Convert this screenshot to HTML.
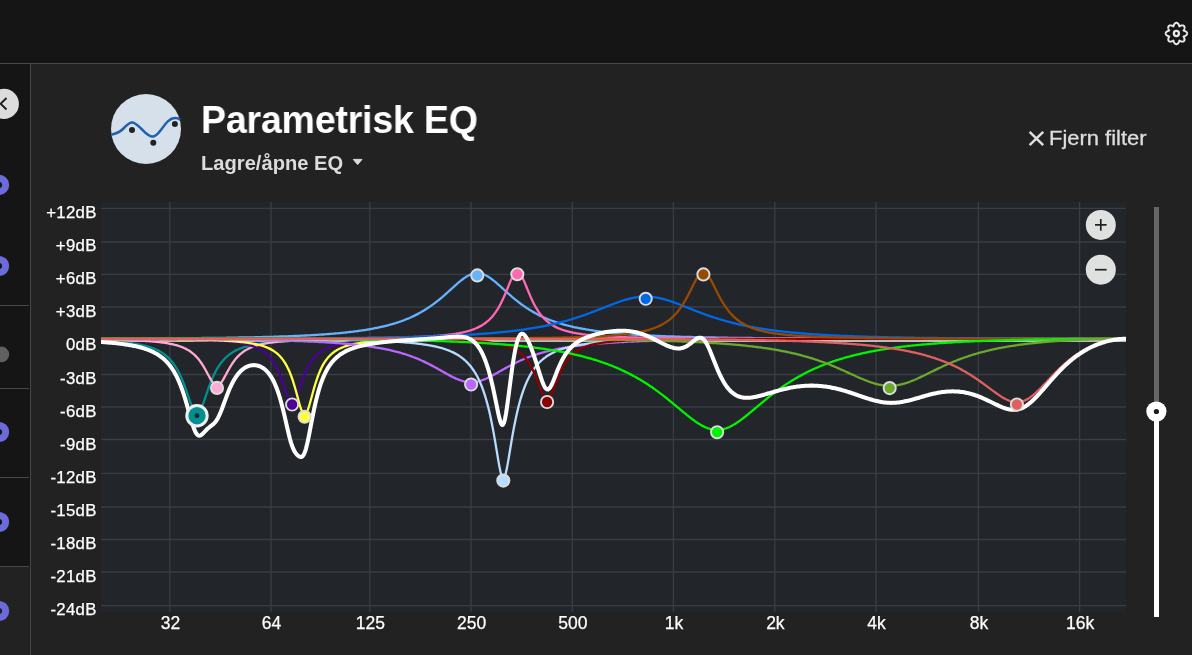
<!DOCTYPE html>
<html><head><meta charset="utf-8"><title>Parametrisk EQ</title>
<style>
html,body{margin:0;padding:0}
body{width:1192px;height:655px;overflow:hidden;background:#222222;position:relative;font-family:"Liberation Sans",sans-serif;color:#fff}
#top{position:absolute;left:0;top:0;width:1192px;height:63px;background:#151515;border-bottom:1px solid #48484c}
#side{position:absolute;left:0;top:64px;width:30px;height:591px;background:#151515;border-right:1px solid #45454a;overflow:hidden}
#side .sel{position:absolute;left:0;top:503px;width:30px;height:100px;background:#222}
#side .dv{position:absolute;left:0;width:29px;height:1px;background:#47474b}
h1{position:absolute;left:201px;top:96.5px;margin:0;font-size:38.8px;font-weight:bold;letter-spacing:-0.2px;white-space:nowrap;line-height:46px;transform-origin:0 50%;transform:scaleX(0.967);will-change:transform}
#sub{position:absolute;left:201px;top:150.6px;transform:scaleX(1.007);will-change:transform;font-size:20px;font-weight:bold;color:#dcdcdc;white-space:nowrap;line-height:24px;transform-origin:0 50%}
#rm{-webkit-text-stroke:0.3px #dedede;position:absolute;left:1049px;top:126px;font-size:20.5px;transform:scaleX(1.07);will-change:transform;color:#dedede;white-space:nowrap;line-height:24px;transform-origin:0 50%}
.hl,.vl{-webkit-text-stroke:0.25px #fff}
.hl{position:absolute;left:30.5px;width:66.2px;text-align:right;font-size:16.8px;letter-spacing:0.3px;line-height:20px;color:#fff;white-space:nowrap}
.vl{position:absolute;top:613px;width:60px;text-align:center;font-size:17.5px;line-height:20px;color:#fff;white-space:nowrap}
</style></head><body>
<div id="top"></div>
<div id="side"><div class="sel"></div>
<div class="dv" style="top:241px"></div><div class="dv" style="top:324px"></div><div class="dv" style="top:413px"></div><div class="dv" style="top:502px"></div>
</div>
<svg width="1192" height="655" viewBox="0 0 1192 655" style="position:absolute;left:0;top:0">
<path d="M1176.40,22.80L1176.57,22.81L1176.74,22.83L1176.90,22.87L1177.07,22.92L1177.23,22.99L1177.39,23.08L1177.54,23.18L1177.69,23.29L1177.84,23.41L1177.98,23.55L1178.11,23.70L1178.24,23.86L1178.36,24.02L1178.48,24.20L1178.59,24.39L1178.69,24.58L1178.79,24.78L1178.88,24.98L1178.96,25.19L1179.03,25.39L1179.10,25.60L1179.17,25.81L1179.23,26.01L1179.29,26.21L1179.35,26.39L1179.51,26.30L1179.69,26.20L1179.88,26.10L1180.07,26.00L1180.27,25.90L1180.47,25.81L1180.67,25.72L1180.88,25.64L1181.09,25.57L1181.30,25.51L1181.51,25.46L1181.71,25.41L1181.92,25.38L1182.12,25.36L1182.32,25.35L1182.52,25.35L1182.71,25.37L1182.89,25.39L1183.07,25.43L1183.24,25.49L1183.41,25.55L1183.56,25.63L1183.71,25.72L1183.84,25.82L1183.97,25.93L1184.08,26.06L1184.18,26.19L1184.27,26.34L1184.35,26.49L1184.41,26.66L1184.47,26.83L1184.51,27.01L1184.53,27.19L1184.55,27.38L1184.55,27.58L1184.54,27.78L1184.52,27.98L1184.49,28.19L1184.44,28.39L1184.39,28.60L1184.33,28.81L1184.26,29.02L1184.18,29.23L1184.09,29.43L1184.00,29.63L1183.90,29.83L1183.80,30.02L1183.70,30.21L1183.60,30.39L1183.51,30.55L1183.69,30.61L1183.89,30.67L1184.09,30.73L1184.30,30.80L1184.51,30.87L1184.71,30.94L1184.92,31.02L1185.12,31.11L1185.32,31.21L1185.51,31.31L1185.70,31.42L1185.88,31.54L1186.04,31.66L1186.20,31.79L1186.35,31.92L1186.49,32.06L1186.61,32.21L1186.72,32.36L1186.82,32.51L1186.91,32.67L1186.98,32.83L1187.03,33.00L1187.07,33.16L1187.09,33.33L1187.10,33.50L1187.09,33.67L1187.07,33.84L1187.03,34.00L1186.98,34.17L1186.91,34.33L1186.82,34.49L1186.72,34.64L1186.61,34.79L1186.49,34.94L1186.35,35.08L1186.20,35.21L1186.04,35.34L1185.88,35.46L1185.70,35.58L1185.51,35.69L1185.32,35.79L1185.12,35.89L1184.92,35.98L1184.71,36.06L1184.51,36.13L1184.30,36.20L1184.09,36.27L1183.89,36.33L1183.69,36.39L1183.51,36.45L1183.60,36.61L1183.70,36.79L1183.80,36.98L1183.90,37.17L1184.00,37.37L1184.09,37.57L1184.18,37.77L1184.26,37.98L1184.33,38.19L1184.39,38.40L1184.44,38.61L1184.49,38.81L1184.52,39.02L1184.54,39.22L1184.55,39.42L1184.55,39.62L1184.53,39.81L1184.51,39.99L1184.47,40.17L1184.41,40.34L1184.35,40.51L1184.27,40.66L1184.18,40.81L1184.08,40.94L1183.97,41.07L1183.84,41.18L1183.71,41.28L1183.56,41.37L1183.41,41.45L1183.24,41.51L1183.07,41.57L1182.89,41.61L1182.71,41.63L1182.52,41.65L1182.32,41.65L1182.12,41.64L1181.92,41.62L1181.71,41.59L1181.51,41.54L1181.30,41.49L1181.09,41.43L1180.88,41.36L1180.67,41.28L1180.47,41.19L1180.27,41.10L1180.07,41.00L1179.88,40.90L1179.69,40.80L1179.51,40.70L1179.35,40.61L1179.29,40.79L1179.23,40.99L1179.17,41.19L1179.10,41.40L1179.03,41.61L1178.96,41.81L1178.88,42.02L1178.79,42.22L1178.69,42.42L1178.59,42.61L1178.48,42.80L1178.36,42.98L1178.24,43.14L1178.11,43.30L1177.98,43.45L1177.84,43.59L1177.69,43.71L1177.54,43.82L1177.39,43.92L1177.23,44.01L1177.07,44.08L1176.90,44.13L1176.74,44.17L1176.57,44.19L1176.40,44.20L1176.23,44.19L1176.06,44.17L1175.90,44.13L1175.73,44.08L1175.57,44.01L1175.41,43.92L1175.26,43.82L1175.11,43.71L1174.96,43.59L1174.82,43.45L1174.69,43.30L1174.56,43.14L1174.44,42.98L1174.32,42.80L1174.21,42.61L1174.11,42.42L1174.01,42.22L1173.92,42.02L1173.84,41.81L1173.77,41.61L1173.70,41.40L1173.63,41.19L1173.57,40.99L1173.51,40.79L1173.45,40.61L1173.29,40.70L1173.11,40.80L1172.92,40.90L1172.73,41.00L1172.53,41.10L1172.33,41.19L1172.13,41.28L1171.92,41.36L1171.71,41.43L1171.50,41.49L1171.29,41.54L1171.09,41.59L1170.88,41.62L1170.68,41.64L1170.48,41.65L1170.28,41.65L1170.09,41.63L1169.91,41.61L1169.73,41.57L1169.56,41.51L1169.39,41.45L1169.24,41.37L1169.09,41.28L1168.96,41.18L1168.83,41.07L1168.72,40.94L1168.62,40.81L1168.53,40.66L1168.45,40.51L1168.39,40.34L1168.33,40.17L1168.29,39.99L1168.27,39.81L1168.25,39.62L1168.25,39.42L1168.26,39.22L1168.28,39.02L1168.31,38.81L1168.36,38.61L1168.41,38.40L1168.47,38.19L1168.54,37.98L1168.62,37.77L1168.71,37.57L1168.80,37.37L1168.90,37.17L1169.00,36.98L1169.10,36.79L1169.20,36.61L1169.29,36.45L1169.11,36.39L1168.91,36.33L1168.71,36.27L1168.50,36.20L1168.29,36.13L1168.09,36.06L1167.88,35.98L1167.68,35.89L1167.48,35.79L1167.29,35.69L1167.10,35.58L1166.92,35.46L1166.76,35.34L1166.60,35.21L1166.45,35.08L1166.31,34.94L1166.19,34.79L1166.08,34.64L1165.98,34.49L1165.89,34.33L1165.82,34.17L1165.77,34.00L1165.73,33.84L1165.71,33.67L1165.70,33.50L1165.71,33.33L1165.73,33.16L1165.77,33.00L1165.82,32.83L1165.89,32.67L1165.98,32.51L1166.08,32.36L1166.19,32.21L1166.31,32.06L1166.45,31.92L1166.60,31.79L1166.76,31.66L1166.92,31.54L1167.10,31.42L1167.29,31.31L1167.48,31.21L1167.68,31.11L1167.88,31.02L1168.09,30.94L1168.29,30.87L1168.50,30.80L1168.71,30.73L1168.91,30.67L1169.11,30.61L1169.29,30.55L1169.20,30.39L1169.10,30.21L1169.00,30.02L1168.90,29.83L1168.80,29.63L1168.71,29.43L1168.62,29.23L1168.54,29.02L1168.47,28.81L1168.41,28.60L1168.36,28.39L1168.31,28.19L1168.28,27.98L1168.26,27.78L1168.25,27.58L1168.25,27.38L1168.27,27.19L1168.29,27.01L1168.33,26.83L1168.39,26.66L1168.45,26.49L1168.53,26.34L1168.62,26.19L1168.72,26.06L1168.83,25.93L1168.96,25.82L1169.09,25.72L1169.24,25.63L1169.39,25.55L1169.56,25.49L1169.73,25.43L1169.91,25.39L1170.09,25.37L1170.28,25.35L1170.48,25.35L1170.68,25.36L1170.88,25.38L1171.09,25.41L1171.29,25.46L1171.50,25.51L1171.71,25.57L1171.92,25.64L1172.13,25.72L1172.33,25.81L1172.53,25.90L1172.73,26.00L1172.92,26.10L1173.11,26.20L1173.29,26.30L1173.45,26.39L1173.51,26.21L1173.57,26.01L1173.63,25.81L1173.70,25.60L1173.77,25.39L1173.84,25.19L1173.92,24.98L1174.01,24.78L1174.11,24.58L1174.21,24.39L1174.32,24.20L1174.44,24.02L1174.56,23.86L1174.69,23.70L1174.82,23.55L1174.96,23.41L1175.11,23.29L1175.26,23.18L1175.41,23.08L1175.57,22.99L1175.73,22.92L1175.90,22.87L1176.06,22.83L1176.23,22.81Z" fill="none" stroke="#e8e8e8" stroke-width="1.95" stroke-linejoin="round"/>
<circle cx="1176.4" cy="33.5" r="2.55" fill="none" stroke="#e8e8e8" stroke-width="2.3"/>
<circle cx="3.8" cy="103.9" r="15.1" fill="#dcdcdc"/>
<path d="M6.5,98L0.6,103.8L6.5,109.5" fill="none" stroke="#1c1c1c" stroke-width="1.9"/>
<g fill="none" stroke="#6b6bdc" stroke-width="7">
<circle cx="-0.9" cy="184.9" r="6.6"/><circle cx="-0.9" cy="266" r="6.6"/><circle cx="-0.9" cy="432" r="6.6"/><circle cx="-0.9" cy="522" r="6.6"/><circle cx="-0.9" cy="611" r="6.6"/>
</g>
<circle cx="1.4" cy="354.4" r="7.8" fill="#606060"/>
<circle cx="146" cy="129" r="35" fill="#d6e0eb"/>
<path d="M111,134.7C116,133.8 120,132 123.5,128.5C127,125 129,122.4 132,122.4C135.5,122.4 138,125.5 141.5,129C145.5,133 148.5,136.6 152.4,136.6C156.3,136.6 159,132.5 162,128.5C166,123 169.5,118 175,118C177.2,118 178.8,118.6 180.2,119.8" fill="none" stroke="#2060b0" stroke-width="2.5"/>
<circle cx="132" cy="129.9" r="3" fill="#222"/><circle cx="153.3" cy="142.7" r="3" fill="#222"/><circle cx="174.9" cy="124" r="3" fill="#222"/>
<path d="M353.3,159.4H362L357.65,164.6Z" fill="#dcdcdc" stroke="#dcdcdc" stroke-width="1" stroke-linejoin="round"/>
<path d="M1029.6,131.8L1043.2,145.2M1043.2,131.8L1029.6,145.2" stroke="#dedede" stroke-width="2.5" fill="none"/>
<rect x="1154" y="207" width="5" height="205" fill="#666"/>
<rect x="1154" y="411" width="5" height="206" fill="#fff"/>
<circle cx="1156.4" cy="411.5" r="10.1" fill="#fff"/><circle cx="1156.4" cy="411.5" r="2.6" fill="#1c1c1c"/>
</svg>
<h1>Parametrisk EQ</h1>
<div id="sub">Lagre/åpne EQ</div>
<div id="rm">Fjern filter</div>
<svg id="chart" width="1192" height="655" viewBox="0 0 1192 655" style="position:absolute;left:0;top:0">
<rect x="101" y="202" width="1025" height="410" fill="#22252a"/>
<path d="M101,208.3H1126M101,242.0H1126M101,274.4H1126M101,307.0H1126M101,374.5H1126M101,407.0H1126M101,439.5H1126M101,473.3H1126M101,507.0H1126M101,539.5H1126M101,572.0H1126M101,605.6H1126M169.8,202V612M271.0,202V612M369.8,202V612M471.0,202V612M572.3,202V612M673.4,202V612M774.8,202V612M876.0,202V612M978.4,202V612M1079.6,202V612" stroke="#393e46" stroke-width="1.3" fill="none"/>
<path d="M101,341H1126" stroke="#ececec" stroke-width="1.6" fill="none"/>
<defs><clipPath id="cc"><rect x="101" y="202" width="1025" height="410"/></clipPath></defs>
<g clip-path="url(#cc)">
<g fill="none" stroke-width="2.3" stroke-linejoin="round" stroke-linecap="round">
<path d="M99.0,340.7L100.0,340.7L101.0,340.8L102.0,340.8L103.0,340.9L104.0,340.9L105.0,341.0L106.0,341.0L107.0,341.1L108.0,341.1L109.0,341.2L110.0,341.3L111.0,341.3L112.0,341.4L113.0,341.5L114.0,341.5L115.0,341.6L116.0,341.7L117.0,341.7L118.0,341.8L119.0,341.9L120.0,342.0L121.0,342.1L122.0,342.2L123.0,342.3L124.0,342.4L125.0,342.5L126.0,342.6L127.0,342.7L128.0,342.8L129.0,342.9L130.0,343.1L131.0,343.2L132.0,343.3L133.0,343.5L134.0,343.6L135.0,343.8L136.0,343.9L137.0,344.1L138.0,344.3L139.0,344.5L140.0,344.6L141.0,344.8L142.0,345.1L143.0,345.3L144.0,345.5L145.0,345.8L146.0,346.0L147.0,346.3L148.0,346.6L149.0,346.9L150.0,347.2L151.0,347.5L152.0,347.9L153.0,348.2L154.0,348.6L155.0,349.0L156.0,349.5L157.0,349.9L158.0,350.4L159.0,350.9L160.0,351.5L161.0,352.1L162.0,352.7L163.0,353.4L164.0,354.1L165.0,354.8L166.0,355.6L167.0,356.5L168.0,357.4L169.0,358.4L170.0,359.4L171.0,360.5L172.0,361.7L173.0,363.0L174.0,364.3L175.0,365.8L176.0,367.4L177.0,369.0L178.0,370.8L179.0,372.7L180.0,374.8L181.0,376.9L182.0,379.2L183.0,381.7L184.0,384.2L185.0,386.9L186.0,389.7L187.0,392.5L188.0,395.5L189.0,398.4L190.0,401.3L191.0,404.0L192.0,406.6L193.0,408.9L194.0,410.8L195.0,412.2L196.0,413.1L197.0,413.4L198.0,413.1L199.0,412.2L200.0,410.8L201.0,408.9L202.0,406.6L203.0,404.0L204.0,401.3L205.0,398.4L206.0,395.5L207.0,392.5L208.0,389.7L209.0,386.9L210.0,384.2L211.0,381.7L212.0,379.2L213.0,376.9L214.0,374.8L215.0,372.7L216.0,370.8L217.0,369.0L218.0,367.4L219.0,365.8L220.0,364.3L221.0,363.0L222.0,361.7L223.0,360.5L224.0,359.4L225.0,358.4L226.0,357.4L227.0,356.5L228.0,355.6L229.0,354.8L230.0,354.1L231.0,353.4L232.0,352.7L233.0,352.1L234.0,351.5L235.0,350.9L236.0,350.4L237.0,349.9L238.0,349.5L239.0,349.0L240.0,348.6L241.0,348.2L242.0,347.9L243.0,347.5L244.0,347.2L245.0,346.9L246.0,346.6L247.0,346.3L248.0,346.0L249.0,345.8L250.0,345.5L251.0,345.3L252.0,345.1L253.0,344.8L254.0,344.6L255.0,344.5L256.0,344.3L257.0,344.1L258.0,343.9L259.0,343.8L260.0,343.6L261.0,343.5L262.0,343.3L263.0,343.2L264.0,343.1L265.0,342.9L266.0,342.8L267.0,342.7L268.0,342.6L269.0,342.5L270.0,342.4L271.0,342.3L272.0,342.2L273.0,342.1L274.0,342.0L275.0,341.9L276.0,341.8L277.0,341.7L278.0,341.7L279.0,341.6L280.0,341.5L281.0,341.5L282.0,341.4L283.0,341.3L284.0,341.3L285.0,341.2L286.0,341.1L287.0,341.1L288.0,341.0L289.0,341.0L290.0,340.9L291.0,340.9L292.0,340.8L293.0,340.8L294.0,340.7L295.0,340.7L296.0,340.6L297.0,340.6L298.0,340.6L299.0,340.5L300.0,340.5L301.0,340.4L302.0,340.4L303.0,340.4L304.0,340.3L305.0,340.3L306.0,340.3L307.0,340.2L308.0,340.2L309.0,340.2L310.0,340.1L311.0,340.1L312.0,340.1L313.0,340.1L314.0,340.0L315.0,340.0L316.0,340.0L317.0,340.0L318.0,339.9L319.0,339.9L320.0,339.9L321.0,339.9L322.0,339.9L323.0,339.8L324.0,339.8L325.0,339.8L326.0,339.8L327.0,339.8L328.0,339.7L329.0,339.7L330.0,339.7L331.0,339.7L332.0,339.7L333.0,339.6L334.0,339.6L335.0,339.6L336.0,339.6L337.0,339.6L338.0,339.6L339.0,339.6L340.0,339.5L341.0,339.5L342.0,339.5L343.0,339.5L344.0,339.5L345.0,339.5L346.0,339.5L347.0,339.4L348.0,339.4L349.0,339.4L350.0,339.4L351.0,339.4L352.0,339.4L353.0,339.4L354.0,339.4L355.0,339.4L356.0,339.3L357.0,339.3L358.0,339.3L359.0,339.3L360.0,339.3L361.0,339.3L362.0,339.3L363.0,339.3L364.0,339.3L365.0,339.3L366.0,339.3L367.0,339.2L368.0,339.2L369.0,339.2L370.0,339.2L371.0,339.2L372.0,339.2L373.0,339.2L374.0,339.2L375.0,339.2L376.0,339.2L377.0,339.2L378.0,339.2L379.0,339.2L380.0,339.2L381.0,339.1L382.0,339.1L383.0,339.1L384.0,339.1L385.0,339.1L386.0,339.1L387.0,339.1L388.0,339.1L389.0,339.1L390.0,339.1L391.0,339.1L392.0,339.1L393.0,339.1L394.0,339.1L395.0,339.1L396.0,339.1L397.0,339.1L398.0,339.1L399.0,339.0L400.0,339.0L401.0,339.0L402.0,339.0L403.0,339.0L404.0,339.0L405.0,339.0L406.0,339.0L407.0,339.0L408.0,339.0L409.0,339.0L410.0,339.0L411.0,339.0L412.0,339.0L413.0,339.0L414.0,339.0L415.0,339.0L416.0,339.0L417.0,339.0L418.0,339.0L419.0,339.0L420.0,339.0L421.0,339.0L422.0,339.0L423.0,339.0L424.0,339.0L425.0,339.0L426.0,338.9L427.0,338.9L428.0,338.9L429.0,338.9L430.0,338.9L431.0,338.9L432.0,338.9L433.0,338.9L434.0,338.9L435.0,338.9L436.0,338.9L437.0,338.9L438.0,338.9L439.0,338.9L440.0,338.9L441.0,338.9L442.0,338.9L443.0,338.9L444.0,338.9L445.0,338.9L446.0,338.9L447.0,338.9L448.0,338.9L449.0,338.9L450.0,338.9L451.0,338.9L452.0,338.9L453.0,338.9L454.0,338.9L455.0,338.9L456.0,338.9L457.0,338.9L458.0,338.9L459.0,338.9L460.0,338.9L461.0,338.9L462.0,338.9L463.0,338.9L464.0,338.9L465.0,338.9L466.0,338.9L467.0,338.9L468.0,338.9L469.0,338.9L470.0,338.9L471.0,338.9L472.0,338.9L473.0,338.8L474.0,338.8L475.0,338.8L476.0,338.8L477.0,338.8L478.0,338.8L479.0,338.8L480.0,338.8L481.0,338.8L482.0,338.8L483.0,338.8L484.0,338.8L485.0,338.8L486.0,338.8L487.0,338.8L488.0,338.8L489.0,338.8L490.0,338.8L491.0,338.8L492.0,338.8L493.0,338.8L494.0,338.8L495.0,338.8L496.0,338.8L497.0,338.8L498.0,338.8L499.0,338.8L500.0,338.8L501.0,338.8L502.0,338.8L503.0,338.8L504.0,338.8L505.0,338.8L506.0,338.8L507.0,338.8L508.0,338.8L509.0,338.8L510.0,338.8L511.0,338.8L512.0,338.8L513.0,338.8L514.0,338.8L515.0,338.8L516.0,338.8L517.0,338.8L518.0,338.8L519.0,338.8L520.0,338.8L521.0,338.8L522.0,338.8L523.0,338.8L524.0,338.8L525.0,338.8L526.0,338.8L527.0,338.8L528.0,338.8L529.0,338.8L530.0,338.8L531.0,338.8L532.0,338.8L533.0,338.8L534.0,338.8L535.0,338.8L536.0,338.8L537.0,338.8L538.0,338.8L539.0,338.8L540.0,338.8L541.0,338.8L542.0,338.8L543.0,338.8L544.0,338.8L545.0,338.8L546.0,338.8L547.0,338.8L548.0,338.8L549.0,338.8L550.0,338.8L551.0,338.8L552.0,338.8L553.0,338.8L554.0,338.8L555.0,338.8L556.0,338.8L557.0,338.8L558.0,338.8L559.0,338.8L560.0,338.8L561.0,338.8L562.0,338.8L563.0,338.8L564.0,338.8L565.0,338.8L566.0,338.8L567.0,338.8L568.0,338.8L569.0,338.8L570.0,338.8L571.0,338.8L572.0,338.8L573.0,338.8L574.0,338.8L575.0,338.8L576.0,338.8L577.0,338.8L578.0,338.8L579.0,338.8L580.0,338.8L581.0,338.8L582.0,338.8L583.0,338.8L584.0,338.8L585.0,338.8L586.0,338.8L587.0,338.8L588.0,338.8L589.0,338.8L590.0,338.8L591.0,338.8L592.0,338.8L593.0,338.8L594.0,338.8L595.0,338.8L596.0,338.8L597.0,338.8L598.0,338.8L599.0,338.8L600.0,338.8L601.0,338.8L602.0,338.8L603.0,338.8L604.0,338.8L605.0,338.8L606.0,338.8L607.0,338.8L608.0,338.8L609.0,338.8L610.0,338.8L611.0,338.8L612.0,338.8L613.0,338.8L614.0,338.8L615.0,338.8L616.0,338.8L617.0,338.8L618.0,338.8L619.0,338.8L620.0,338.8L621.0,338.8L622.0,338.8L623.0,338.8L624.0,338.8L625.0,338.8L626.0,338.8L627.0,338.8L628.0,338.8L629.0,338.8L630.0,338.8L631.0,338.8L632.0,338.8L633.0,338.8L634.0,338.8L635.0,338.8L636.0,338.8L637.0,338.8L638.0,338.8L639.0,338.8L640.0,338.8L641.0,338.8L642.0,338.8L643.0,338.8L644.0,338.8L645.0,338.8L646.0,338.8L647.0,338.8L648.0,338.8L649.0,338.8L650.0,338.8L651.0,338.8L652.0,338.8L653.0,338.8L654.0,338.8L655.0,338.8L656.0,338.8L657.0,338.8L658.0,338.8L659.0,338.8L660.0,338.8L661.0,338.8L662.0,338.8L663.0,338.8L664.0,338.8L665.0,338.8L666.0,338.8L667.0,338.8L668.0,338.8L669.0,338.8L670.0,338.8L671.0,338.8L672.0,338.8L673.0,338.8L674.0,338.8L675.0,338.8L676.0,338.8L677.0,338.8L678.0,338.8L679.0,338.8L680.0,338.8L681.0,338.8L682.0,338.8L683.0,338.8L684.0,338.8L685.0,338.8L686.0,338.8L687.0,338.8L688.0,338.8L689.0,338.8L690.0,338.8L691.0,338.8L692.0,338.8L693.0,338.8L694.0,338.8L695.0,338.8L696.0,338.8L697.0,338.8L698.0,338.8L699.0,338.8L700.0,338.8L701.0,338.8L702.0,338.8L703.0,338.8L704.0,338.8L705.0,338.8L706.0,338.8L707.0,338.8L708.0,338.8L709.0,338.8L710.0,338.8L711.0,338.8L712.0,338.8L713.0,338.8L714.0,338.8L715.0,338.8L716.0,338.8L717.0,338.8L718.0,338.8L719.0,338.8L720.0,338.8L721.0,338.8L722.0,338.8L723.0,338.8L724.0,338.8L725.0,338.8L726.0,338.8L727.0,338.8L728.0,338.8L729.0,338.8L730.0,338.8L731.0,338.8L732.0,338.8L733.0,338.8L734.0,338.8L735.0,338.8L736.0,338.8L737.0,338.8L738.0,338.8L739.0,338.8L740.0,338.8L741.0,338.8L742.0,338.8L743.0,338.8L744.0,338.8L745.0,338.8L746.0,338.8L747.0,338.8L748.0,338.8L749.0,338.8L750.0,338.8L751.0,338.8L752.0,338.8L753.0,338.8L754.0,338.8L755.0,338.8L756.0,338.8L757.0,338.8L758.0,338.8L759.0,338.8L760.0,338.8L761.0,338.8L762.0,338.8L763.0,338.8L764.0,338.8L765.0,338.8L766.0,338.8L767.0,338.8L768.0,338.8L769.0,338.8L770.0,338.8L771.0,338.8L772.0,338.8L773.0,338.8L774.0,338.8L775.0,338.8L776.0,338.8L777.0,338.8L778.0,338.8L779.0,338.8L780.0,338.8L781.0,338.8L782.0,338.8L783.0,338.8L784.0,338.8L785.0,338.8L786.0,338.8L787.0,338.8L788.0,338.8L789.0,338.8L790.0,338.8L791.0,338.8L792.0,338.8L793.0,338.8L794.0,338.8L795.0,338.8L796.0,338.8L797.0,338.8L798.0,338.8L799.0,338.8L800.0,338.8L801.0,338.8L802.0,338.8L803.0,338.8L804.0,338.8L805.0,338.8L806.0,338.8L807.0,338.8L808.0,338.8L809.0,338.8L810.0,338.8L811.0,338.8L812.0,338.8L813.0,338.8L814.0,338.8L815.0,338.8L816.0,338.8L817.0,338.8L818.0,338.8L819.0,338.8L820.0,338.8L821.0,338.8L822.0,338.8L823.0,338.8L824.0,338.8L825.0,338.8L826.0,338.8L827.0,338.8L828.0,338.8L829.0,338.8L830.0,338.8L831.0,338.8L832.0,338.8L833.0,338.8L834.0,338.8L835.0,338.8L836.0,338.8L837.0,338.8L838.0,338.8L839.0,338.8L840.0,338.8L841.0,338.8L842.0,338.8L843.0,338.8L844.0,338.8L845.0,338.8L846.0,338.8L847.0,338.8L848.0,338.8L849.0,338.8L850.0,338.8L851.0,338.8L852.0,338.8L853.0,338.8L854.0,338.8L855.0,338.8L856.0,338.8L857.0,338.8L858.0,338.8L859.0,338.8L860.0,338.8L861.0,338.8L862.0,338.8L863.0,338.8L864.0,338.8L865.0,338.8L866.0,338.8L867.0,338.8L868.0,338.8L869.0,338.8L870.0,338.8L871.0,338.8L872.0,338.8L873.0,338.8L874.0,338.8L875.0,338.8L876.0,338.8L877.0,338.8L878.0,338.8L879.0,338.8L880.0,338.8L881.0,338.8L882.0,338.8L883.0,338.8L884.0,338.8L885.0,338.8L886.0,338.8L887.0,338.8L888.0,338.8L889.0,338.8L890.0,338.8L891.0,338.8L892.0,338.8L893.0,338.8L894.0,338.8L895.0,338.8L896.0,338.8L897.0,338.8L898.0,338.8L899.0,338.8L900.0,338.8L901.0,338.8L902.0,338.8L903.0,338.8L904.0,338.8L905.0,338.8L906.0,338.8L907.0,338.8L908.0,338.8L909.0,338.8L910.0,338.8L911.0,338.8L912.0,338.8L913.0,338.8L914.0,338.8L915.0,338.8L916.0,338.8L917.0,338.8L918.0,338.8L919.0,338.8L920.0,338.8L921.0,338.8L922.0,338.8L923.0,338.8L924.0,338.8L925.0,338.8L926.0,338.8L927.0,338.8L928.0,338.8L929.0,338.8L930.0,338.8L931.0,338.8L932.0,338.8L933.0,338.8L934.0,338.8L935.0,338.8L936.0,338.8L937.0,338.8L938.0,338.8L939.0,338.8L940.0,338.8L941.0,338.8L942.0,338.8L943.0,338.8L944.0,338.8L945.0,338.8L946.0,338.8L947.0,338.8L948.0,338.8L949.0,338.8L950.0,338.8L951.0,338.8L952.0,338.8L953.0,338.8L954.0,338.8L955.0,338.8L956.0,338.8L957.0,338.8L958.0,338.8L959.0,338.8L960.0,338.8L961.0,338.8L962.0,338.8L963.0,338.8L964.0,338.8L965.0,338.8L966.0,338.8L967.0,338.8L968.0,338.8L969.0,338.8L970.0,338.8L971.0,338.8L972.0,338.8L973.0,338.8L974.0,338.8L975.0,338.8L976.0,338.8L977.0,338.8L978.0,338.8L979.0,338.8L980.0,338.8L981.0,338.8L982.0,338.8L983.0,338.8L984.0,338.8L985.0,338.8L986.0,338.8L987.0,338.8L988.0,338.8L989.0,338.8L990.0,338.8L991.0,338.8L992.0,338.8L993.0,338.8L994.0,338.8L995.0,338.8L996.0,338.8L997.0,338.8L998.0,338.8L999.0,338.8L1000.0,338.8L1001.0,338.8L1002.0,338.8L1003.0,338.8L1004.0,338.8L1005.0,338.8L1006.0,338.8L1007.0,338.8L1008.0,338.8L1009.0,338.8L1010.0,338.8L1011.0,338.8L1012.0,338.8L1013.0,338.8L1014.0,338.8L1015.0,338.8L1016.0,338.8L1017.0,338.8L1018.0,338.8L1019.0,338.8L1020.0,338.8L1021.0,338.8L1022.0,338.8L1023.0,338.8L1024.0,338.8L1025.0,338.8L1026.0,338.8L1027.0,338.8L1028.0,338.8L1029.0,338.8L1030.0,338.8L1031.0,338.8L1032.0,338.8L1033.0,338.8L1034.0,338.8L1035.0,338.8L1036.0,338.8L1037.0,338.8L1038.0,338.8L1039.0,338.8L1040.0,338.8L1041.0,338.8L1042.0,338.8L1043.0,338.8L1044.0,338.8L1045.0,338.8L1046.0,338.8L1047.0,338.8L1048.0,338.8L1049.0,338.8L1050.0,338.8L1051.0,338.8L1052.0,338.8L1053.0,338.8L1054.0,338.8L1055.0,338.8L1056.0,338.8L1057.0,338.8L1058.0,338.8L1059.0,338.8L1060.0,338.8L1061.0,338.8L1062.0,338.8L1063.0,338.8L1064.0,338.8L1065.0,338.8L1066.0,338.8L1067.0,338.8L1068.0,338.8L1069.0,338.8L1070.0,338.8L1071.0,338.8L1072.0,338.8L1073.0,338.8L1074.0,338.8L1075.0,338.8L1076.0,338.8L1077.0,338.8L1078.0,338.8L1079.0,338.8L1080.0,338.8L1081.0,338.8L1082.0,338.8L1083.0,338.8L1084.0,338.8L1085.0,338.8L1086.0,338.8L1087.0,338.8L1088.0,338.8L1089.0,338.8L1090.0,338.8L1091.0,338.8L1092.0,338.8L1093.0,338.8L1094.0,338.8L1095.0,338.8L1096.0,338.8L1097.0,338.8L1098.0,338.8L1099.0,338.8L1100.0,338.8L1101.0,338.8L1102.0,338.8L1103.0,338.8L1104.0,338.8L1105.0,338.8L1106.0,338.8L1107.0,338.8L1108.0,338.8L1109.0,338.8L1110.0,338.8L1111.0,338.8L1112.0,338.8L1113.0,338.8L1114.0,338.8L1115.0,338.8L1116.0,338.8L1117.0,338.8L1118.0,338.8L1119.0,338.8L1120.0,338.8L1121.0,338.8L1122.0,338.8L1123.0,338.8L1124.0,338.8L1125.0,338.8L1126.0,338.8L1127.0,338.8L1128.0,338.8" stroke="#009090"/>
<path d="M99.0,339.5L100.0,339.5L101.0,339.5L102.0,339.5L103.0,339.5L104.0,339.6L105.0,339.6L106.0,339.6L107.0,339.6L108.0,339.6L109.0,339.7L110.0,339.7L111.0,339.7L112.0,339.7L113.0,339.7L114.0,339.8L115.0,339.8L116.0,339.8L117.0,339.8L118.0,339.9L119.0,339.9L120.0,339.9L121.0,339.9L122.0,340.0L123.0,340.0L124.0,340.0L125.0,340.0L126.0,340.1L127.0,340.1L128.0,340.1L129.0,340.2L130.0,340.2L131.0,340.3L132.0,340.3L133.0,340.3L134.0,340.4L135.0,340.4L136.0,340.5L137.0,340.5L138.0,340.6L139.0,340.6L140.0,340.7L141.0,340.7L142.0,340.8L143.0,340.8L144.0,340.9L145.0,340.9L146.0,341.0L147.0,341.1L148.0,341.1L149.0,341.2L150.0,341.3L151.0,341.4L152.0,341.4L153.0,341.5L154.0,341.6L155.0,341.7L156.0,341.8L157.0,341.9L158.0,342.0L159.0,342.1L160.0,342.2L161.0,342.3L162.0,342.5L163.0,342.6L164.0,342.7L165.0,342.9L166.0,343.0L167.0,343.2L168.0,343.4L169.0,343.6L170.0,343.8L171.0,344.0L172.0,344.2L173.0,344.4L174.0,344.6L175.0,344.9L176.0,345.1L177.0,345.4L178.0,345.7L179.0,346.0L180.0,346.4L181.0,346.7L182.0,347.1L183.0,347.5L184.0,348.0L185.0,348.4L186.0,348.9L187.0,349.5L188.0,350.0L189.0,350.6L190.0,351.3L191.0,352.0L192.0,352.8L193.0,353.6L194.0,354.4L195.0,355.4L196.0,356.4L197.0,357.4L198.0,358.6L199.0,359.8L200.0,361.1L201.0,362.5L202.0,364.0L203.0,365.6L204.0,367.2L205.0,369.0L206.0,370.8L207.0,372.6L208.0,374.5L209.0,376.3L210.0,378.1L211.0,379.9L212.0,381.5L213.0,382.9L214.0,384.1L215.0,384.9L216.0,385.5L217.0,385.6L218.0,385.5L219.0,384.9L220.0,384.1L221.0,382.9L222.0,381.5L223.0,379.9L224.0,378.1L225.0,376.3L226.0,374.5L227.0,372.6L228.0,370.8L229.0,369.0L230.0,367.2L231.0,365.6L232.0,364.0L233.0,362.5L234.0,361.1L235.0,359.8L236.0,358.6L237.0,357.4L238.0,356.4L239.0,355.4L240.0,354.4L241.0,353.6L242.0,352.8L243.0,352.0L244.0,351.3L245.0,350.6L246.0,350.0L247.0,349.5L248.0,348.9L249.0,348.4L250.0,348.0L251.0,347.5L252.0,347.1L253.0,346.7L254.0,346.4L255.0,346.0L256.0,345.7L257.0,345.4L258.0,345.1L259.0,344.9L260.0,344.6L261.0,344.4L262.0,344.2L263.0,344.0L264.0,343.8L265.0,343.6L266.0,343.4L267.0,343.2L268.0,343.0L269.0,342.9L270.0,342.7L271.0,342.6L272.0,342.5L273.0,342.3L274.0,342.2L275.0,342.1L276.0,342.0L277.0,341.9L278.0,341.8L279.0,341.7L280.0,341.6L281.0,341.5L282.0,341.4L283.0,341.4L284.0,341.3L285.0,341.2L286.0,341.1L287.0,341.1L288.0,341.0L289.0,340.9L290.0,340.9L291.0,340.8L292.0,340.8L293.0,340.7L294.0,340.7L295.0,340.6L296.0,340.6L297.0,340.5L298.0,340.5L299.0,340.4L300.0,340.4L301.0,340.3L302.0,340.3L303.0,340.3L304.0,340.2L305.0,340.2L306.0,340.1L307.0,340.1L308.0,340.1L309.0,340.0L310.0,340.0L311.0,340.0L312.0,340.0L313.0,339.9L314.0,339.9L315.0,339.9L316.0,339.9L317.0,339.8L318.0,339.8L319.0,339.8L320.0,339.8L321.0,339.7L322.0,339.7L323.0,339.7L324.0,339.7L325.0,339.7L326.0,339.6L327.0,339.6L328.0,339.6L329.0,339.6L330.0,339.6L331.0,339.5L332.0,339.5L333.0,339.5L334.0,339.5L335.0,339.5L336.0,339.5L337.0,339.5L338.0,339.4L339.0,339.4L340.0,339.4L341.0,339.4L342.0,339.4L343.0,339.4L344.0,339.4L345.0,339.4L346.0,339.3L347.0,339.3L348.0,339.3L349.0,339.3L350.0,339.3L351.0,339.3L352.0,339.3L353.0,339.3L354.0,339.3L355.0,339.3L356.0,339.2L357.0,339.2L358.0,339.2L359.0,339.2L360.0,339.2L361.0,339.2L362.0,339.2L363.0,339.2L364.0,339.2L365.0,339.2L366.0,339.2L367.0,339.2L368.0,339.1L369.0,339.1L370.0,339.1L371.0,339.1L372.0,339.1L373.0,339.1L374.0,339.1L375.0,339.1L376.0,339.1L377.0,339.1L378.0,339.1L379.0,339.1L380.0,339.1L381.0,339.1L382.0,339.1L383.0,339.1L384.0,339.1L385.0,339.0L386.0,339.0L387.0,339.0L388.0,339.0L389.0,339.0L390.0,339.0L391.0,339.0L392.0,339.0L393.0,339.0L394.0,339.0L395.0,339.0L396.0,339.0L397.0,339.0L398.0,339.0L399.0,339.0L400.0,339.0L401.0,339.0L402.0,339.0L403.0,339.0L404.0,339.0L405.0,339.0L406.0,339.0L407.0,339.0L408.0,339.0L409.0,339.0L410.0,338.9L411.0,338.9L412.0,338.9L413.0,338.9L414.0,338.9L415.0,338.9L416.0,338.9L417.0,338.9L418.0,338.9L419.0,338.9L420.0,338.9L421.0,338.9L422.0,338.9L423.0,338.9L424.0,338.9L425.0,338.9L426.0,338.9L427.0,338.9L428.0,338.9L429.0,338.9L430.0,338.9L431.0,338.9L432.0,338.9L433.0,338.9L434.0,338.9L435.0,338.9L436.0,338.9L437.0,338.9L438.0,338.9L439.0,338.9L440.0,338.9L441.0,338.9L442.0,338.9L443.0,338.9L444.0,338.9L445.0,338.9L446.0,338.9L447.0,338.9L448.0,338.9L449.0,338.9L450.0,338.9L451.0,338.9L452.0,338.9L453.0,338.9L454.0,338.9L455.0,338.9L456.0,338.8L457.0,338.8L458.0,338.8L459.0,338.8L460.0,338.8L461.0,338.8L462.0,338.8L463.0,338.8L464.0,338.8L465.0,338.8L466.0,338.8L467.0,338.8L468.0,338.8L469.0,338.8L470.0,338.8L471.0,338.8L472.0,338.8L473.0,338.8L474.0,338.8L475.0,338.8L476.0,338.8L477.0,338.8L478.0,338.8L479.0,338.8L480.0,338.8L481.0,338.8L482.0,338.8L483.0,338.8L484.0,338.8L485.0,338.8L486.0,338.8L487.0,338.8L488.0,338.8L489.0,338.8L490.0,338.8L491.0,338.8L492.0,338.8L493.0,338.8L494.0,338.8L495.0,338.8L496.0,338.8L497.0,338.8L498.0,338.8L499.0,338.8L500.0,338.8L501.0,338.8L502.0,338.8L503.0,338.8L504.0,338.8L505.0,338.8L506.0,338.8L507.0,338.8L508.0,338.8L509.0,338.8L510.0,338.8L511.0,338.8L512.0,338.8L513.0,338.8L514.0,338.8L515.0,338.8L516.0,338.8L517.0,338.8L518.0,338.8L519.0,338.8L520.0,338.8L521.0,338.8L522.0,338.8L523.0,338.8L524.0,338.8L525.0,338.8L526.0,338.8L527.0,338.8L528.0,338.8L529.0,338.8L530.0,338.8L531.0,338.8L532.0,338.8L533.0,338.8L534.0,338.8L535.0,338.8L536.0,338.8L537.0,338.8L538.0,338.8L539.0,338.8L540.0,338.8L541.0,338.8L542.0,338.8L543.0,338.8L544.0,338.8L545.0,338.8L546.0,338.8L547.0,338.8L548.0,338.8L549.0,338.8L550.0,338.8L551.0,338.8L552.0,338.8L553.0,338.8L554.0,338.8L555.0,338.8L556.0,338.8L557.0,338.8L558.0,338.8L559.0,338.8L560.0,338.8L561.0,338.8L562.0,338.8L563.0,338.8L564.0,338.8L565.0,338.8L566.0,338.8L567.0,338.8L568.0,338.8L569.0,338.8L570.0,338.8L571.0,338.8L572.0,338.8L573.0,338.8L574.0,338.8L575.0,338.8L576.0,338.8L577.0,338.8L578.0,338.8L579.0,338.8L580.0,338.8L581.0,338.8L582.0,338.8L583.0,338.8L584.0,338.8L585.0,338.8L586.0,338.8L587.0,338.8L588.0,338.8L589.0,338.8L590.0,338.8L591.0,338.8L592.0,338.8L593.0,338.8L594.0,338.8L595.0,338.8L596.0,338.8L597.0,338.8L598.0,338.8L599.0,338.8L600.0,338.8L601.0,338.8L602.0,338.8L603.0,338.8L604.0,338.8L605.0,338.8L606.0,338.8L607.0,338.8L608.0,338.8L609.0,338.8L610.0,338.8L611.0,338.8L612.0,338.8L613.0,338.8L614.0,338.8L615.0,338.8L616.0,338.8L617.0,338.8L618.0,338.8L619.0,338.8L620.0,338.8L621.0,338.8L622.0,338.8L623.0,338.8L624.0,338.8L625.0,338.8L626.0,338.8L627.0,338.8L628.0,338.8L629.0,338.8L630.0,338.8L631.0,338.8L632.0,338.8L633.0,338.8L634.0,338.8L635.0,338.8L636.0,338.8L637.0,338.8L638.0,338.8L639.0,338.8L640.0,338.8L641.0,338.8L642.0,338.8L643.0,338.8L644.0,338.8L645.0,338.8L646.0,338.8L647.0,338.8L648.0,338.8L649.0,338.8L650.0,338.8L651.0,338.8L652.0,338.8L653.0,338.8L654.0,338.8L655.0,338.8L656.0,338.8L657.0,338.8L658.0,338.8L659.0,338.8L660.0,338.8L661.0,338.8L662.0,338.8L663.0,338.8L664.0,338.8L665.0,338.8L666.0,338.8L667.0,338.8L668.0,338.8L669.0,338.8L670.0,338.8L671.0,338.8L672.0,338.8L673.0,338.8L674.0,338.8L675.0,338.8L676.0,338.8L677.0,338.8L678.0,338.8L679.0,338.8L680.0,338.8L681.0,338.8L682.0,338.8L683.0,338.8L684.0,338.8L685.0,338.8L686.0,338.8L687.0,338.8L688.0,338.8L689.0,338.8L690.0,338.8L691.0,338.8L692.0,338.8L693.0,338.8L694.0,338.8L695.0,338.8L696.0,338.8L697.0,338.8L698.0,338.8L699.0,338.8L700.0,338.8L701.0,338.8L702.0,338.8L703.0,338.8L704.0,338.8L705.0,338.8L706.0,338.8L707.0,338.8L708.0,338.8L709.0,338.8L710.0,338.8L711.0,338.8L712.0,338.8L713.0,338.8L714.0,338.8L715.0,338.8L716.0,338.8L717.0,338.8L718.0,338.8L719.0,338.8L720.0,338.8L721.0,338.8L722.0,338.8L723.0,338.8L724.0,338.8L725.0,338.8L726.0,338.8L727.0,338.8L728.0,338.8L729.0,338.8L730.0,338.8L731.0,338.8L732.0,338.8L733.0,338.8L734.0,338.8L735.0,338.8L736.0,338.8L737.0,338.8L738.0,338.8L739.0,338.8L740.0,338.8L741.0,338.8L742.0,338.8L743.0,338.8L744.0,338.8L745.0,338.8L746.0,338.8L747.0,338.8L748.0,338.8L749.0,338.8L750.0,338.8L751.0,338.8L752.0,338.8L753.0,338.8L754.0,338.8L755.0,338.8L756.0,338.8L757.0,338.8L758.0,338.8L759.0,338.8L760.0,338.8L761.0,338.8L762.0,338.8L763.0,338.8L764.0,338.8L765.0,338.8L766.0,338.8L767.0,338.8L768.0,338.8L769.0,338.8L770.0,338.8L771.0,338.8L772.0,338.8L773.0,338.8L774.0,338.8L775.0,338.8L776.0,338.8L777.0,338.8L778.0,338.8L779.0,338.8L780.0,338.8L781.0,338.8L782.0,338.8L783.0,338.8L784.0,338.8L785.0,338.8L786.0,338.8L787.0,338.8L788.0,338.8L789.0,338.8L790.0,338.8L791.0,338.8L792.0,338.8L793.0,338.8L794.0,338.8L795.0,338.8L796.0,338.8L797.0,338.8L798.0,338.8L799.0,338.8L800.0,338.8L801.0,338.8L802.0,338.8L803.0,338.8L804.0,338.8L805.0,338.8L806.0,338.8L807.0,338.8L808.0,338.8L809.0,338.8L810.0,338.8L811.0,338.8L812.0,338.8L813.0,338.8L814.0,338.8L815.0,338.8L816.0,338.8L817.0,338.8L818.0,338.8L819.0,338.8L820.0,338.8L821.0,338.8L822.0,338.8L823.0,338.8L824.0,338.8L825.0,338.8L826.0,338.8L827.0,338.8L828.0,338.8L829.0,338.8L830.0,338.8L831.0,338.8L832.0,338.8L833.0,338.8L834.0,338.8L835.0,338.8L836.0,338.8L837.0,338.8L838.0,338.8L839.0,338.8L840.0,338.8L841.0,338.8L842.0,338.8L843.0,338.8L844.0,338.8L845.0,338.8L846.0,338.8L847.0,338.8L848.0,338.8L849.0,338.8L850.0,338.8L851.0,338.8L852.0,338.8L853.0,338.8L854.0,338.8L855.0,338.8L856.0,338.8L857.0,338.8L858.0,338.8L859.0,338.8L860.0,338.8L861.0,338.8L862.0,338.8L863.0,338.8L864.0,338.8L865.0,338.8L866.0,338.8L867.0,338.8L868.0,338.8L869.0,338.8L870.0,338.8L871.0,338.8L872.0,338.8L873.0,338.8L874.0,338.8L875.0,338.8L876.0,338.8L877.0,338.8L878.0,338.8L879.0,338.8L880.0,338.8L881.0,338.8L882.0,338.8L883.0,338.8L884.0,338.8L885.0,338.8L886.0,338.8L887.0,338.8L888.0,338.8L889.0,338.8L890.0,338.8L891.0,338.8L892.0,338.8L893.0,338.8L894.0,338.8L895.0,338.8L896.0,338.8L897.0,338.8L898.0,338.8L899.0,338.8L900.0,338.8L901.0,338.8L902.0,338.8L903.0,338.8L904.0,338.8L905.0,338.8L906.0,338.8L907.0,338.8L908.0,338.8L909.0,338.8L910.0,338.8L911.0,338.8L912.0,338.8L913.0,338.8L914.0,338.8L915.0,338.8L916.0,338.8L917.0,338.8L918.0,338.8L919.0,338.8L920.0,338.8L921.0,338.8L922.0,338.8L923.0,338.8L924.0,338.8L925.0,338.8L926.0,338.8L927.0,338.8L928.0,338.8L929.0,338.8L930.0,338.8L931.0,338.8L932.0,338.8L933.0,338.8L934.0,338.8L935.0,338.8L936.0,338.8L937.0,338.8L938.0,338.8L939.0,338.8L940.0,338.8L941.0,338.8L942.0,338.8L943.0,338.8L944.0,338.8L945.0,338.8L946.0,338.8L947.0,338.8L948.0,338.8L949.0,338.8L950.0,338.8L951.0,338.8L952.0,338.8L953.0,338.8L954.0,338.8L955.0,338.8L956.0,338.8L957.0,338.8L958.0,338.8L959.0,338.8L960.0,338.8L961.0,338.8L962.0,338.8L963.0,338.8L964.0,338.8L965.0,338.8L966.0,338.8L967.0,338.8L968.0,338.8L969.0,338.8L970.0,338.8L971.0,338.8L972.0,338.8L973.0,338.8L974.0,338.8L975.0,338.8L976.0,338.8L977.0,338.8L978.0,338.8L979.0,338.8L980.0,338.8L981.0,338.8L982.0,338.8L983.0,338.8L984.0,338.8L985.0,338.8L986.0,338.8L987.0,338.8L988.0,338.8L989.0,338.8L990.0,338.8L991.0,338.8L992.0,338.8L993.0,338.8L994.0,338.8L995.0,338.8L996.0,338.8L997.0,338.8L998.0,338.8L999.0,338.8L1000.0,338.8L1001.0,338.8L1002.0,338.8L1003.0,338.8L1004.0,338.8L1005.0,338.8L1006.0,338.8L1007.0,338.8L1008.0,338.8L1009.0,338.8L1010.0,338.8L1011.0,338.8L1012.0,338.8L1013.0,338.8L1014.0,338.8L1015.0,338.8L1016.0,338.8L1017.0,338.8L1018.0,338.8L1019.0,338.8L1020.0,338.8L1021.0,338.8L1022.0,338.8L1023.0,338.8L1024.0,338.8L1025.0,338.8L1026.0,338.8L1027.0,338.8L1028.0,338.8L1029.0,338.8L1030.0,338.8L1031.0,338.8L1032.0,338.8L1033.0,338.8L1034.0,338.8L1035.0,338.8L1036.0,338.8L1037.0,338.8L1038.0,338.8L1039.0,338.8L1040.0,338.8L1041.0,338.8L1042.0,338.8L1043.0,338.8L1044.0,338.8L1045.0,338.8L1046.0,338.8L1047.0,338.8L1048.0,338.8L1049.0,338.8L1050.0,338.8L1051.0,338.8L1052.0,338.8L1053.0,338.8L1054.0,338.8L1055.0,338.8L1056.0,338.8L1057.0,338.8L1058.0,338.8L1059.0,338.8L1060.0,338.8L1061.0,338.8L1062.0,338.8L1063.0,338.8L1064.0,338.8L1065.0,338.8L1066.0,338.8L1067.0,338.8L1068.0,338.8L1069.0,338.8L1070.0,338.8L1071.0,338.8L1072.0,338.8L1073.0,338.8L1074.0,338.8L1075.0,338.8L1076.0,338.8L1077.0,338.8L1078.0,338.8L1079.0,338.8L1080.0,338.8L1081.0,338.8L1082.0,338.8L1083.0,338.8L1084.0,338.8L1085.0,338.8L1086.0,338.8L1087.0,338.8L1088.0,338.8L1089.0,338.8L1090.0,338.8L1091.0,338.8L1092.0,338.8L1093.0,338.8L1094.0,338.8L1095.0,338.8L1096.0,338.8L1097.0,338.8L1098.0,338.8L1099.0,338.8L1100.0,338.8L1101.0,338.8L1102.0,338.8L1103.0,338.8L1104.0,338.8L1105.0,338.8L1106.0,338.8L1107.0,338.8L1108.0,338.8L1109.0,338.8L1110.0,338.8L1111.0,338.8L1112.0,338.8L1113.0,338.8L1114.0,338.8L1115.0,338.8L1116.0,338.8L1117.0,338.8L1118.0,338.8L1119.0,338.8L1120.0,338.8L1121.0,338.8L1122.0,338.8L1123.0,338.8L1124.0,338.8L1125.0,338.8L1126.0,338.8L1127.0,338.8L1128.0,338.8" stroke="#ffaad4"/>
<path d="M99.0,339.0L100.0,339.0L101.0,339.0L102.0,339.0L103.0,339.0L104.0,339.0L105.0,339.0L106.0,339.0L107.0,339.0L108.0,339.0L109.0,339.0L110.0,339.0L111.0,339.0L112.0,339.0L113.0,339.0L114.0,339.0L115.0,339.0L116.0,339.0L117.0,339.0L118.0,339.0L119.0,339.0L120.0,339.0L121.0,339.1L122.0,339.1L123.0,339.1L124.0,339.1L125.0,339.1L126.0,339.1L127.0,339.1L128.0,339.1L129.0,339.1L130.0,339.1L131.0,339.1L132.0,339.1L133.0,339.1L134.0,339.1L135.0,339.1L136.0,339.1L137.0,339.1L138.0,339.2L139.0,339.2L140.0,339.2L141.0,339.2L142.0,339.2L143.0,339.2L144.0,339.2L145.0,339.2L146.0,339.2L147.0,339.2L148.0,339.2L149.0,339.2L150.0,339.2L151.0,339.3L152.0,339.3L153.0,339.3L154.0,339.3L155.0,339.3L156.0,339.3L157.0,339.3L158.0,339.3L159.0,339.3L160.0,339.3L161.0,339.4L162.0,339.4L163.0,339.4L164.0,339.4L165.0,339.4L166.0,339.4L167.0,339.4L168.0,339.4L169.0,339.5L170.0,339.5L171.0,339.5L172.0,339.5L173.0,339.5L174.0,339.5L175.0,339.5L176.0,339.6L177.0,339.6L178.0,339.6L179.0,339.6L180.0,339.6L181.0,339.7L182.0,339.7L183.0,339.7L184.0,339.7L185.0,339.7L186.0,339.8L187.0,339.8L188.0,339.8L189.0,339.8L190.0,339.8L191.0,339.9L192.0,339.9L193.0,339.9L194.0,339.9L195.0,340.0L196.0,340.0L197.0,340.0L198.0,340.1L199.0,340.1L200.0,340.1L201.0,340.2L202.0,340.2L203.0,340.2L204.0,340.3L205.0,340.3L206.0,340.3L207.0,340.4L208.0,340.4L209.0,340.5L210.0,340.5L211.0,340.6L212.0,340.6L213.0,340.7L214.0,340.7L215.0,340.8L216.0,340.8L217.0,340.9L218.0,340.9L219.0,341.0L220.0,341.1L221.0,341.1L222.0,341.2L223.0,341.3L224.0,341.4L225.0,341.4L226.0,341.5L227.0,341.6L228.0,341.7L229.0,341.8L230.0,341.9L231.0,342.0L232.0,342.1L233.0,342.2L234.0,342.3L235.0,342.5L236.0,342.6L237.0,342.7L238.0,342.9L239.0,343.0L240.0,343.2L241.0,343.4L242.0,343.5L243.0,343.7L244.0,343.9L245.0,344.1L246.0,344.4L247.0,344.6L248.0,344.8L249.0,345.1L250.0,345.4L251.0,345.7L252.0,346.0L253.0,346.3L254.0,346.7L255.0,347.0L256.0,347.5L257.0,347.9L258.0,348.3L259.0,348.8L260.0,349.4L261.0,349.9L262.0,350.6L263.0,351.2L264.0,351.9L265.0,352.7L266.0,353.5L267.0,354.4L268.0,355.4L269.0,356.4L270.0,357.5L271.0,358.7L272.0,360.1L273.0,361.5L274.0,363.0L275.0,364.7L276.0,366.5L277.0,368.5L278.0,370.6L279.0,372.8L280.0,375.2L281.0,377.8L282.0,380.5L283.0,383.3L284.0,386.2L285.0,389.0L286.0,391.9L287.0,394.6L288.0,397.1L289.0,399.2L290.0,400.8L291.0,401.8L292.0,402.2L293.0,402.0L294.0,401.0L295.0,399.5L296.0,397.5L297.0,395.1L298.0,392.4L299.0,389.6L300.0,386.7L301.0,383.9L302.0,381.0L303.0,378.3L304.0,375.7L305.0,373.3L306.0,371.0L307.0,368.9L308.0,366.9L309.0,365.1L310.0,363.4L311.0,361.8L312.0,360.3L313.0,359.0L314.0,357.8L315.0,356.6L316.0,355.6L317.0,354.6L318.0,353.7L319.0,352.8L320.0,352.1L321.0,351.3L322.0,350.7L323.0,350.1L324.0,349.5L325.0,348.9L326.0,348.4L327.0,348.0L328.0,347.5L329.0,347.1L330.0,346.7L331.0,346.4L332.0,346.0L333.0,345.7L334.0,345.4L335.0,345.2L336.0,344.9L337.0,344.6L338.0,344.4L339.0,344.2L340.0,344.0L341.0,343.8L342.0,343.6L343.0,343.4L344.0,343.2L345.0,343.1L346.0,342.9L347.0,342.8L348.0,342.6L349.0,342.5L350.0,342.4L351.0,342.3L352.0,342.1L353.0,342.0L354.0,341.9L355.0,341.8L356.0,341.7L357.0,341.6L358.0,341.5L359.0,341.5L360.0,341.4L361.0,341.3L362.0,341.2L363.0,341.2L364.0,341.1L365.0,341.0L366.0,341.0L367.0,340.9L368.0,340.8L369.0,340.8L370.0,340.7L371.0,340.7L372.0,340.6L373.0,340.6L374.0,340.5L375.0,340.5L376.0,340.4L377.0,340.4L378.0,340.4L379.0,340.3L380.0,340.3L381.0,340.2L382.0,340.2L383.0,340.2L384.0,340.1L385.0,340.1L386.0,340.1L387.0,340.0L388.0,340.0L389.0,340.0L390.0,340.0L391.0,339.9L392.0,339.9L393.0,339.9L394.0,339.9L395.0,339.8L396.0,339.8L397.0,339.8L398.0,339.8L399.0,339.7L400.0,339.7L401.0,339.7L402.0,339.7L403.0,339.7L404.0,339.6L405.0,339.6L406.0,339.6L407.0,339.6L408.0,339.6L409.0,339.6L410.0,339.5L411.0,339.5L412.0,339.5L413.0,339.5L414.0,339.5L415.0,339.5L416.0,339.4L417.0,339.4L418.0,339.4L419.0,339.4L420.0,339.4L421.0,339.4L422.0,339.4L423.0,339.4L424.0,339.3L425.0,339.3L426.0,339.3L427.0,339.3L428.0,339.3L429.0,339.3L430.0,339.3L431.0,339.3L432.0,339.3L433.0,339.3L434.0,339.2L435.0,339.2L436.0,339.2L437.0,339.2L438.0,339.2L439.0,339.2L440.0,339.2L441.0,339.2L442.0,339.2L443.0,339.2L444.0,339.2L445.0,339.2L446.0,339.2L447.0,339.1L448.0,339.1L449.0,339.1L450.0,339.1L451.0,339.1L452.0,339.1L453.0,339.1L454.0,339.1L455.0,339.1L456.0,339.1L457.0,339.1L458.0,339.1L459.0,339.1L460.0,339.1L461.0,339.1L462.0,339.1L463.0,339.1L464.0,339.0L465.0,339.0L466.0,339.0L467.0,339.0L468.0,339.0L469.0,339.0L470.0,339.0L471.0,339.0L472.0,339.0L473.0,339.0L474.0,339.0L475.0,339.0L476.0,339.0L477.0,339.0L478.0,339.0L479.0,339.0L480.0,339.0L481.0,339.0L482.0,339.0L483.0,339.0L484.0,339.0L485.0,339.0L486.0,339.0L487.0,339.0L488.0,339.0L489.0,338.9L490.0,338.9L491.0,338.9L492.0,338.9L493.0,338.9L494.0,338.9L495.0,338.9L496.0,338.9L497.0,338.9L498.0,338.9L499.0,338.9L500.0,338.9L501.0,338.9L502.0,338.9L503.0,338.9L504.0,338.9L505.0,338.9L506.0,338.9L507.0,338.9L508.0,338.9L509.0,338.9L510.0,338.9L511.0,338.9L512.0,338.9L513.0,338.9L514.0,338.9L515.0,338.9L516.0,338.9L517.0,338.9L518.0,338.9L519.0,338.9L520.0,338.9L521.0,338.9L522.0,338.9L523.0,338.9L524.0,338.9L525.0,338.9L526.0,338.9L527.0,338.9L528.0,338.9L529.0,338.9L530.0,338.9L531.0,338.9L532.0,338.9L533.0,338.9L534.0,338.9L535.0,338.8L536.0,338.8L537.0,338.8L538.0,338.8L539.0,338.8L540.0,338.8L541.0,338.8L542.0,338.8L543.0,338.8L544.0,338.8L545.0,338.8L546.0,338.8L547.0,338.8L548.0,338.8L549.0,338.8L550.0,338.8L551.0,338.8L552.0,338.8L553.0,338.8L554.0,338.8L555.0,338.8L556.0,338.8L557.0,338.8L558.0,338.8L559.0,338.8L560.0,338.8L561.0,338.8L562.0,338.8L563.0,338.8L564.0,338.8L565.0,338.8L566.0,338.8L567.0,338.8L568.0,338.8L569.0,338.8L570.0,338.8L571.0,338.8L572.0,338.8L573.0,338.8L574.0,338.8L575.0,338.8L576.0,338.8L577.0,338.8L578.0,338.8L579.0,338.8L580.0,338.8L581.0,338.8L582.0,338.8L583.0,338.8L584.0,338.8L585.0,338.8L586.0,338.8L587.0,338.8L588.0,338.8L589.0,338.8L590.0,338.8L591.0,338.8L592.0,338.8L593.0,338.8L594.0,338.8L595.0,338.8L596.0,338.8L597.0,338.8L598.0,338.8L599.0,338.8L600.0,338.8L601.0,338.8L602.0,338.8L603.0,338.8L604.0,338.8L605.0,338.8L606.0,338.8L607.0,338.8L608.0,338.8L609.0,338.8L610.0,338.8L611.0,338.8L612.0,338.8L613.0,338.8L614.0,338.8L615.0,338.8L616.0,338.8L617.0,338.8L618.0,338.8L619.0,338.8L620.0,338.8L621.0,338.8L622.0,338.8L623.0,338.8L624.0,338.8L625.0,338.8L626.0,338.8L627.0,338.8L628.0,338.8L629.0,338.8L630.0,338.8L631.0,338.8L632.0,338.8L633.0,338.8L634.0,338.8L635.0,338.8L636.0,338.8L637.0,338.8L638.0,338.8L639.0,338.8L640.0,338.8L641.0,338.8L642.0,338.8L643.0,338.8L644.0,338.8L645.0,338.8L646.0,338.8L647.0,338.8L648.0,338.8L649.0,338.8L650.0,338.8L651.0,338.8L652.0,338.8L653.0,338.8L654.0,338.8L655.0,338.8L656.0,338.8L657.0,338.8L658.0,338.8L659.0,338.8L660.0,338.8L661.0,338.8L662.0,338.8L663.0,338.8L664.0,338.8L665.0,338.8L666.0,338.8L667.0,338.8L668.0,338.8L669.0,338.8L670.0,338.8L671.0,338.8L672.0,338.8L673.0,338.8L674.0,338.8L675.0,338.8L676.0,338.8L677.0,338.8L678.0,338.8L679.0,338.8L680.0,338.8L681.0,338.8L682.0,338.8L683.0,338.8L684.0,338.8L685.0,338.8L686.0,338.8L687.0,338.8L688.0,338.8L689.0,338.8L690.0,338.8L691.0,338.8L692.0,338.8L693.0,338.8L694.0,338.8L695.0,338.8L696.0,338.8L697.0,338.8L698.0,338.8L699.0,338.8L700.0,338.8L701.0,338.8L702.0,338.8L703.0,338.8L704.0,338.8L705.0,338.8L706.0,338.8L707.0,338.8L708.0,338.8L709.0,338.8L710.0,338.8L711.0,338.8L712.0,338.8L713.0,338.8L714.0,338.8L715.0,338.8L716.0,338.8L717.0,338.8L718.0,338.8L719.0,338.8L720.0,338.8L721.0,338.8L722.0,338.8L723.0,338.8L724.0,338.8L725.0,338.8L726.0,338.8L727.0,338.8L728.0,338.8L729.0,338.8L730.0,338.8L731.0,338.8L732.0,338.8L733.0,338.8L734.0,338.8L735.0,338.8L736.0,338.8L737.0,338.8L738.0,338.8L739.0,338.8L740.0,338.8L741.0,338.8L742.0,338.8L743.0,338.8L744.0,338.8L745.0,338.8L746.0,338.8L747.0,338.8L748.0,338.8L749.0,338.8L750.0,338.8L751.0,338.8L752.0,338.8L753.0,338.8L754.0,338.8L755.0,338.8L756.0,338.8L757.0,338.8L758.0,338.8L759.0,338.8L760.0,338.8L761.0,338.8L762.0,338.8L763.0,338.8L764.0,338.8L765.0,338.8L766.0,338.8L767.0,338.8L768.0,338.8L769.0,338.8L770.0,338.8L771.0,338.8L772.0,338.8L773.0,338.8L774.0,338.8L775.0,338.8L776.0,338.8L777.0,338.8L778.0,338.8L779.0,338.8L780.0,338.8L781.0,338.8L782.0,338.8L783.0,338.8L784.0,338.8L785.0,338.8L786.0,338.8L787.0,338.8L788.0,338.8L789.0,338.8L790.0,338.8L791.0,338.8L792.0,338.8L793.0,338.8L794.0,338.8L795.0,338.8L796.0,338.8L797.0,338.8L798.0,338.8L799.0,338.8L800.0,338.8L801.0,338.8L802.0,338.8L803.0,338.8L804.0,338.8L805.0,338.8L806.0,338.8L807.0,338.8L808.0,338.8L809.0,338.8L810.0,338.8L811.0,338.8L812.0,338.8L813.0,338.8L814.0,338.8L815.0,338.8L816.0,338.8L817.0,338.8L818.0,338.8L819.0,338.8L820.0,338.8L821.0,338.8L822.0,338.8L823.0,338.8L824.0,338.8L825.0,338.8L826.0,338.8L827.0,338.8L828.0,338.8L829.0,338.8L830.0,338.8L831.0,338.8L832.0,338.8L833.0,338.8L834.0,338.8L835.0,338.8L836.0,338.8L837.0,338.8L838.0,338.8L839.0,338.8L840.0,338.8L841.0,338.8L842.0,338.8L843.0,338.8L844.0,338.8L845.0,338.8L846.0,338.8L847.0,338.8L848.0,338.8L849.0,338.8L850.0,338.8L851.0,338.8L852.0,338.8L853.0,338.8L854.0,338.8L855.0,338.8L856.0,338.8L857.0,338.8L858.0,338.8L859.0,338.8L860.0,338.8L861.0,338.8L862.0,338.8L863.0,338.8L864.0,338.8L865.0,338.8L866.0,338.8L867.0,338.8L868.0,338.8L869.0,338.8L870.0,338.8L871.0,338.8L872.0,338.8L873.0,338.8L874.0,338.8L875.0,338.8L876.0,338.8L877.0,338.8L878.0,338.8L879.0,338.8L880.0,338.8L881.0,338.8L882.0,338.8L883.0,338.8L884.0,338.8L885.0,338.8L886.0,338.8L887.0,338.8L888.0,338.8L889.0,338.8L890.0,338.8L891.0,338.8L892.0,338.8L893.0,338.8L894.0,338.8L895.0,338.8L896.0,338.8L897.0,338.8L898.0,338.8L899.0,338.8L900.0,338.8L901.0,338.8L902.0,338.8L903.0,338.8L904.0,338.8L905.0,338.8L906.0,338.8L907.0,338.8L908.0,338.8L909.0,338.8L910.0,338.8L911.0,338.8L912.0,338.8L913.0,338.8L914.0,338.8L915.0,338.8L916.0,338.8L917.0,338.8L918.0,338.8L919.0,338.8L920.0,338.8L921.0,338.8L922.0,338.8L923.0,338.8L924.0,338.8L925.0,338.8L926.0,338.8L927.0,338.8L928.0,338.8L929.0,338.8L930.0,338.8L931.0,338.8L932.0,338.8L933.0,338.8L934.0,338.8L935.0,338.8L936.0,338.8L937.0,338.8L938.0,338.8L939.0,338.8L940.0,338.8L941.0,338.8L942.0,338.8L943.0,338.8L944.0,338.8L945.0,338.8L946.0,338.8L947.0,338.8L948.0,338.8L949.0,338.8L950.0,338.8L951.0,338.8L952.0,338.8L953.0,338.8L954.0,338.8L955.0,338.8L956.0,338.8L957.0,338.8L958.0,338.8L959.0,338.8L960.0,338.8L961.0,338.8L962.0,338.8L963.0,338.8L964.0,338.8L965.0,338.8L966.0,338.8L967.0,338.8L968.0,338.8L969.0,338.8L970.0,338.8L971.0,338.8L972.0,338.8L973.0,338.8L974.0,338.8L975.0,338.8L976.0,338.8L977.0,338.8L978.0,338.8L979.0,338.8L980.0,338.8L981.0,338.8L982.0,338.8L983.0,338.8L984.0,338.8L985.0,338.8L986.0,338.8L987.0,338.8L988.0,338.8L989.0,338.8L990.0,338.8L991.0,338.8L992.0,338.8L993.0,338.8L994.0,338.8L995.0,338.8L996.0,338.8L997.0,338.8L998.0,338.8L999.0,338.8L1000.0,338.8L1001.0,338.8L1002.0,338.8L1003.0,338.8L1004.0,338.8L1005.0,338.8L1006.0,338.8L1007.0,338.8L1008.0,338.8L1009.0,338.8L1010.0,338.8L1011.0,338.8L1012.0,338.8L1013.0,338.8L1014.0,338.8L1015.0,338.8L1016.0,338.8L1017.0,338.8L1018.0,338.8L1019.0,338.8L1020.0,338.8L1021.0,338.8L1022.0,338.8L1023.0,338.8L1024.0,338.8L1025.0,338.8L1026.0,338.8L1027.0,338.8L1028.0,338.8L1029.0,338.8L1030.0,338.8L1031.0,338.8L1032.0,338.8L1033.0,338.8L1034.0,338.8L1035.0,338.8L1036.0,338.8L1037.0,338.8L1038.0,338.8L1039.0,338.8L1040.0,338.8L1041.0,338.8L1042.0,338.8L1043.0,338.8L1044.0,338.8L1045.0,338.8L1046.0,338.8L1047.0,338.8L1048.0,338.8L1049.0,338.8L1050.0,338.8L1051.0,338.8L1052.0,338.8L1053.0,338.8L1054.0,338.8L1055.0,338.8L1056.0,338.8L1057.0,338.8L1058.0,338.8L1059.0,338.8L1060.0,338.8L1061.0,338.8L1062.0,338.8L1063.0,338.8L1064.0,338.8L1065.0,338.8L1066.0,338.8L1067.0,338.8L1068.0,338.8L1069.0,338.8L1070.0,338.8L1071.0,338.8L1072.0,338.8L1073.0,338.8L1074.0,338.8L1075.0,338.8L1076.0,338.8L1077.0,338.8L1078.0,338.8L1079.0,338.8L1080.0,338.8L1081.0,338.8L1082.0,338.8L1083.0,338.8L1084.0,338.8L1085.0,338.8L1086.0,338.8L1087.0,338.8L1088.0,338.8L1089.0,338.8L1090.0,338.8L1091.0,338.8L1092.0,338.8L1093.0,338.8L1094.0,338.8L1095.0,338.8L1096.0,338.8L1097.0,338.8L1098.0,338.8L1099.0,338.8L1100.0,338.8L1101.0,338.8L1102.0,338.8L1103.0,338.8L1104.0,338.8L1105.0,338.8L1106.0,338.8L1107.0,338.8L1108.0,338.8L1109.0,338.8L1110.0,338.8L1111.0,338.8L1112.0,338.8L1113.0,338.8L1114.0,338.8L1115.0,338.8L1116.0,338.8L1117.0,338.8L1118.0,338.8L1119.0,338.8L1120.0,338.8L1121.0,338.8L1122.0,338.8L1123.0,338.8L1124.0,338.8L1125.0,338.8L1126.0,338.8L1127.0,338.8L1128.0,338.8" stroke="#4b0096"/>
<path d="M99.0,338.9L100.0,338.9L101.0,338.9L102.0,338.9L103.0,338.9L104.0,339.0L105.0,339.0L106.0,339.0L107.0,339.0L108.0,339.0L109.0,339.0L110.0,339.0L111.0,339.0L112.0,339.0L113.0,339.0L114.0,339.0L115.0,339.0L116.0,339.0L117.0,339.0L118.0,339.0L119.0,339.0L120.0,339.0L121.0,339.0L122.0,339.0L123.0,339.0L124.0,339.0L125.0,339.0L126.0,339.0L127.0,339.0L128.0,339.0L129.0,339.0L130.0,339.1L131.0,339.1L132.0,339.1L133.0,339.1L134.0,339.1L135.0,339.1L136.0,339.1L137.0,339.1L138.0,339.1L139.0,339.1L140.0,339.1L141.0,339.1L142.0,339.1L143.0,339.1L144.0,339.1L145.0,339.1L146.0,339.1L147.0,339.2L148.0,339.2L149.0,339.2L150.0,339.2L151.0,339.2L152.0,339.2L153.0,339.2L154.0,339.2L155.0,339.2L156.0,339.2L157.0,339.2L158.0,339.2L159.0,339.2L160.0,339.3L161.0,339.3L162.0,339.3L163.0,339.3L164.0,339.3L165.0,339.3L166.0,339.3L167.0,339.3L168.0,339.3L169.0,339.3L170.0,339.4L171.0,339.4L172.0,339.4L173.0,339.4L174.0,339.4L175.0,339.4L176.0,339.4L177.0,339.4L178.0,339.5L179.0,339.5L180.0,339.5L181.0,339.5L182.0,339.5L183.0,339.5L184.0,339.5L185.0,339.6L186.0,339.6L187.0,339.6L188.0,339.6L189.0,339.6L190.0,339.6L191.0,339.7L192.0,339.7L193.0,339.7L194.0,339.7L195.0,339.7L196.0,339.8L197.0,339.8L198.0,339.8L199.0,339.8L200.0,339.9L201.0,339.9L202.0,339.9L203.0,339.9L204.0,340.0L205.0,340.0L206.0,340.0L207.0,340.0L208.0,340.1L209.0,340.1L210.0,340.1L211.0,340.2L212.0,340.2L213.0,340.2L214.0,340.3L215.0,340.3L216.0,340.4L217.0,340.4L218.0,340.4L219.0,340.5L220.0,340.5L221.0,340.6L222.0,340.6L223.0,340.7L224.0,340.7L225.0,340.8L226.0,340.8L227.0,340.9L228.0,340.9L229.0,341.0L230.0,341.1L231.0,341.1L232.0,341.2L233.0,341.3L234.0,341.4L235.0,341.4L236.0,341.5L237.0,341.6L238.0,341.7L239.0,341.8L240.0,341.9L241.0,342.0L242.0,342.1L243.0,342.2L244.0,342.3L245.0,342.4L246.0,342.5L247.0,342.7L248.0,342.8L249.0,343.0L250.0,343.1L251.0,343.3L252.0,343.4L253.0,343.6L254.0,343.8L255.0,344.0L256.0,344.2L257.0,344.4L258.0,344.7L259.0,344.9L260.0,345.2L261.0,345.4L262.0,345.7L263.0,346.0L264.0,346.4L265.0,346.7L266.0,347.1L267.0,347.5L268.0,347.9L269.0,348.4L270.0,348.9L271.0,349.4L272.0,349.9L273.0,350.5L274.0,351.2L275.0,351.9L276.0,352.6L277.0,353.4L278.0,354.3L279.0,355.3L280.0,356.3L281.0,357.4L282.0,358.6L283.0,359.9L284.0,361.3L285.0,362.9L286.0,364.6L287.0,366.4L288.0,368.4L289.0,370.6L290.0,372.9L291.0,375.5L292.0,378.2L293.0,381.2L294.0,384.4L295.0,387.8L296.0,391.3L297.0,394.9L298.0,398.6L299.0,402.3L300.0,405.7L301.0,408.9L302.0,411.4L303.0,413.3L304.0,414.4L305.0,414.5L306.0,413.6L307.0,411.9L308.0,409.4L309.0,406.4L310.0,403.0L311.0,399.4L312.0,395.7L313.0,392.0L314.0,388.4L315.0,385.0L316.0,381.8L317.0,378.8L318.0,376.0L319.0,373.4L320.0,371.0L321.0,368.8L322.0,366.8L323.0,364.9L324.0,363.2L325.0,361.6L326.0,360.2L327.0,358.9L328.0,357.6L329.0,356.5L330.0,355.5L331.0,354.5L332.0,353.6L333.0,352.8L334.0,352.0L335.0,351.3L336.0,350.7L337.0,350.0L338.0,349.5L339.0,349.0L340.0,348.5L341.0,348.0L342.0,347.6L343.0,347.2L344.0,346.8L345.0,346.4L346.0,346.1L347.0,345.8L348.0,345.5L349.0,345.2L350.0,344.9L351.0,344.7L352.0,344.5L353.0,344.2L354.0,344.0L355.0,343.8L356.0,343.6L357.0,343.5L358.0,343.3L359.0,343.1L360.0,343.0L361.0,342.8L362.0,342.7L363.0,342.6L364.0,342.4L365.0,342.3L366.0,342.2L367.0,342.1L368.0,342.0L369.0,341.9L370.0,341.8L371.0,341.7L372.0,341.6L373.0,341.5L374.0,341.4L375.0,341.4L376.0,341.3L377.0,341.2L378.0,341.1L379.0,341.1L380.0,341.0L381.0,341.0L382.0,340.9L383.0,340.8L384.0,340.8L385.0,340.7L386.0,340.7L387.0,340.6L388.0,340.6L389.0,340.5L390.0,340.5L391.0,340.4L392.0,340.4L393.0,340.4L394.0,340.3L395.0,340.3L396.0,340.3L397.0,340.2L398.0,340.2L399.0,340.1L400.0,340.1L401.0,340.1L402.0,340.1L403.0,340.0L404.0,340.0L405.0,340.0L406.0,339.9L407.0,339.9L408.0,339.9L409.0,339.9L410.0,339.8L411.0,339.8L412.0,339.8L413.0,339.8L414.0,339.7L415.0,339.7L416.0,339.7L417.0,339.7L418.0,339.7L419.0,339.7L420.0,339.6L421.0,339.6L422.0,339.6L423.0,339.6L424.0,339.6L425.0,339.5L426.0,339.5L427.0,339.5L428.0,339.5L429.0,339.5L430.0,339.5L431.0,339.5L432.0,339.4L433.0,339.4L434.0,339.4L435.0,339.4L436.0,339.4L437.0,339.4L438.0,339.4L439.0,339.4L440.0,339.3L441.0,339.3L442.0,339.3L443.0,339.3L444.0,339.3L445.0,339.3L446.0,339.3L447.0,339.3L448.0,339.3L449.0,339.3L450.0,339.2L451.0,339.2L452.0,339.2L453.0,339.2L454.0,339.2L455.0,339.2L456.0,339.2L457.0,339.2L458.0,339.2L459.0,339.2L460.0,339.2L461.0,339.2L462.0,339.2L463.0,339.1L464.0,339.1L465.0,339.1L466.0,339.1L467.0,339.1L468.0,339.1L469.0,339.1L470.0,339.1L471.0,339.1L472.0,339.1L473.0,339.1L474.0,339.1L475.0,339.1L476.0,339.1L477.0,339.1L478.0,339.1L479.0,339.1L480.0,339.0L481.0,339.0L482.0,339.0L483.0,339.0L484.0,339.0L485.0,339.0L486.0,339.0L487.0,339.0L488.0,339.0L489.0,339.0L490.0,339.0L491.0,339.0L492.0,339.0L493.0,339.0L494.0,339.0L495.0,339.0L496.0,339.0L497.0,339.0L498.0,339.0L499.0,339.0L500.0,339.0L501.0,339.0L502.0,339.0L503.0,339.0L504.0,339.0L505.0,339.0L506.0,338.9L507.0,338.9L508.0,338.9L509.0,338.9L510.0,338.9L511.0,338.9L512.0,338.9L513.0,338.9L514.0,338.9L515.0,338.9L516.0,338.9L517.0,338.9L518.0,338.9L519.0,338.9L520.0,338.9L521.0,338.9L522.0,338.9L523.0,338.9L524.0,338.9L525.0,338.9L526.0,338.9L527.0,338.9L528.0,338.9L529.0,338.9L530.0,338.9L531.0,338.9L532.0,338.9L533.0,338.9L534.0,338.9L535.0,338.9L536.0,338.9L537.0,338.9L538.0,338.9L539.0,338.9L540.0,338.9L541.0,338.9L542.0,338.9L543.0,338.9L544.0,338.9L545.0,338.9L546.0,338.9L547.0,338.9L548.0,338.9L549.0,338.9L550.0,338.9L551.0,338.9L552.0,338.8L553.0,338.8L554.0,338.8L555.0,338.8L556.0,338.8L557.0,338.8L558.0,338.8L559.0,338.8L560.0,338.8L561.0,338.8L562.0,338.8L563.0,338.8L564.0,338.8L565.0,338.8L566.0,338.8L567.0,338.8L568.0,338.8L569.0,338.8L570.0,338.8L571.0,338.8L572.0,338.8L573.0,338.8L574.0,338.8L575.0,338.8L576.0,338.8L577.0,338.8L578.0,338.8L579.0,338.8L580.0,338.8L581.0,338.8L582.0,338.8L583.0,338.8L584.0,338.8L585.0,338.8L586.0,338.8L587.0,338.8L588.0,338.8L589.0,338.8L590.0,338.8L591.0,338.8L592.0,338.8L593.0,338.8L594.0,338.8L595.0,338.8L596.0,338.8L597.0,338.8L598.0,338.8L599.0,338.8L600.0,338.8L601.0,338.8L602.0,338.8L603.0,338.8L604.0,338.8L605.0,338.8L606.0,338.8L607.0,338.8L608.0,338.8L609.0,338.8L610.0,338.8L611.0,338.8L612.0,338.8L613.0,338.8L614.0,338.8L615.0,338.8L616.0,338.8L617.0,338.8L618.0,338.8L619.0,338.8L620.0,338.8L621.0,338.8L622.0,338.8L623.0,338.8L624.0,338.8L625.0,338.8L626.0,338.8L627.0,338.8L628.0,338.8L629.0,338.8L630.0,338.8L631.0,338.8L632.0,338.8L633.0,338.8L634.0,338.8L635.0,338.8L636.0,338.8L637.0,338.8L638.0,338.8L639.0,338.8L640.0,338.8L641.0,338.8L642.0,338.8L643.0,338.8L644.0,338.8L645.0,338.8L646.0,338.8L647.0,338.8L648.0,338.8L649.0,338.8L650.0,338.8L651.0,338.8L652.0,338.8L653.0,338.8L654.0,338.8L655.0,338.8L656.0,338.8L657.0,338.8L658.0,338.8L659.0,338.8L660.0,338.8L661.0,338.8L662.0,338.8L663.0,338.8L664.0,338.8L665.0,338.8L666.0,338.8L667.0,338.8L668.0,338.8L669.0,338.8L670.0,338.8L671.0,338.8L672.0,338.8L673.0,338.8L674.0,338.8L675.0,338.8L676.0,338.8L677.0,338.8L678.0,338.8L679.0,338.8L680.0,338.8L681.0,338.8L682.0,338.8L683.0,338.8L684.0,338.8L685.0,338.8L686.0,338.8L687.0,338.8L688.0,338.8L689.0,338.8L690.0,338.8L691.0,338.8L692.0,338.8L693.0,338.8L694.0,338.8L695.0,338.8L696.0,338.8L697.0,338.8L698.0,338.8L699.0,338.8L700.0,338.8L701.0,338.8L702.0,338.8L703.0,338.8L704.0,338.8L705.0,338.8L706.0,338.8L707.0,338.8L708.0,338.8L709.0,338.8L710.0,338.8L711.0,338.8L712.0,338.8L713.0,338.8L714.0,338.8L715.0,338.8L716.0,338.8L717.0,338.8L718.0,338.8L719.0,338.8L720.0,338.8L721.0,338.8L722.0,338.8L723.0,338.8L724.0,338.8L725.0,338.8L726.0,338.8L727.0,338.8L728.0,338.8L729.0,338.8L730.0,338.8L731.0,338.8L732.0,338.8L733.0,338.8L734.0,338.8L735.0,338.8L736.0,338.8L737.0,338.8L738.0,338.8L739.0,338.8L740.0,338.8L741.0,338.8L742.0,338.8L743.0,338.8L744.0,338.8L745.0,338.8L746.0,338.8L747.0,338.8L748.0,338.8L749.0,338.8L750.0,338.8L751.0,338.8L752.0,338.8L753.0,338.8L754.0,338.8L755.0,338.8L756.0,338.8L757.0,338.8L758.0,338.8L759.0,338.8L760.0,338.8L761.0,338.8L762.0,338.8L763.0,338.8L764.0,338.8L765.0,338.8L766.0,338.8L767.0,338.8L768.0,338.8L769.0,338.8L770.0,338.8L771.0,338.8L772.0,338.8L773.0,338.8L774.0,338.8L775.0,338.8L776.0,338.8L777.0,338.8L778.0,338.8L779.0,338.8L780.0,338.8L781.0,338.8L782.0,338.8L783.0,338.8L784.0,338.8L785.0,338.8L786.0,338.8L787.0,338.8L788.0,338.8L789.0,338.8L790.0,338.8L791.0,338.8L792.0,338.8L793.0,338.8L794.0,338.8L795.0,338.8L796.0,338.8L797.0,338.8L798.0,338.8L799.0,338.8L800.0,338.8L801.0,338.8L802.0,338.8L803.0,338.8L804.0,338.8L805.0,338.8L806.0,338.8L807.0,338.8L808.0,338.8L809.0,338.8L810.0,338.8L811.0,338.8L812.0,338.8L813.0,338.8L814.0,338.8L815.0,338.8L816.0,338.8L817.0,338.8L818.0,338.8L819.0,338.8L820.0,338.8L821.0,338.8L822.0,338.8L823.0,338.8L824.0,338.8L825.0,338.8L826.0,338.8L827.0,338.8L828.0,338.8L829.0,338.8L830.0,338.8L831.0,338.8L832.0,338.8L833.0,338.8L834.0,338.8L835.0,338.8L836.0,338.8L837.0,338.8L838.0,338.8L839.0,338.8L840.0,338.8L841.0,338.8L842.0,338.8L843.0,338.8L844.0,338.8L845.0,338.8L846.0,338.8L847.0,338.8L848.0,338.8L849.0,338.8L850.0,338.8L851.0,338.8L852.0,338.8L853.0,338.8L854.0,338.8L855.0,338.8L856.0,338.8L857.0,338.8L858.0,338.8L859.0,338.8L860.0,338.8L861.0,338.8L862.0,338.8L863.0,338.8L864.0,338.8L865.0,338.8L866.0,338.8L867.0,338.8L868.0,338.8L869.0,338.8L870.0,338.8L871.0,338.8L872.0,338.8L873.0,338.8L874.0,338.8L875.0,338.8L876.0,338.8L877.0,338.8L878.0,338.8L879.0,338.8L880.0,338.8L881.0,338.8L882.0,338.8L883.0,338.8L884.0,338.8L885.0,338.8L886.0,338.8L887.0,338.8L888.0,338.8L889.0,338.8L890.0,338.8L891.0,338.8L892.0,338.8L893.0,338.8L894.0,338.8L895.0,338.8L896.0,338.8L897.0,338.8L898.0,338.8L899.0,338.8L900.0,338.8L901.0,338.8L902.0,338.8L903.0,338.8L904.0,338.8L905.0,338.8L906.0,338.8L907.0,338.8L908.0,338.8L909.0,338.8L910.0,338.8L911.0,338.8L912.0,338.8L913.0,338.8L914.0,338.8L915.0,338.8L916.0,338.8L917.0,338.8L918.0,338.8L919.0,338.8L920.0,338.8L921.0,338.8L922.0,338.8L923.0,338.8L924.0,338.8L925.0,338.8L926.0,338.8L927.0,338.8L928.0,338.8L929.0,338.8L930.0,338.8L931.0,338.8L932.0,338.8L933.0,338.8L934.0,338.8L935.0,338.8L936.0,338.8L937.0,338.8L938.0,338.8L939.0,338.8L940.0,338.8L941.0,338.8L942.0,338.8L943.0,338.8L944.0,338.8L945.0,338.8L946.0,338.8L947.0,338.8L948.0,338.8L949.0,338.8L950.0,338.8L951.0,338.8L952.0,338.8L953.0,338.8L954.0,338.8L955.0,338.8L956.0,338.8L957.0,338.8L958.0,338.8L959.0,338.8L960.0,338.8L961.0,338.8L962.0,338.8L963.0,338.8L964.0,338.8L965.0,338.8L966.0,338.8L967.0,338.8L968.0,338.8L969.0,338.8L970.0,338.8L971.0,338.8L972.0,338.8L973.0,338.8L974.0,338.8L975.0,338.8L976.0,338.8L977.0,338.8L978.0,338.8L979.0,338.8L980.0,338.8L981.0,338.8L982.0,338.8L983.0,338.8L984.0,338.8L985.0,338.8L986.0,338.8L987.0,338.8L988.0,338.8L989.0,338.8L990.0,338.8L991.0,338.8L992.0,338.8L993.0,338.8L994.0,338.8L995.0,338.8L996.0,338.8L997.0,338.8L998.0,338.8L999.0,338.8L1000.0,338.8L1001.0,338.8L1002.0,338.8L1003.0,338.8L1004.0,338.8L1005.0,338.8L1006.0,338.8L1007.0,338.8L1008.0,338.8L1009.0,338.8L1010.0,338.8L1011.0,338.8L1012.0,338.8L1013.0,338.8L1014.0,338.8L1015.0,338.8L1016.0,338.8L1017.0,338.8L1018.0,338.8L1019.0,338.8L1020.0,338.8L1021.0,338.8L1022.0,338.8L1023.0,338.8L1024.0,338.8L1025.0,338.8L1026.0,338.8L1027.0,338.8L1028.0,338.8L1029.0,338.8L1030.0,338.8L1031.0,338.8L1032.0,338.8L1033.0,338.8L1034.0,338.8L1035.0,338.8L1036.0,338.8L1037.0,338.8L1038.0,338.8L1039.0,338.8L1040.0,338.8L1041.0,338.8L1042.0,338.8L1043.0,338.8L1044.0,338.8L1045.0,338.8L1046.0,338.8L1047.0,338.8L1048.0,338.8L1049.0,338.8L1050.0,338.8L1051.0,338.8L1052.0,338.8L1053.0,338.8L1054.0,338.8L1055.0,338.8L1056.0,338.8L1057.0,338.8L1058.0,338.8L1059.0,338.8L1060.0,338.8L1061.0,338.8L1062.0,338.8L1063.0,338.8L1064.0,338.8L1065.0,338.8L1066.0,338.8L1067.0,338.8L1068.0,338.8L1069.0,338.8L1070.0,338.8L1071.0,338.8L1072.0,338.8L1073.0,338.8L1074.0,338.8L1075.0,338.8L1076.0,338.8L1077.0,338.8L1078.0,338.8L1079.0,338.8L1080.0,338.8L1081.0,338.8L1082.0,338.8L1083.0,338.8L1084.0,338.8L1085.0,338.8L1086.0,338.8L1087.0,338.8L1088.0,338.8L1089.0,338.8L1090.0,338.8L1091.0,338.8L1092.0,338.8L1093.0,338.8L1094.0,338.8L1095.0,338.8L1096.0,338.8L1097.0,338.8L1098.0,338.8L1099.0,338.8L1100.0,338.8L1101.0,338.8L1102.0,338.8L1103.0,338.8L1104.0,338.8L1105.0,338.8L1106.0,338.8L1107.0,338.8L1108.0,338.8L1109.0,338.8L1110.0,338.8L1111.0,338.8L1112.0,338.8L1113.0,338.8L1114.0,338.8L1115.0,338.8L1116.0,338.8L1117.0,338.8L1118.0,338.8L1119.0,338.8L1120.0,338.8L1121.0,338.8L1122.0,338.8L1123.0,338.8L1124.0,338.8L1125.0,338.8L1126.0,338.8L1127.0,338.8L1128.0,338.8" stroke="#ffff44"/>
<path d="M99.0,338.9L100.0,338.9L101.0,338.9L102.0,338.9L103.0,338.9L104.0,338.9L105.0,338.9L106.0,338.9L107.0,338.9L108.0,338.9L109.0,338.9L110.0,338.9L111.0,338.9L112.0,338.9L113.0,338.9L114.0,338.9L115.0,338.9L116.0,338.9L117.0,338.9L118.0,338.9L119.0,338.9L120.0,338.9L121.0,338.9L122.0,338.9L123.0,338.9L124.0,338.9L125.0,338.9L126.0,338.9L127.0,338.9L128.0,338.9L129.0,339.0L130.0,339.0L131.0,339.0L132.0,339.0L133.0,339.0L134.0,339.0L135.0,339.0L136.0,339.0L137.0,339.0L138.0,339.0L139.0,339.0L140.0,339.0L141.0,339.0L142.0,339.0L143.0,339.0L144.0,339.0L145.0,339.0L146.0,339.0L147.0,339.0L148.0,339.0L149.0,339.0L150.0,339.0L151.0,339.0L152.0,339.0L153.0,339.0L154.0,339.0L155.0,339.0L156.0,339.0L157.0,339.0L158.0,339.1L159.0,339.1L160.0,339.1L161.0,339.1L162.0,339.1L163.0,339.1L164.0,339.1L165.0,339.1L166.0,339.1L167.0,339.1L168.0,339.1L169.0,339.1L170.0,339.1L171.0,339.1L172.0,339.1L173.0,339.1L174.0,339.1L175.0,339.1L176.0,339.1L177.0,339.1L178.0,339.2L179.0,339.2L180.0,339.2L181.0,339.2L182.0,339.2L183.0,339.2L184.0,339.2L185.0,339.2L186.0,339.2L187.0,339.2L188.0,339.2L189.0,339.2L190.0,339.2L191.0,339.2L192.0,339.2L193.0,339.2L194.0,339.3L195.0,339.3L196.0,339.3L197.0,339.3L198.0,339.3L199.0,339.3L200.0,339.3L201.0,339.3L202.0,339.3L203.0,339.3L204.0,339.3L205.0,339.3L206.0,339.3L207.0,339.4L208.0,339.4L209.0,339.4L210.0,339.4L211.0,339.4L212.0,339.4L213.0,339.4L214.0,339.4L215.0,339.4L216.0,339.4L217.0,339.4L218.0,339.5L219.0,339.5L220.0,339.5L221.0,339.5L222.0,339.5L223.0,339.5L224.0,339.5L225.0,339.5L226.0,339.5L227.0,339.6L228.0,339.6L229.0,339.6L230.0,339.6L231.0,339.6L232.0,339.6L233.0,339.6L234.0,339.6L235.0,339.7L236.0,339.7L237.0,339.7L238.0,339.7L239.0,339.7L240.0,339.7L241.0,339.7L242.0,339.7L243.0,339.8L244.0,339.8L245.0,339.8L246.0,339.8L247.0,339.8L248.0,339.8L249.0,339.9L250.0,339.9L251.0,339.9L252.0,339.9L253.0,339.9L254.0,339.9L255.0,340.0L256.0,340.0L257.0,340.0L258.0,340.0L259.0,340.0L260.0,340.0L261.0,340.1L262.0,340.1L263.0,340.1L264.0,340.1L265.0,340.1L266.0,340.2L267.0,340.2L268.0,340.2L269.0,340.2L270.0,340.3L271.0,340.3L272.0,340.3L273.0,340.3L274.0,340.4L275.0,340.4L276.0,340.4L277.0,340.4L278.0,340.5L279.0,340.5L280.0,340.5L281.0,340.5L282.0,340.6L283.0,340.6L284.0,340.6L285.0,340.6L286.0,340.7L287.0,340.7L288.0,340.7L289.0,340.8L290.0,340.8L291.0,340.8L292.0,340.9L293.0,340.9L294.0,340.9L295.0,341.0L296.0,341.0L297.0,341.0L298.0,341.1L299.0,341.1L300.0,341.1L301.0,341.2L302.0,341.2L303.0,341.2L304.0,341.3L305.0,341.3L306.0,341.4L307.0,341.4L308.0,341.5L309.0,341.5L310.0,341.5L311.0,341.6L312.0,341.6L313.0,341.7L314.0,341.7L315.0,341.8L316.0,341.8L317.0,341.9L318.0,341.9L319.0,342.0L320.0,342.0L321.0,342.1L322.0,342.1L323.0,342.2L324.0,342.2L325.0,342.3L326.0,342.4L327.0,342.4L328.0,342.5L329.0,342.5L330.0,342.6L331.0,342.7L332.0,342.7L333.0,342.8L334.0,342.9L335.0,342.9L336.0,343.0L337.0,343.1L338.0,343.2L339.0,343.2L340.0,343.3L341.0,343.4L342.0,343.5L343.0,343.6L344.0,343.6L345.0,343.7L346.0,343.8L347.0,343.9L348.0,344.0L349.0,344.1L350.0,344.2L351.0,344.3L352.0,344.4L353.0,344.5L354.0,344.6L355.0,344.7L356.0,344.8L357.0,344.9L358.0,345.0L359.0,345.1L360.0,345.2L361.0,345.3L362.0,345.5L363.0,345.6L364.0,345.7L365.0,345.8L366.0,346.0L367.0,346.1L368.0,346.2L369.0,346.4L370.0,346.5L371.0,346.7L372.0,346.8L373.0,347.0L374.0,347.1L375.0,347.3L376.0,347.5L377.0,347.6L378.0,347.8L379.0,348.0L380.0,348.1L381.0,348.3L382.0,348.5L383.0,348.7L384.0,348.9L385.0,349.1L386.0,349.3L387.0,349.5L388.0,349.7L389.0,349.9L390.0,350.2L391.0,350.4L392.0,350.6L393.0,350.9L394.0,351.1L395.0,351.4L396.0,351.6L397.0,351.9L398.0,352.1L399.0,352.4L400.0,352.7L401.0,353.0L402.0,353.3L403.0,353.6L404.0,353.9L405.0,354.2L406.0,354.5L407.0,354.8L408.0,355.2L409.0,355.5L410.0,355.9L411.0,356.2L412.0,356.6L413.0,357.0L414.0,357.3L415.0,357.7L416.0,358.1L417.0,358.5L418.0,358.9L419.0,359.4L420.0,359.8L421.0,360.2L422.0,360.7L423.0,361.1L424.0,361.6L425.0,362.1L426.0,362.6L427.0,363.1L428.0,363.5L429.0,364.1L430.0,364.6L431.0,365.1L432.0,365.6L433.0,366.1L434.0,366.7L435.0,367.2L436.0,367.8L437.0,368.3L438.0,368.9L439.0,369.5L440.0,370.0L441.0,370.6L442.0,371.2L443.0,371.7L444.0,372.3L445.0,372.9L446.0,373.4L447.0,374.0L448.0,374.5L449.0,375.1L450.0,375.6L451.0,376.1L452.0,376.7L453.0,377.2L454.0,377.6L455.0,378.1L456.0,378.6L457.0,379.0L458.0,379.4L459.0,379.8L460.0,380.2L461.0,380.5L462.0,380.8L463.0,381.1L464.0,381.4L465.0,381.6L466.0,381.8L467.0,382.0L468.0,382.1L469.0,382.2L470.0,382.2L471.0,382.2L472.0,382.2L473.0,382.2L474.0,382.1L475.0,382.0L476.0,381.8L477.0,381.6L478.0,381.4L479.0,381.2L480.0,380.9L481.0,380.6L482.0,380.2L483.0,379.9L484.0,379.5L485.0,379.1L486.0,378.7L487.0,378.2L488.0,377.7L489.0,377.3L490.0,376.8L491.0,376.2L492.0,375.7L493.0,375.2L494.0,374.6L495.0,374.1L496.0,373.5L497.0,373.0L498.0,372.4L499.0,371.8L500.0,371.3L501.0,370.7L502.0,370.1L503.0,369.6L504.0,369.0L505.0,368.4L506.0,367.9L507.0,367.3L508.0,366.8L509.0,366.2L510.0,365.7L511.0,365.2L512.0,364.7L513.0,364.2L514.0,363.6L515.0,363.1L516.0,362.7L517.0,362.2L518.0,361.7L519.0,361.2L520.0,360.8L521.0,360.3L522.0,359.9L523.0,359.5L524.0,359.0L525.0,358.6L526.0,358.2L527.0,357.8L528.0,357.4L529.0,357.0L530.0,356.7L531.0,356.3L532.0,355.9L533.0,355.6L534.0,355.2L535.0,354.9L536.0,354.6L537.0,354.3L538.0,353.9L539.0,353.6L540.0,353.3L541.0,353.0L542.0,352.7L543.0,352.5L544.0,352.2L545.0,351.9L546.0,351.7L547.0,351.4L548.0,351.2L549.0,350.9L550.0,350.7L551.0,350.4L552.0,350.2L553.0,350.0L554.0,349.8L555.0,349.5L556.0,349.3L557.0,349.1L558.0,348.9L559.0,348.7L560.0,348.5L561.0,348.4L562.0,348.2L563.0,348.0L564.0,347.8L565.0,347.7L566.0,347.5L567.0,347.3L568.0,347.2L569.0,347.0L570.0,346.9L571.0,346.7L572.0,346.6L573.0,346.4L574.0,346.3L575.0,346.1L576.0,346.0L577.0,345.9L578.0,345.7L579.0,345.6L580.0,345.5L581.0,345.4L582.0,345.2L583.0,345.1L584.0,345.0L585.0,344.9L586.0,344.8L587.0,344.7L588.0,344.6L589.0,344.5L590.0,344.4L591.0,344.3L592.0,344.2L593.0,344.1L594.0,344.0L595.0,343.9L596.0,343.8L597.0,343.7L598.0,343.7L599.0,343.6L600.0,343.5L601.0,343.4L602.0,343.3L603.0,343.3L604.0,343.2L605.0,343.1L606.0,343.0L607.0,343.0L608.0,342.9L609.0,342.8L610.0,342.8L611.0,342.7L612.0,342.6L613.0,342.6L614.0,342.5L615.0,342.4L616.0,342.4L617.0,342.3L618.0,342.3L619.0,342.2L620.0,342.1L621.0,342.1L622.0,342.0L623.0,342.0L624.0,341.9L625.0,341.9L626.0,341.8L627.0,341.8L628.0,341.7L629.0,341.7L630.0,341.6L631.0,341.6L632.0,341.5L633.0,341.5L634.0,341.5L635.0,341.4L636.0,341.4L637.0,341.3L638.0,341.3L639.0,341.3L640.0,341.2L641.0,341.2L642.0,341.1L643.0,341.1L644.0,341.1L645.0,341.0L646.0,341.0L647.0,341.0L648.0,340.9L649.0,340.9L650.0,340.9L651.0,340.8L652.0,340.8L653.0,340.8L654.0,340.7L655.0,340.7L656.0,340.7L657.0,340.6L658.0,340.6L659.0,340.6L660.0,340.6L661.0,340.5L662.0,340.5L663.0,340.5L664.0,340.5L665.0,340.4L666.0,340.4L667.0,340.4L668.0,340.4L669.0,340.3L670.0,340.3L671.0,340.3L672.0,340.3L673.0,340.2L674.0,340.2L675.0,340.2L676.0,340.2L677.0,340.1L678.0,340.1L679.0,340.1L680.0,340.1L681.0,340.1L682.0,340.0L683.0,340.0L684.0,340.0L685.0,340.0L686.0,340.0L687.0,340.0L688.0,339.9L689.0,339.9L690.0,339.9L691.0,339.9L692.0,339.9L693.0,339.9L694.0,339.8L695.0,339.8L696.0,339.8L697.0,339.8L698.0,339.8L699.0,339.8L700.0,339.7L701.0,339.7L702.0,339.7L703.0,339.7L704.0,339.7L705.0,339.7L706.0,339.7L707.0,339.6L708.0,339.6L709.0,339.6L710.0,339.6L711.0,339.6L712.0,339.6L713.0,339.6L714.0,339.6L715.0,339.6L716.0,339.5L717.0,339.5L718.0,339.5L719.0,339.5L720.0,339.5L721.0,339.5L722.0,339.5L723.0,339.5L724.0,339.5L725.0,339.4L726.0,339.4L727.0,339.4L728.0,339.4L729.0,339.4L730.0,339.4L731.0,339.4L732.0,339.4L733.0,339.4L734.0,339.4L735.0,339.4L736.0,339.3L737.0,339.3L738.0,339.3L739.0,339.3L740.0,339.3L741.0,339.3L742.0,339.3L743.0,339.3L744.0,339.3L745.0,339.3L746.0,339.3L747.0,339.3L748.0,339.2L749.0,339.2L750.0,339.2L751.0,339.2L752.0,339.2L753.0,339.2L754.0,339.2L755.0,339.2L756.0,339.2L757.0,339.2L758.0,339.2L759.0,339.2L760.0,339.2L761.0,339.2L762.0,339.2L763.0,339.2L764.0,339.1L765.0,339.1L766.0,339.1L767.0,339.1L768.0,339.1L769.0,339.1L770.0,339.1L771.0,339.1L772.0,339.1L773.0,339.1L774.0,339.1L775.0,339.1L776.0,339.1L777.0,339.1L778.0,339.1L779.0,339.1L780.0,339.1L781.0,339.1L782.0,339.1L783.0,339.1L784.0,339.0L785.0,339.0L786.0,339.0L787.0,339.0L788.0,339.0L789.0,339.0L790.0,339.0L791.0,339.0L792.0,339.0L793.0,339.0L794.0,339.0L795.0,339.0L796.0,339.0L797.0,339.0L798.0,339.0L799.0,339.0L800.0,339.0L801.0,339.0L802.0,339.0L803.0,339.0L804.0,339.0L805.0,339.0L806.0,339.0L807.0,339.0L808.0,339.0L809.0,339.0L810.0,339.0L811.0,339.0L812.0,339.0L813.0,338.9L814.0,338.9L815.0,338.9L816.0,338.9L817.0,338.9L818.0,338.9L819.0,338.9L820.0,338.9L821.0,338.9L822.0,338.9L823.0,338.9L824.0,338.9L825.0,338.9L826.0,338.9L827.0,338.9L828.0,338.9L829.0,338.9L830.0,338.9L831.0,338.9L832.0,338.9L833.0,338.9L834.0,338.9L835.0,338.9L836.0,338.9L837.0,338.9L838.0,338.9L839.0,338.9L840.0,338.9L841.0,338.9L842.0,338.9L843.0,338.9L844.0,338.9L845.0,338.9L846.0,338.9L847.0,338.9L848.0,338.9L849.0,338.9L850.0,338.9L851.0,338.9L852.0,338.9L853.0,338.9L854.0,338.9L855.0,338.9L856.0,338.9L857.0,338.9L858.0,338.9L859.0,338.9L860.0,338.9L861.0,338.9L862.0,338.8L863.0,338.8L864.0,338.8L865.0,338.8L866.0,338.8L867.0,338.8L868.0,338.8L869.0,338.8L870.0,338.8L871.0,338.8L872.0,338.8L873.0,338.8L874.0,338.8L875.0,338.8L876.0,338.8L877.0,338.8L878.0,338.8L879.0,338.8L880.0,338.8L881.0,338.8L882.0,338.8L883.0,338.8L884.0,338.8L885.0,338.8L886.0,338.8L887.0,338.8L888.0,338.8L889.0,338.8L890.0,338.8L891.0,338.8L892.0,338.8L893.0,338.8L894.0,338.8L895.0,338.8L896.0,338.8L897.0,338.8L898.0,338.8L899.0,338.8L900.0,338.8L901.0,338.8L902.0,338.8L903.0,338.8L904.0,338.8L905.0,338.8L906.0,338.8L907.0,338.8L908.0,338.8L909.0,338.8L910.0,338.8L911.0,338.8L912.0,338.8L913.0,338.8L914.0,338.8L915.0,338.8L916.0,338.8L917.0,338.8L918.0,338.8L919.0,338.8L920.0,338.8L921.0,338.8L922.0,338.8L923.0,338.8L924.0,338.8L925.0,338.8L926.0,338.8L927.0,338.8L928.0,338.8L929.0,338.8L930.0,338.8L931.0,338.8L932.0,338.8L933.0,338.8L934.0,338.8L935.0,338.8L936.0,338.8L937.0,338.8L938.0,338.8L939.0,338.8L940.0,338.8L941.0,338.8L942.0,338.8L943.0,338.8L944.0,338.8L945.0,338.8L946.0,338.8L947.0,338.8L948.0,338.8L949.0,338.8L950.0,338.8L951.0,338.8L952.0,338.8L953.0,338.8L954.0,338.8L955.0,338.8L956.0,338.8L957.0,338.8L958.0,338.8L959.0,338.8L960.0,338.8L961.0,338.8L962.0,338.8L963.0,338.8L964.0,338.8L965.0,338.8L966.0,338.8L967.0,338.8L968.0,338.8L969.0,338.8L970.0,338.8L971.0,338.8L972.0,338.8L973.0,338.8L974.0,338.8L975.0,338.8L976.0,338.8L977.0,338.8L978.0,338.8L979.0,338.8L980.0,338.8L981.0,338.8L982.0,338.8L983.0,338.8L984.0,338.8L985.0,338.8L986.0,338.8L987.0,338.8L988.0,338.8L989.0,338.8L990.0,338.8L991.0,338.8L992.0,338.8L993.0,338.8L994.0,338.8L995.0,338.8L996.0,338.8L997.0,338.8L998.0,338.8L999.0,338.8L1000.0,338.8L1001.0,338.8L1002.0,338.8L1003.0,338.8L1004.0,338.8L1005.0,338.8L1006.0,338.8L1007.0,338.8L1008.0,338.8L1009.0,338.8L1010.0,338.8L1011.0,338.8L1012.0,338.8L1013.0,338.8L1014.0,338.8L1015.0,338.8L1016.0,338.8L1017.0,338.8L1018.0,338.8L1019.0,338.8L1020.0,338.8L1021.0,338.8L1022.0,338.8L1023.0,338.8L1024.0,338.8L1025.0,338.8L1026.0,338.8L1027.0,338.8L1028.0,338.8L1029.0,338.8L1030.0,338.8L1031.0,338.8L1032.0,338.8L1033.0,338.8L1034.0,338.8L1035.0,338.8L1036.0,338.8L1037.0,338.8L1038.0,338.8L1039.0,338.8L1040.0,338.8L1041.0,338.8L1042.0,338.8L1043.0,338.8L1044.0,338.8L1045.0,338.8L1046.0,338.8L1047.0,338.8L1048.0,338.8L1049.0,338.8L1050.0,338.8L1051.0,338.8L1052.0,338.8L1053.0,338.8L1054.0,338.8L1055.0,338.8L1056.0,338.8L1057.0,338.8L1058.0,338.8L1059.0,338.8L1060.0,338.8L1061.0,338.8L1062.0,338.8L1063.0,338.8L1064.0,338.8L1065.0,338.8L1066.0,338.8L1067.0,338.8L1068.0,338.8L1069.0,338.8L1070.0,338.8L1071.0,338.8L1072.0,338.8L1073.0,338.8L1074.0,338.8L1075.0,338.8L1076.0,338.8L1077.0,338.8L1078.0,338.8L1079.0,338.8L1080.0,338.8L1081.0,338.8L1082.0,338.8L1083.0,338.8L1084.0,338.8L1085.0,338.8L1086.0,338.8L1087.0,338.8L1088.0,338.8L1089.0,338.8L1090.0,338.8L1091.0,338.8L1092.0,338.8L1093.0,338.8L1094.0,338.8L1095.0,338.8L1096.0,338.8L1097.0,338.8L1098.0,338.8L1099.0,338.8L1100.0,338.8L1101.0,338.8L1102.0,338.8L1103.0,338.8L1104.0,338.8L1105.0,338.8L1106.0,338.8L1107.0,338.8L1108.0,338.8L1109.0,338.8L1110.0,338.8L1111.0,338.8L1112.0,338.8L1113.0,338.8L1114.0,338.8L1115.0,338.8L1116.0,338.8L1117.0,338.8L1118.0,338.8L1119.0,338.8L1120.0,338.8L1121.0,338.8L1122.0,338.8L1123.0,338.8L1124.0,338.8L1125.0,338.8L1126.0,338.8L1127.0,338.8L1128.0,338.8" stroke="#bb66ff"/>
<path d="M99.0,338.6L100.0,338.6L101.0,338.6L102.0,338.6L103.0,338.6L104.0,338.6L105.0,338.6L106.0,338.6L107.0,338.6L108.0,338.6L109.0,338.6L110.0,338.6L111.0,338.6L112.0,338.5L113.0,338.5L114.0,338.5L115.0,338.5L116.0,338.5L117.0,338.5L118.0,338.5L119.0,338.5L120.0,338.5L121.0,338.5L122.0,338.5L123.0,338.5L124.0,338.5L125.0,338.5L126.0,338.5L127.0,338.5L128.0,338.5L129.0,338.5L130.0,338.5L131.0,338.5L132.0,338.5L133.0,338.5L134.0,338.5L135.0,338.5L136.0,338.5L137.0,338.5L138.0,338.5L139.0,338.5L140.0,338.5L141.0,338.4L142.0,338.4L143.0,338.4L144.0,338.4L145.0,338.4L146.0,338.4L147.0,338.4L148.0,338.4L149.0,338.4L150.0,338.4L151.0,338.4L152.0,338.4L153.0,338.4L154.0,338.4L155.0,338.4L156.0,338.4L157.0,338.4L158.0,338.4L159.0,338.4L160.0,338.4L161.0,338.4L162.0,338.3L163.0,338.3L164.0,338.3L165.0,338.3L166.0,338.3L167.0,338.3L168.0,338.3L169.0,338.3L170.0,338.3L171.0,338.3L172.0,338.3L173.0,338.3L174.0,338.3L175.0,338.3L176.0,338.3L177.0,338.3L178.0,338.2L179.0,338.2L180.0,338.2L181.0,338.2L182.0,338.2L183.0,338.2L184.0,338.2L185.0,338.2L186.0,338.2L187.0,338.2L188.0,338.2L189.0,338.2L190.0,338.2L191.0,338.1L192.0,338.1L193.0,338.1L194.0,338.1L195.0,338.1L196.0,338.1L197.0,338.1L198.0,338.1L199.0,338.1L200.0,338.1L201.0,338.1L202.0,338.0L203.0,338.0L204.0,338.0L205.0,338.0L206.0,338.0L207.0,338.0L208.0,338.0L209.0,338.0L210.0,338.0L211.0,337.9L212.0,337.9L213.0,337.9L214.0,337.9L215.0,337.9L216.0,337.9L217.0,337.9L218.0,337.9L219.0,337.8L220.0,337.8L221.0,337.8L222.0,337.8L223.0,337.8L224.0,337.8L225.0,337.8L226.0,337.8L227.0,337.7L228.0,337.7L229.0,337.7L230.0,337.7L231.0,337.7L232.0,337.7L233.0,337.6L234.0,337.6L235.0,337.6L236.0,337.6L237.0,337.6L238.0,337.6L239.0,337.5L240.0,337.5L241.0,337.5L242.0,337.5L243.0,337.5L244.0,337.5L245.0,337.4L246.0,337.4L247.0,337.4L248.0,337.4L249.0,337.4L250.0,337.3L251.0,337.3L252.0,337.3L253.0,337.3L254.0,337.3L255.0,337.2L256.0,337.2L257.0,337.2L258.0,337.2L259.0,337.1L260.0,337.1L261.0,337.1L262.0,337.1L263.0,337.0L264.0,337.0L265.0,337.0L266.0,337.0L267.0,336.9L268.0,336.9L269.0,336.9L270.0,336.9L271.0,336.8L272.0,336.8L273.0,336.8L274.0,336.7L275.0,336.7L276.0,336.7L277.0,336.6L278.0,336.6L279.0,336.6L280.0,336.5L281.0,336.5L282.0,336.5L283.0,336.4L284.0,336.4L285.0,336.4L286.0,336.3L287.0,336.3L288.0,336.3L289.0,336.2L290.0,336.2L291.0,336.2L292.0,336.1L293.0,336.1L294.0,336.0L295.0,336.0L296.0,335.9L297.0,335.9L298.0,335.9L299.0,335.8L300.0,335.8L301.0,335.7L302.0,335.7L303.0,335.6L304.0,335.6L305.0,335.5L306.0,335.5L307.0,335.4L308.0,335.4L309.0,335.3L310.0,335.3L311.0,335.2L312.0,335.1L313.0,335.1L314.0,335.0L315.0,335.0L316.0,334.9L317.0,334.9L318.0,334.8L319.0,334.7L320.0,334.7L321.0,334.6L322.0,334.5L323.0,334.5L324.0,334.4L325.0,334.3L326.0,334.2L327.0,334.2L328.0,334.1L329.0,334.0L330.0,333.9L331.0,333.9L332.0,333.8L333.0,333.7L334.0,333.6L335.0,333.5L336.0,333.4L337.0,333.3L338.0,333.3L339.0,333.2L340.0,333.1L341.0,333.0L342.0,332.9L343.0,332.8L344.0,332.7L345.0,332.6L346.0,332.5L347.0,332.4L348.0,332.2L349.0,332.1L350.0,332.0L351.0,331.9L352.0,331.8L353.0,331.7L354.0,331.5L355.0,331.4L356.0,331.3L357.0,331.1L358.0,331.0L359.0,330.9L360.0,330.7L361.0,330.6L362.0,330.4L363.0,330.3L364.0,330.1L365.0,330.0L366.0,329.8L367.0,329.7L368.0,329.5L369.0,329.3L370.0,329.1L371.0,329.0L372.0,328.8L373.0,328.6L374.0,328.4L375.0,328.2L376.0,328.0L377.0,327.8L378.0,327.6L379.0,327.4L380.0,327.2L381.0,327.0L382.0,326.7L383.0,326.5L384.0,326.3L385.0,326.0L386.0,325.8L387.0,325.5L388.0,325.3L389.0,325.0L390.0,324.7L391.0,324.4L392.0,324.2L393.0,323.9L394.0,323.6L395.0,323.3L396.0,323.0L397.0,322.6L398.0,322.3L399.0,322.0L400.0,321.6L401.0,321.3L402.0,320.9L403.0,320.6L404.0,320.2L405.0,319.8L406.0,319.4L407.0,319.0L408.0,318.6L409.0,318.2L410.0,317.7L411.0,317.3L412.0,316.8L413.0,316.4L414.0,315.9L415.0,315.4L416.0,314.9L417.0,314.4L418.0,313.9L419.0,313.3L420.0,312.8L421.0,312.2L422.0,311.6L423.0,311.0L424.0,310.4L425.0,309.8L426.0,309.2L427.0,308.6L428.0,307.9L429.0,307.2L430.0,306.6L431.0,305.9L432.0,305.1L433.0,304.4L434.0,303.7L435.0,302.9L436.0,302.2L437.0,301.4L438.0,300.6L439.0,299.8L440.0,299.0L441.0,298.1L442.0,297.3L443.0,296.4L444.0,295.6L445.0,294.7L446.0,293.8L447.0,292.9L448.0,292.0L449.0,291.1L450.0,290.2L451.0,289.3L452.0,288.4L453.0,287.5L454.0,286.6L455.0,285.7L456.0,284.8L457.0,283.9L458.0,283.0L459.0,282.2L460.0,281.4L461.0,280.5L462.0,279.8L463.0,279.0L464.0,278.3L465.0,277.6L466.0,276.9L467.0,276.3L468.0,275.8L469.0,275.3L470.0,274.8L471.0,274.4L472.0,274.0L473.0,273.7L474.0,273.5L475.0,273.3L476.0,273.2L477.0,273.2L478.0,273.2L479.0,273.2L480.0,273.4L481.0,273.6L482.0,273.8L483.0,274.2L484.0,274.5L485.0,275.0L486.0,275.5L487.0,276.0L488.0,276.6L489.0,277.2L490.0,277.9L491.0,278.6L492.0,279.3L493.0,280.1L494.0,280.9L495.0,281.7L496.0,282.5L497.0,283.4L498.0,284.3L499.0,285.1L500.0,286.0L501.0,286.9L502.0,287.8L503.0,288.7L504.0,289.7L505.0,290.6L506.0,291.5L507.0,292.4L508.0,293.3L509.0,294.2L510.0,295.0L511.0,295.9L512.0,296.8L513.0,297.6L514.0,298.5L515.0,299.3L516.0,300.1L517.0,300.9L518.0,301.7L519.0,302.5L520.0,303.2L521.0,304.0L522.0,304.7L523.0,305.4L524.0,306.1L525.0,306.8L526.0,307.5L527.0,308.2L528.0,308.8L529.0,309.5L530.0,310.1L531.0,310.7L532.0,311.3L533.0,311.9L534.0,312.4L535.0,313.0L536.0,313.5L537.0,314.1L538.0,314.6L539.0,315.1L540.0,315.6L541.0,316.1L542.0,316.5L543.0,317.0L544.0,317.5L545.0,317.9L546.0,318.3L547.0,318.8L548.0,319.2L549.0,319.6L550.0,320.0L551.0,320.3L552.0,320.7L553.0,321.1L554.0,321.4L555.0,321.8L556.0,322.1L557.0,322.4L558.0,322.8L559.0,323.1L560.0,323.4L561.0,323.7L562.0,324.0L563.0,324.3L564.0,324.6L565.0,324.8L566.0,325.1L567.0,325.4L568.0,325.6L569.0,325.9L570.0,326.1L571.0,326.4L572.0,326.6L573.0,326.8L574.0,327.1L575.0,327.3L576.0,327.5L577.0,327.7L578.0,327.9L579.0,328.1L580.0,328.3L581.0,328.5L582.0,328.7L583.0,328.9L584.0,329.0L585.0,329.2L586.0,329.4L587.0,329.6L588.0,329.7L589.0,329.9L590.0,330.1L591.0,330.2L592.0,330.4L593.0,330.5L594.0,330.7L595.0,330.8L596.0,330.9L597.0,331.1L598.0,331.2L599.0,331.3L600.0,331.5L601.0,331.6L602.0,331.7L603.0,331.8L604.0,332.0L605.0,332.1L606.0,332.2L607.0,332.3L608.0,332.4L609.0,332.5L610.0,332.6L611.0,332.7L612.0,332.8L613.0,332.9L614.0,333.0L615.0,333.1L616.0,333.2L617.0,333.3L618.0,333.4L619.0,333.5L620.0,333.6L621.0,333.7L622.0,333.7L623.0,333.8L624.0,333.9L625.0,334.0L626.0,334.1L627.0,334.1L628.0,334.2L629.0,334.3L630.0,334.4L631.0,334.4L632.0,334.5L633.0,334.6L634.0,334.6L635.0,334.7L636.0,334.8L637.0,334.8L638.0,334.9L639.0,334.9L640.0,335.0L641.0,335.1L642.0,335.1L643.0,335.2L644.0,335.2L645.0,335.3L646.0,335.3L647.0,335.4L648.0,335.4L649.0,335.5L650.0,335.6L651.0,335.6L652.0,335.6L653.0,335.7L654.0,335.7L655.0,335.8L656.0,335.8L657.0,335.9L658.0,335.9L659.0,336.0L660.0,336.0L661.0,336.1L662.0,336.1L663.0,336.1L664.0,336.2L665.0,336.2L666.0,336.3L667.0,336.3L668.0,336.3L669.0,336.4L670.0,336.4L671.0,336.4L672.0,336.5L673.0,336.5L674.0,336.5L675.0,336.6L676.0,336.6L677.0,336.6L678.0,336.7L679.0,336.7L680.0,336.7L681.0,336.8L682.0,336.8L683.0,336.8L684.0,336.8L685.0,336.9L686.0,336.9L687.0,336.9L688.0,337.0L689.0,337.0L690.0,337.0L691.0,337.0L692.0,337.1L693.0,337.1L694.0,337.1L695.0,337.1L696.0,337.2L697.0,337.2L698.0,337.2L699.0,337.2L700.0,337.2L701.0,337.3L702.0,337.3L703.0,337.3L704.0,337.3L705.0,337.4L706.0,337.4L707.0,337.4L708.0,337.4L709.0,337.4L710.0,337.5L711.0,337.5L712.0,337.5L713.0,337.5L714.0,337.5L715.0,337.5L716.0,337.6L717.0,337.6L718.0,337.6L719.0,337.6L720.0,337.6L721.0,337.6L722.0,337.7L723.0,337.7L724.0,337.7L725.0,337.7L726.0,337.7L727.0,337.7L728.0,337.8L729.0,337.8L730.0,337.8L731.0,337.8L732.0,337.8L733.0,337.8L734.0,337.8L735.0,337.8L736.0,337.9L737.0,337.9L738.0,337.9L739.0,337.9L740.0,337.9L741.0,337.9L742.0,337.9L743.0,337.9L744.0,338.0L745.0,338.0L746.0,338.0L747.0,338.0L748.0,338.0L749.0,338.0L750.0,338.0L751.0,338.0L752.0,338.0L753.0,338.1L754.0,338.1L755.0,338.1L756.0,338.1L757.0,338.1L758.0,338.1L759.0,338.1L760.0,338.1L761.0,338.1L762.0,338.1L763.0,338.1L764.0,338.2L765.0,338.2L766.0,338.2L767.0,338.2L768.0,338.2L769.0,338.2L770.0,338.2L771.0,338.2L772.0,338.2L773.0,338.2L774.0,338.2L775.0,338.2L776.0,338.2L777.0,338.3L778.0,338.3L779.0,338.3L780.0,338.3L781.0,338.3L782.0,338.3L783.0,338.3L784.0,338.3L785.0,338.3L786.0,338.3L787.0,338.3L788.0,338.3L789.0,338.3L790.0,338.3L791.0,338.3L792.0,338.3L793.0,338.4L794.0,338.4L795.0,338.4L796.0,338.4L797.0,338.4L798.0,338.4L799.0,338.4L800.0,338.4L801.0,338.4L802.0,338.4L803.0,338.4L804.0,338.4L805.0,338.4L806.0,338.4L807.0,338.4L808.0,338.4L809.0,338.4L810.0,338.4L811.0,338.4L812.0,338.4L813.0,338.5L814.0,338.5L815.0,338.5L816.0,338.5L817.0,338.5L818.0,338.5L819.0,338.5L820.0,338.5L821.0,338.5L822.0,338.5L823.0,338.5L824.0,338.5L825.0,338.5L826.0,338.5L827.0,338.5L828.0,338.5L829.0,338.5L830.0,338.5L831.0,338.5L832.0,338.5L833.0,338.5L834.0,338.5L835.0,338.5L836.0,338.5L837.0,338.5L838.0,338.5L839.0,338.5L840.0,338.5L841.0,338.5L842.0,338.6L843.0,338.6L844.0,338.6L845.0,338.6L846.0,338.6L847.0,338.6L848.0,338.6L849.0,338.6L850.0,338.6L851.0,338.6L852.0,338.6L853.0,338.6L854.0,338.6L855.0,338.6L856.0,338.6L857.0,338.6L858.0,338.6L859.0,338.6L860.0,338.6L861.0,338.6L862.0,338.6L863.0,338.6L864.0,338.6L865.0,338.6L866.0,338.6L867.0,338.6L868.0,338.6L869.0,338.6L870.0,338.6L871.0,338.6L872.0,338.6L873.0,338.6L874.0,338.6L875.0,338.6L876.0,338.6L877.0,338.6L878.0,338.6L879.0,338.6L880.0,338.6L881.0,338.6L882.0,338.6L883.0,338.6L884.0,338.6L885.0,338.6L886.0,338.6L887.0,338.6L888.0,338.6L889.0,338.6L890.0,338.7L891.0,338.7L892.0,338.7L893.0,338.7L894.0,338.7L895.0,338.7L896.0,338.7L897.0,338.7L898.0,338.7L899.0,338.7L900.0,338.7L901.0,338.7L902.0,338.7L903.0,338.7L904.0,338.7L905.0,338.7L906.0,338.7L907.0,338.7L908.0,338.7L909.0,338.7L910.0,338.7L911.0,338.7L912.0,338.7L913.0,338.7L914.0,338.7L915.0,338.7L916.0,338.7L917.0,338.7L918.0,338.7L919.0,338.7L920.0,338.7L921.0,338.7L922.0,338.7L923.0,338.7L924.0,338.7L925.0,338.7L926.0,338.7L927.0,338.7L928.0,338.7L929.0,338.7L930.0,338.7L931.0,338.7L932.0,338.7L933.0,338.7L934.0,338.7L935.0,338.7L936.0,338.7L937.0,338.7L938.0,338.7L939.0,338.7L940.0,338.7L941.0,338.7L942.0,338.7L943.0,338.7L944.0,338.7L945.0,338.7L946.0,338.7L947.0,338.7L948.0,338.7L949.0,338.7L950.0,338.7L951.0,338.7L952.0,338.7L953.0,338.7L954.0,338.7L955.0,338.7L956.0,338.7L957.0,338.7L958.0,338.7L959.0,338.7L960.0,338.7L961.0,338.7L962.0,338.7L963.0,338.7L964.0,338.7L965.0,338.7L966.0,338.7L967.0,338.7L968.0,338.7L969.0,338.7L970.0,338.7L971.0,338.7L972.0,338.7L973.0,338.7L974.0,338.7L975.0,338.7L976.0,338.7L977.0,338.7L978.0,338.7L979.0,338.7L980.0,338.7L981.0,338.7L982.0,338.7L983.0,338.7L984.0,338.7L985.0,338.7L986.0,338.7L987.0,338.7L988.0,338.7L989.0,338.7L990.0,338.7L991.0,338.7L992.0,338.7L993.0,338.7L994.0,338.7L995.0,338.7L996.0,338.7L997.0,338.7L998.0,338.7L999.0,338.7L1000.0,338.7L1001.0,338.7L1002.0,338.7L1003.0,338.7L1004.0,338.7L1005.0,338.7L1006.0,338.7L1007.0,338.7L1008.0,338.7L1009.0,338.7L1010.0,338.7L1011.0,338.7L1012.0,338.7L1013.0,338.7L1014.0,338.7L1015.0,338.7L1016.0,338.7L1017.0,338.7L1018.0,338.7L1019.0,338.7L1020.0,338.7L1021.0,338.7L1022.0,338.7L1023.0,338.7L1024.0,338.7L1025.0,338.7L1026.0,338.7L1027.0,338.7L1028.0,338.7L1029.0,338.7L1030.0,338.7L1031.0,338.7L1032.0,338.7L1033.0,338.7L1034.0,338.7L1035.0,338.7L1036.0,338.7L1037.0,338.7L1038.0,338.7L1039.0,338.7L1040.0,338.7L1041.0,338.7L1042.0,338.7L1043.0,338.7L1044.0,338.7L1045.0,338.7L1046.0,338.7L1047.0,338.7L1048.0,338.7L1049.0,338.7L1050.0,338.7L1051.0,338.7L1052.0,338.7L1053.0,338.7L1054.0,338.7L1055.0,338.7L1056.0,338.7L1057.0,338.7L1058.0,338.7L1059.0,338.7L1060.0,338.7L1061.0,338.7L1062.0,338.7L1063.0,338.7L1064.0,338.7L1065.0,338.7L1066.0,338.7L1067.0,338.7L1068.0,338.7L1069.0,338.7L1070.0,338.7L1071.0,338.7L1072.0,338.7L1073.0,338.7L1074.0,338.7L1075.0,338.7L1076.0,338.7L1077.0,338.7L1078.0,338.7L1079.0,338.7L1080.0,338.7L1081.0,338.7L1082.0,338.7L1083.0,338.7L1084.0,338.7L1085.0,338.7L1086.0,338.7L1087.0,338.7L1088.0,338.7L1089.0,338.7L1090.0,338.7L1091.0,338.7L1092.0,338.7L1093.0,338.7L1094.0,338.7L1095.0,338.7L1096.0,338.7L1097.0,338.7L1098.0,338.7L1099.0,338.7L1100.0,338.7L1101.0,338.7L1102.0,338.7L1103.0,338.7L1104.0,338.7L1105.0,338.7L1106.0,338.7L1107.0,338.7L1108.0,338.7L1109.0,338.7L1110.0,338.7L1111.0,338.7L1112.0,338.7L1113.0,338.7L1114.0,338.7L1115.0,338.7L1116.0,338.7L1117.0,338.7L1118.0,338.7L1119.0,338.7L1120.0,338.7L1121.0,338.7L1122.0,338.7L1123.0,338.7L1124.0,338.7L1125.0,338.7L1126.0,338.7L1127.0,338.7L1128.0,338.7" stroke="#66b2ff"/>
<path d="M99.0,338.8L100.0,338.8L101.0,338.8L102.0,338.8L103.0,338.8L104.0,338.8L105.0,338.8L106.0,338.8L107.0,338.8L108.0,338.8L109.0,338.8L110.0,338.8L111.0,338.8L112.0,338.8L113.0,338.8L114.0,338.8L115.0,338.8L116.0,338.8L117.0,338.8L118.0,338.8L119.0,338.8L120.0,338.8L121.0,338.8L122.0,338.8L123.0,338.8L124.0,338.8L125.0,338.8L126.0,338.8L127.0,338.8L128.0,338.8L129.0,338.8L130.0,338.8L131.0,338.8L132.0,338.8L133.0,338.8L134.0,338.8L135.0,338.8L136.0,338.8L137.0,338.8L138.0,338.8L139.0,338.8L140.0,338.8L141.0,338.8L142.0,338.8L143.0,338.8L144.0,338.8L145.0,338.8L146.0,338.8L147.0,338.8L148.0,338.8L149.0,338.8L150.0,338.8L151.0,338.8L152.0,338.8L153.0,338.8L154.0,338.8L155.0,338.8L156.0,338.8L157.0,338.8L158.0,338.8L159.0,338.8L160.0,338.8L161.0,338.8L162.0,338.8L163.0,338.8L164.0,338.8L165.0,338.8L166.0,338.8L167.0,338.8L168.0,338.8L169.0,338.8L170.0,338.8L171.0,338.8L172.0,338.8L173.0,338.8L174.0,338.8L175.0,338.8L176.0,338.8L177.0,338.8L178.0,338.8L179.0,338.8L180.0,338.8L181.0,338.8L182.0,338.9L183.0,338.9L184.0,338.9L185.0,338.9L186.0,338.9L187.0,338.9L188.0,338.9L189.0,338.9L190.0,338.9L191.0,338.9L192.0,338.9L193.0,338.9L194.0,338.9L195.0,338.9L196.0,338.9L197.0,338.9L198.0,338.9L199.0,338.9L200.0,338.9L201.0,338.9L202.0,338.9L203.0,338.9L204.0,338.9L205.0,338.9L206.0,338.9L207.0,338.9L208.0,338.9L209.0,338.9L210.0,338.9L211.0,338.9L212.0,338.9L213.0,338.9L214.0,338.9L215.0,338.9L216.0,338.9L217.0,338.9L218.0,338.9L219.0,338.9L220.0,338.9L221.0,338.9L222.0,338.9L223.0,338.9L224.0,338.9L225.0,338.9L226.0,338.9L227.0,338.9L228.0,338.9L229.0,338.9L230.0,338.9L231.0,339.0L232.0,339.0L233.0,339.0L234.0,339.0L235.0,339.0L236.0,339.0L237.0,339.0L238.0,339.0L239.0,339.0L240.0,339.0L241.0,339.0L242.0,339.0L243.0,339.0L244.0,339.0L245.0,339.0L246.0,339.0L247.0,339.0L248.0,339.0L249.0,339.0L250.0,339.0L251.0,339.0L252.0,339.0L253.0,339.0L254.0,339.0L255.0,339.0L256.0,339.0L257.0,339.0L258.0,339.0L259.0,339.1L260.0,339.1L261.0,339.1L262.0,339.1L263.0,339.1L264.0,339.1L265.0,339.1L266.0,339.1L267.0,339.1L268.0,339.1L269.0,339.1L270.0,339.1L271.0,339.1L272.0,339.1L273.0,339.1L274.0,339.1L275.0,339.1L276.0,339.1L277.0,339.1L278.0,339.1L279.0,339.2L280.0,339.2L281.0,339.2L282.0,339.2L283.0,339.2L284.0,339.2L285.0,339.2L286.0,339.2L287.0,339.2L288.0,339.2L289.0,339.2L290.0,339.2L291.0,339.2L292.0,339.2L293.0,339.2L294.0,339.3L295.0,339.3L296.0,339.3L297.0,339.3L298.0,339.3L299.0,339.3L300.0,339.3L301.0,339.3L302.0,339.3L303.0,339.3L304.0,339.3L305.0,339.3L306.0,339.4L307.0,339.4L308.0,339.4L309.0,339.4L310.0,339.4L311.0,339.4L312.0,339.4L313.0,339.4L314.0,339.4L315.0,339.5L316.0,339.5L317.0,339.5L318.0,339.5L319.0,339.5L320.0,339.5L321.0,339.5L322.0,339.5L323.0,339.5L324.0,339.6L325.0,339.6L326.0,339.6L327.0,339.6L328.0,339.6L329.0,339.6L330.0,339.6L331.0,339.7L332.0,339.7L333.0,339.7L334.0,339.7L335.0,339.7L336.0,339.7L337.0,339.8L338.0,339.8L339.0,339.8L340.0,339.8L341.0,339.8L342.0,339.8L343.0,339.9L344.0,339.9L345.0,339.9L346.0,339.9L347.0,339.9L348.0,340.0L349.0,340.0L350.0,340.0L351.0,340.0L352.0,340.0L353.0,340.1L354.0,340.1L355.0,340.1L356.0,340.1L357.0,340.2L358.0,340.2L359.0,340.2L360.0,340.2L361.0,340.3L362.0,340.3L363.0,340.3L364.0,340.3L365.0,340.4L366.0,340.4L367.0,340.4L368.0,340.5L369.0,340.5L370.0,340.5L371.0,340.6L372.0,340.6L373.0,340.6L374.0,340.7L375.0,340.7L376.0,340.7L377.0,340.8L378.0,340.8L379.0,340.9L380.0,340.9L381.0,340.9L382.0,341.0L383.0,341.0L384.0,341.1L385.0,341.1L386.0,341.2L387.0,341.2L388.0,341.3L389.0,341.3L390.0,341.4L391.0,341.4L392.0,341.5L393.0,341.5L394.0,341.6L395.0,341.7L396.0,341.7L397.0,341.8L398.0,341.9L399.0,341.9L400.0,342.0L401.0,342.1L402.0,342.1L403.0,342.2L404.0,342.3L405.0,342.4L406.0,342.5L407.0,342.5L408.0,342.6L409.0,342.7L410.0,342.8L411.0,342.9L412.0,343.0L413.0,343.1L414.0,343.2L415.0,343.3L416.0,343.4L417.0,343.5L418.0,343.7L419.0,343.8L420.0,343.9L421.0,344.0L422.0,344.2L423.0,344.3L424.0,344.5L425.0,344.6L426.0,344.8L427.0,344.9L428.0,345.1L429.0,345.3L430.0,345.4L431.0,345.6L432.0,345.8L433.0,346.0L434.0,346.2L435.0,346.5L436.0,346.7L437.0,346.9L438.0,347.2L439.0,347.4L440.0,347.7L441.0,347.9L442.0,348.2L443.0,348.5L444.0,348.8L445.0,349.2L446.0,349.5L447.0,349.9L448.0,350.2L449.0,350.6L450.0,351.0L451.0,351.5L452.0,351.9L453.0,352.4L454.0,352.9L455.0,353.4L456.0,353.9L457.0,354.5L458.0,355.1L459.0,355.7L460.0,356.4L461.0,357.1L462.0,357.9L463.0,358.6L464.0,359.5L465.0,360.3L466.0,361.3L467.0,362.2L468.0,363.3L469.0,364.4L470.0,365.5L471.0,366.8L472.0,368.1L473.0,369.5L474.0,371.0L475.0,372.6L476.0,374.2L477.0,376.0L478.0,378.0L479.0,380.0L480.0,382.2L481.0,384.5L482.0,387.0L483.0,389.7L484.0,392.6L485.0,395.7L486.0,399.0L487.0,402.5L488.0,406.3L489.0,410.3L490.0,414.6L491.0,419.2L492.0,424.2L493.0,429.4L494.0,434.9L495.0,440.6L496.0,446.6L497.0,452.6L498.0,458.6L499.0,464.4L500.0,469.6L501.0,473.9L502.0,476.9L503.0,478.3L504.0,477.9L505.0,475.8L506.0,472.3L507.0,467.6L508.0,462.1L509.0,456.3L510.0,450.2L511.0,444.2L512.0,438.3L513.0,432.6L514.0,427.3L515.0,422.2L516.0,417.4L517.0,412.9L518.0,408.7L519.0,404.7L520.0,401.0L521.0,397.6L522.0,394.4L523.0,391.4L524.0,388.6L525.0,386.0L526.0,383.6L527.0,381.3L528.0,379.2L529.0,377.2L530.0,375.3L531.0,373.6L532.0,371.9L533.0,370.4L534.0,368.9L535.0,367.5L536.0,366.3L537.0,365.1L538.0,363.9L539.0,362.8L540.0,361.8L541.0,360.9L542.0,360.0L543.0,359.1L544.0,358.3L545.0,357.6L546.0,356.8L547.0,356.1L548.0,355.5L549.0,354.9L550.0,354.3L551.0,353.7L552.0,353.2L553.0,352.7L554.0,352.2L555.0,351.7L556.0,351.3L557.0,350.9L558.0,350.5L559.0,350.1L560.0,349.7L561.0,349.4L562.0,349.0L563.0,348.7L564.0,348.4L565.0,348.1L566.0,347.8L567.0,347.6L568.0,347.3L569.0,347.1L570.0,346.8L571.0,346.6L572.0,346.4L573.0,346.1L574.0,345.9L575.0,345.7L576.0,345.6L577.0,345.4L578.0,345.2L579.0,345.0L580.0,344.9L581.0,344.7L582.0,344.5L583.0,344.4L584.0,344.3L585.0,344.1L586.0,344.0L587.0,343.9L588.0,343.7L589.0,343.6L590.0,343.5L591.0,343.4L592.0,343.3L593.0,343.2L594.0,343.1L595.0,343.0L596.0,342.9L597.0,342.8L598.0,342.7L599.0,342.6L600.0,342.5L601.0,342.4L602.0,342.3L603.0,342.3L604.0,342.2L605.0,342.1L606.0,342.0L607.0,342.0L608.0,341.9L609.0,341.8L610.0,341.8L611.0,341.7L612.0,341.6L613.0,341.6L614.0,341.5L615.0,341.5L616.0,341.4L617.0,341.4L618.0,341.3L619.0,341.2L620.0,341.2L621.0,341.2L622.0,341.1L623.0,341.1L624.0,341.0L625.0,341.0L626.0,340.9L627.0,340.9L628.0,340.8L629.0,340.8L630.0,340.8L631.0,340.7L632.0,340.7L633.0,340.7L634.0,340.6L635.0,340.6L636.0,340.5L637.0,340.5L638.0,340.5L639.0,340.5L640.0,340.4L641.0,340.4L642.0,340.4L643.0,340.3L644.0,340.3L645.0,340.3L646.0,340.2L647.0,340.2L648.0,340.2L649.0,340.2L650.0,340.1L651.0,340.1L652.0,340.1L653.0,340.1L654.0,340.1L655.0,340.0L656.0,340.0L657.0,340.0L658.0,340.0L659.0,339.9L660.0,339.9L661.0,339.9L662.0,339.9L663.0,339.9L664.0,339.8L665.0,339.8L666.0,339.8L667.0,339.8L668.0,339.8L669.0,339.8L670.0,339.7L671.0,339.7L672.0,339.7L673.0,339.7L674.0,339.7L675.0,339.7L676.0,339.6L677.0,339.6L678.0,339.6L679.0,339.6L680.0,339.6L681.0,339.6L682.0,339.6L683.0,339.6L684.0,339.5L685.0,339.5L686.0,339.5L687.0,339.5L688.0,339.5L689.0,339.5L690.0,339.5L691.0,339.5L692.0,339.4L693.0,339.4L694.0,339.4L695.0,339.4L696.0,339.4L697.0,339.4L698.0,339.4L699.0,339.4L700.0,339.4L701.0,339.4L702.0,339.3L703.0,339.3L704.0,339.3L705.0,339.3L706.0,339.3L707.0,339.3L708.0,339.3L709.0,339.3L710.0,339.3L711.0,339.3L712.0,339.3L713.0,339.3L714.0,339.2L715.0,339.2L716.0,339.2L717.0,339.2L718.0,339.2L719.0,339.2L720.0,339.2L721.0,339.2L722.0,339.2L723.0,339.2L724.0,339.2L725.0,339.2L726.0,339.2L727.0,339.2L728.0,339.1L729.0,339.1L730.0,339.1L731.0,339.1L732.0,339.1L733.0,339.1L734.0,339.1L735.0,339.1L736.0,339.1L737.0,339.1L738.0,339.1L739.0,339.1L740.0,339.1L741.0,339.1L742.0,339.1L743.0,339.1L744.0,339.1L745.0,339.1L746.0,339.1L747.0,339.1L748.0,339.0L749.0,339.0L750.0,339.0L751.0,339.0L752.0,339.0L753.0,339.0L754.0,339.0L755.0,339.0L756.0,339.0L757.0,339.0L758.0,339.0L759.0,339.0L760.0,339.0L761.0,339.0L762.0,339.0L763.0,339.0L764.0,339.0L765.0,339.0L766.0,339.0L767.0,339.0L768.0,339.0L769.0,339.0L770.0,339.0L771.0,339.0L772.0,339.0L773.0,339.0L774.0,339.0L775.0,338.9L776.0,338.9L777.0,338.9L778.0,338.9L779.0,338.9L780.0,338.9L781.0,338.9L782.0,338.9L783.0,338.9L784.0,338.9L785.0,338.9L786.0,338.9L787.0,338.9L788.0,338.9L789.0,338.9L790.0,338.9L791.0,338.9L792.0,338.9L793.0,338.9L794.0,338.9L795.0,338.9L796.0,338.9L797.0,338.9L798.0,338.9L799.0,338.9L800.0,338.9L801.0,338.9L802.0,338.9L803.0,338.9L804.0,338.9L805.0,338.9L806.0,338.9L807.0,338.9L808.0,338.9L809.0,338.9L810.0,338.9L811.0,338.9L812.0,338.9L813.0,338.9L814.0,338.9L815.0,338.9L816.0,338.9L817.0,338.9L818.0,338.9L819.0,338.9L820.0,338.9L821.0,338.9L822.0,338.9L823.0,338.8L824.0,338.8L825.0,338.8L826.0,338.8L827.0,338.8L828.0,338.8L829.0,338.8L830.0,338.8L831.0,338.8L832.0,338.8L833.0,338.8L834.0,338.8L835.0,338.8L836.0,338.8L837.0,338.8L838.0,338.8L839.0,338.8L840.0,338.8L841.0,338.8L842.0,338.8L843.0,338.8L844.0,338.8L845.0,338.8L846.0,338.8L847.0,338.8L848.0,338.8L849.0,338.8L850.0,338.8L851.0,338.8L852.0,338.8L853.0,338.8L854.0,338.8L855.0,338.8L856.0,338.8L857.0,338.8L858.0,338.8L859.0,338.8L860.0,338.8L861.0,338.8L862.0,338.8L863.0,338.8L864.0,338.8L865.0,338.8L866.0,338.8L867.0,338.8L868.0,338.8L869.0,338.8L870.0,338.8L871.0,338.8L872.0,338.8L873.0,338.8L874.0,338.8L875.0,338.8L876.0,338.8L877.0,338.8L878.0,338.8L879.0,338.8L880.0,338.8L881.0,338.8L882.0,338.8L883.0,338.8L884.0,338.8L885.0,338.8L886.0,338.8L887.0,338.8L888.0,338.8L889.0,338.8L890.0,338.8L891.0,338.8L892.0,338.8L893.0,338.8L894.0,338.8L895.0,338.8L896.0,338.8L897.0,338.8L898.0,338.8L899.0,338.8L900.0,338.8L901.0,338.8L902.0,338.8L903.0,338.8L904.0,338.8L905.0,338.8L906.0,338.8L907.0,338.8L908.0,338.8L909.0,338.8L910.0,338.8L911.0,338.8L912.0,338.8L913.0,338.8L914.0,338.8L915.0,338.8L916.0,338.8L917.0,338.8L918.0,338.8L919.0,338.8L920.0,338.8L921.0,338.8L922.0,338.8L923.0,338.8L924.0,338.8L925.0,338.8L926.0,338.8L927.0,338.8L928.0,338.8L929.0,338.8L930.0,338.8L931.0,338.8L932.0,338.8L933.0,338.8L934.0,338.8L935.0,338.8L936.0,338.8L937.0,338.8L938.0,338.8L939.0,338.8L940.0,338.8L941.0,338.8L942.0,338.8L943.0,338.8L944.0,338.8L945.0,338.8L946.0,338.8L947.0,338.8L948.0,338.8L949.0,338.8L950.0,338.8L951.0,338.8L952.0,338.8L953.0,338.8L954.0,338.8L955.0,338.8L956.0,338.8L957.0,338.8L958.0,338.8L959.0,338.8L960.0,338.8L961.0,338.8L962.0,338.8L963.0,338.8L964.0,338.8L965.0,338.8L966.0,338.8L967.0,338.8L968.0,338.8L969.0,338.8L970.0,338.8L971.0,338.8L972.0,338.8L973.0,338.8L974.0,338.8L975.0,338.8L976.0,338.8L977.0,338.8L978.0,338.8L979.0,338.8L980.0,338.8L981.0,338.8L982.0,338.8L983.0,338.8L984.0,338.8L985.0,338.8L986.0,338.8L987.0,338.8L988.0,338.8L989.0,338.8L990.0,338.8L991.0,338.8L992.0,338.8L993.0,338.8L994.0,338.8L995.0,338.8L996.0,338.8L997.0,338.8L998.0,338.8L999.0,338.8L1000.0,338.8L1001.0,338.8L1002.0,338.8L1003.0,338.8L1004.0,338.8L1005.0,338.8L1006.0,338.8L1007.0,338.8L1008.0,338.8L1009.0,338.8L1010.0,338.8L1011.0,338.8L1012.0,338.8L1013.0,338.8L1014.0,338.8L1015.0,338.8L1016.0,338.8L1017.0,338.8L1018.0,338.8L1019.0,338.8L1020.0,338.8L1021.0,338.8L1022.0,338.8L1023.0,338.8L1024.0,338.8L1025.0,338.8L1026.0,338.8L1027.0,338.8L1028.0,338.8L1029.0,338.8L1030.0,338.8L1031.0,338.8L1032.0,338.8L1033.0,338.8L1034.0,338.8L1035.0,338.8L1036.0,338.8L1037.0,338.8L1038.0,338.8L1039.0,338.8L1040.0,338.8L1041.0,338.8L1042.0,338.8L1043.0,338.8L1044.0,338.8L1045.0,338.8L1046.0,338.8L1047.0,338.8L1048.0,338.8L1049.0,338.8L1050.0,338.8L1051.0,338.8L1052.0,338.8L1053.0,338.8L1054.0,338.8L1055.0,338.8L1056.0,338.8L1057.0,338.8L1058.0,338.8L1059.0,338.8L1060.0,338.8L1061.0,338.8L1062.0,338.8L1063.0,338.8L1064.0,338.8L1065.0,338.8L1066.0,338.8L1067.0,338.8L1068.0,338.8L1069.0,338.8L1070.0,338.8L1071.0,338.8L1072.0,338.8L1073.0,338.8L1074.0,338.8L1075.0,338.8L1076.0,338.8L1077.0,338.8L1078.0,338.8L1079.0,338.8L1080.0,338.8L1081.0,338.8L1082.0,338.8L1083.0,338.8L1084.0,338.8L1085.0,338.8L1086.0,338.8L1087.0,338.8L1088.0,338.8L1089.0,338.8L1090.0,338.8L1091.0,338.8L1092.0,338.8L1093.0,338.8L1094.0,338.8L1095.0,338.8L1096.0,338.8L1097.0,338.8L1098.0,338.8L1099.0,338.8L1100.0,338.8L1101.0,338.8L1102.0,338.8L1103.0,338.8L1104.0,338.8L1105.0,338.8L1106.0,338.8L1107.0,338.8L1108.0,338.8L1109.0,338.8L1110.0,338.8L1111.0,338.8L1112.0,338.8L1113.0,338.8L1114.0,338.8L1115.0,338.8L1116.0,338.8L1117.0,338.8L1118.0,338.8L1119.0,338.8L1120.0,338.8L1121.0,338.8L1122.0,338.8L1123.0,338.8L1124.0,338.8L1125.0,338.8L1126.0,338.8L1127.0,338.8L1128.0,338.8" stroke="#b8dcff"/>
<path d="M99.0,338.7L100.0,338.7L101.0,338.7L102.0,338.7L103.0,338.7L104.0,338.7L105.0,338.7L106.0,338.7L107.0,338.7L108.0,338.7L109.0,338.7L110.0,338.7L111.0,338.7L112.0,338.7L113.0,338.7L114.0,338.7L115.0,338.7L116.0,338.7L117.0,338.7L118.0,338.7L119.0,338.7L120.0,338.7L121.0,338.7L122.0,338.7L123.0,338.7L124.0,338.7L125.0,338.7L126.0,338.7L127.0,338.7L128.0,338.7L129.0,338.7L130.0,338.7L131.0,338.7L132.0,338.7L133.0,338.7L134.0,338.7L135.0,338.7L136.0,338.7L137.0,338.7L138.0,338.7L139.0,338.7L140.0,338.7L141.0,338.7L142.0,338.7L143.0,338.7L144.0,338.7L145.0,338.7L146.0,338.7L147.0,338.7L148.0,338.7L149.0,338.7L150.0,338.7L151.0,338.7L152.0,338.7L153.0,338.7L154.0,338.7L155.0,338.7L156.0,338.7L157.0,338.7L158.0,338.7L159.0,338.7L160.0,338.7L161.0,338.7L162.0,338.7L163.0,338.7L164.0,338.7L165.0,338.7L166.0,338.7L167.0,338.7L168.0,338.7L169.0,338.7L170.0,338.7L171.0,338.7L172.0,338.7L173.0,338.7L174.0,338.7L175.0,338.7L176.0,338.7L177.0,338.7L178.0,338.7L179.0,338.7L180.0,338.7L181.0,338.7L182.0,338.7L183.0,338.7L184.0,338.7L185.0,338.7L186.0,338.7L187.0,338.7L188.0,338.7L189.0,338.7L190.0,338.7L191.0,338.7L192.0,338.7L193.0,338.7L194.0,338.7L195.0,338.7L196.0,338.7L197.0,338.7L198.0,338.7L199.0,338.7L200.0,338.7L201.0,338.7L202.0,338.7L203.0,338.7L204.0,338.7L205.0,338.7L206.0,338.7L207.0,338.7L208.0,338.7L209.0,338.7L210.0,338.7L211.0,338.7L212.0,338.7L213.0,338.7L214.0,338.7L215.0,338.7L216.0,338.7L217.0,338.7L218.0,338.7L219.0,338.7L220.0,338.7L221.0,338.7L222.0,338.7L223.0,338.7L224.0,338.7L225.0,338.7L226.0,338.7L227.0,338.7L228.0,338.7L229.0,338.7L230.0,338.7L231.0,338.7L232.0,338.7L233.0,338.7L234.0,338.7L235.0,338.7L236.0,338.7L237.0,338.7L238.0,338.7L239.0,338.7L240.0,338.7L241.0,338.7L242.0,338.6L243.0,338.6L244.0,338.6L245.0,338.6L246.0,338.6L247.0,338.6L248.0,338.6L249.0,338.6L250.0,338.6L251.0,338.6L252.0,338.6L253.0,338.6L254.0,338.6L255.0,338.6L256.0,338.6L257.0,338.6L258.0,338.6L259.0,338.6L260.0,338.6L261.0,338.6L262.0,338.6L263.0,338.6L264.0,338.6L265.0,338.6L266.0,338.6L267.0,338.6L268.0,338.6L269.0,338.6L270.0,338.6L271.0,338.6L272.0,338.6L273.0,338.6L274.0,338.6L275.0,338.6L276.0,338.6L277.0,338.6L278.0,338.6L279.0,338.6L280.0,338.6L281.0,338.6L282.0,338.6L283.0,338.6L284.0,338.6L285.0,338.6L286.0,338.6L287.0,338.6L288.0,338.6L289.0,338.6L290.0,338.5L291.0,338.5L292.0,338.5L293.0,338.5L294.0,338.5L295.0,338.5L296.0,338.5L297.0,338.5L298.0,338.5L299.0,338.5L300.0,338.5L301.0,338.5L302.0,338.5L303.0,338.5L304.0,338.5L305.0,338.5L306.0,338.5L307.0,338.5L308.0,338.5L309.0,338.5L310.0,338.5L311.0,338.5L312.0,338.5L313.0,338.5L314.0,338.5L315.0,338.5L316.0,338.4L317.0,338.4L318.0,338.4L319.0,338.4L320.0,338.4L321.0,338.4L322.0,338.4L323.0,338.4L324.0,338.4L325.0,338.4L326.0,338.4L327.0,338.4L328.0,338.4L329.0,338.4L330.0,338.4L331.0,338.4L332.0,338.4L333.0,338.4L334.0,338.4L335.0,338.3L336.0,338.3L337.0,338.3L338.0,338.3L339.0,338.3L340.0,338.3L341.0,338.3L342.0,338.3L343.0,338.3L344.0,338.3L345.0,338.3L346.0,338.3L347.0,338.3L348.0,338.2L349.0,338.2L350.0,338.2L351.0,338.2L352.0,338.2L353.0,338.2L354.0,338.2L355.0,338.2L356.0,338.2L357.0,338.2L358.0,338.2L359.0,338.1L360.0,338.1L361.0,338.1L362.0,338.1L363.0,338.1L364.0,338.1L365.0,338.1L366.0,338.1L367.0,338.1L368.0,338.0L369.0,338.0L370.0,338.0L371.0,338.0L372.0,338.0L373.0,338.0L374.0,338.0L375.0,338.0L376.0,337.9L377.0,337.9L378.0,337.9L379.0,337.9L380.0,337.9L381.0,337.9L382.0,337.8L383.0,337.8L384.0,337.8L385.0,337.8L386.0,337.8L387.0,337.8L388.0,337.7L389.0,337.7L390.0,337.7L391.0,337.7L392.0,337.7L393.0,337.6L394.0,337.6L395.0,337.6L396.0,337.6L397.0,337.5L398.0,337.5L399.0,337.5L400.0,337.5L401.0,337.4L402.0,337.4L403.0,337.4L404.0,337.4L405.0,337.3L406.0,337.3L407.0,337.3L408.0,337.2L409.0,337.2L410.0,337.2L411.0,337.1L412.0,337.1L413.0,337.1L414.0,337.0L415.0,337.0L416.0,337.0L417.0,336.9L418.0,336.9L419.0,336.8L420.0,336.8L421.0,336.7L422.0,336.7L423.0,336.7L424.0,336.6L425.0,336.6L426.0,336.5L427.0,336.4L428.0,336.4L429.0,336.3L430.0,336.3L431.0,336.2L432.0,336.1L433.0,336.1L434.0,336.0L435.0,335.9L436.0,335.9L437.0,335.8L438.0,335.7L439.0,335.6L440.0,335.6L441.0,335.5L442.0,335.4L443.0,335.3L444.0,335.2L445.0,335.1L446.0,335.0L447.0,334.9L448.0,334.8L449.0,334.6L450.0,334.5L451.0,334.4L452.0,334.3L453.0,334.1L454.0,334.0L455.0,333.8L456.0,333.7L457.0,333.5L458.0,333.3L459.0,333.2L460.0,333.0L461.0,332.8L462.0,332.6L463.0,332.4L464.0,332.1L465.0,331.9L466.0,331.6L467.0,331.4L468.0,331.1L469.0,330.8L470.0,330.5L471.0,330.2L472.0,329.9L473.0,329.5L474.0,329.1L475.0,328.7L476.0,328.3L477.0,327.9L478.0,327.4L479.0,326.9L480.0,326.4L481.0,325.9L482.0,325.3L483.0,324.6L484.0,324.0L485.0,323.3L486.0,322.5L487.0,321.7L488.0,320.9L489.0,320.0L490.0,319.0L491.0,318.0L492.0,316.9L493.0,315.7L494.0,314.4L495.0,313.1L496.0,311.7L497.0,310.2L498.0,308.6L499.0,306.9L500.0,305.0L501.0,303.1L502.0,301.1L503.0,299.0L504.0,296.8L505.0,294.5L506.0,292.1L507.0,289.6L508.0,287.2L509.0,284.7L510.0,282.3L511.0,280.0L512.0,277.9L513.0,276.0L514.0,274.4L515.0,273.2L516.0,272.3L517.0,272.0L518.0,272.1L519.0,272.6L520.0,273.6L521.0,275.0L522.0,276.7L523.0,278.7L524.0,280.9L525.0,283.3L526.0,285.7L527.0,288.2L528.0,290.6L529.0,293.0L530.0,295.4L531.0,297.7L532.0,299.8L533.0,301.9L534.0,303.9L535.0,305.8L536.0,307.6L537.0,309.2L538.0,310.8L539.0,312.3L540.0,313.7L541.0,315.0L542.0,316.2L543.0,317.3L544.0,318.4L545.0,319.4L546.0,320.3L547.0,321.2L548.0,322.0L549.0,322.8L550.0,323.6L551.0,324.2L552.0,324.9L553.0,325.5L554.0,326.1L555.0,326.6L556.0,327.1L557.0,327.6L558.0,328.1L559.0,328.5L560.0,328.9L561.0,329.3L562.0,329.7L563.0,330.0L564.0,330.3L565.0,330.6L566.0,330.9L567.0,331.2L568.0,331.5L569.0,331.7L570.0,332.0L571.0,332.2L572.0,332.4L573.0,332.7L574.0,332.9L575.0,333.0L576.0,333.2L577.0,333.4L578.0,333.6L579.0,333.7L580.0,333.9L581.0,334.0L582.0,334.2L583.0,334.3L584.0,334.4L585.0,334.6L586.0,334.7L587.0,334.8L588.0,334.9L589.0,335.0L590.0,335.1L591.0,335.2L592.0,335.3L593.0,335.4L594.0,335.5L595.0,335.6L596.0,335.7L597.0,335.8L598.0,335.8L599.0,335.9L600.0,336.0L601.0,336.0L602.0,336.1L603.0,336.2L604.0,336.2L605.0,336.3L606.0,336.4L607.0,336.4L608.0,336.5L609.0,336.5L610.0,336.6L611.0,336.6L612.0,336.7L613.0,336.7L614.0,336.8L615.0,336.8L616.0,336.9L617.0,336.9L618.0,336.9L619.0,337.0L620.0,337.0L621.0,337.1L622.0,337.1L623.0,337.1L624.0,337.2L625.0,337.2L626.0,337.2L627.0,337.3L628.0,337.3L629.0,337.3L630.0,337.3L631.0,337.4L632.0,337.4L633.0,337.4L634.0,337.5L635.0,337.5L636.0,337.5L637.0,337.5L638.0,337.6L639.0,337.6L640.0,337.6L641.0,337.6L642.0,337.6L643.0,337.7L644.0,337.7L645.0,337.7L646.0,337.7L647.0,337.7L648.0,337.8L649.0,337.8L650.0,337.8L651.0,337.8L652.0,337.8L653.0,337.9L654.0,337.9L655.0,337.9L656.0,337.9L657.0,337.9L658.0,337.9L659.0,337.9L660.0,338.0L661.0,338.0L662.0,338.0L663.0,338.0L664.0,338.0L665.0,338.0L666.0,338.0L667.0,338.1L668.0,338.1L669.0,338.1L670.0,338.1L671.0,338.1L672.0,338.1L673.0,338.1L674.0,338.1L675.0,338.1L676.0,338.2L677.0,338.2L678.0,338.2L679.0,338.2L680.0,338.2L681.0,338.2L682.0,338.2L683.0,338.2L684.0,338.2L685.0,338.2L686.0,338.2L687.0,338.3L688.0,338.3L689.0,338.3L690.0,338.3L691.0,338.3L692.0,338.3L693.0,338.3L694.0,338.3L695.0,338.3L696.0,338.3L697.0,338.3L698.0,338.3L699.0,338.3L700.0,338.3L701.0,338.4L702.0,338.4L703.0,338.4L704.0,338.4L705.0,338.4L706.0,338.4L707.0,338.4L708.0,338.4L709.0,338.4L710.0,338.4L711.0,338.4L712.0,338.4L713.0,338.4L714.0,338.4L715.0,338.4L716.0,338.4L717.0,338.4L718.0,338.4L719.0,338.5L720.0,338.5L721.0,338.5L722.0,338.5L723.0,338.5L724.0,338.5L725.0,338.5L726.0,338.5L727.0,338.5L728.0,338.5L729.0,338.5L730.0,338.5L731.0,338.5L732.0,338.5L733.0,338.5L734.0,338.5L735.0,338.5L736.0,338.5L737.0,338.5L738.0,338.5L739.0,338.5L740.0,338.5L741.0,338.5L742.0,338.5L743.0,338.5L744.0,338.5L745.0,338.6L746.0,338.6L747.0,338.6L748.0,338.6L749.0,338.6L750.0,338.6L751.0,338.6L752.0,338.6L753.0,338.6L754.0,338.6L755.0,338.6L756.0,338.6L757.0,338.6L758.0,338.6L759.0,338.6L760.0,338.6L761.0,338.6L762.0,338.6L763.0,338.6L764.0,338.6L765.0,338.6L766.0,338.6L767.0,338.6L768.0,338.6L769.0,338.6L770.0,338.6L771.0,338.6L772.0,338.6L773.0,338.6L774.0,338.6L775.0,338.6L776.0,338.6L777.0,338.6L778.0,338.6L779.0,338.6L780.0,338.6L781.0,338.6L782.0,338.6L783.0,338.6L784.0,338.6L785.0,338.6L786.0,338.6L787.0,338.6L788.0,338.6L789.0,338.6L790.0,338.6L791.0,338.6L792.0,338.7L793.0,338.7L794.0,338.7L795.0,338.7L796.0,338.7L797.0,338.7L798.0,338.7L799.0,338.7L800.0,338.7L801.0,338.7L802.0,338.7L803.0,338.7L804.0,338.7L805.0,338.7L806.0,338.7L807.0,338.7L808.0,338.7L809.0,338.7L810.0,338.7L811.0,338.7L812.0,338.7L813.0,338.7L814.0,338.7L815.0,338.7L816.0,338.7L817.0,338.7L818.0,338.7L819.0,338.7L820.0,338.7L821.0,338.7L822.0,338.7L823.0,338.7L824.0,338.7L825.0,338.7L826.0,338.7L827.0,338.7L828.0,338.7L829.0,338.7L830.0,338.7L831.0,338.7L832.0,338.7L833.0,338.7L834.0,338.7L835.0,338.7L836.0,338.7L837.0,338.7L838.0,338.7L839.0,338.7L840.0,338.7L841.0,338.7L842.0,338.7L843.0,338.7L844.0,338.7L845.0,338.7L846.0,338.7L847.0,338.7L848.0,338.7L849.0,338.7L850.0,338.7L851.0,338.7L852.0,338.7L853.0,338.7L854.0,338.7L855.0,338.7L856.0,338.7L857.0,338.7L858.0,338.7L859.0,338.7L860.0,338.7L861.0,338.7L862.0,338.7L863.0,338.7L864.0,338.7L865.0,338.7L866.0,338.7L867.0,338.7L868.0,338.7L869.0,338.7L870.0,338.7L871.0,338.7L872.0,338.7L873.0,338.7L874.0,338.7L875.0,338.7L876.0,338.7L877.0,338.7L878.0,338.7L879.0,338.7L880.0,338.7L881.0,338.7L882.0,338.7L883.0,338.7L884.0,338.7L885.0,338.7L886.0,338.7L887.0,338.7L888.0,338.7L889.0,338.7L890.0,338.7L891.0,338.7L892.0,338.7L893.0,338.7L894.0,338.7L895.0,338.7L896.0,338.7L897.0,338.7L898.0,338.7L899.0,338.7L900.0,338.7L901.0,338.7L902.0,338.7L903.0,338.7L904.0,338.7L905.0,338.7L906.0,338.7L907.0,338.7L908.0,338.7L909.0,338.7L910.0,338.7L911.0,338.7L912.0,338.7L913.0,338.7L914.0,338.7L915.0,338.7L916.0,338.7L917.0,338.7L918.0,338.7L919.0,338.7L920.0,338.7L921.0,338.7L922.0,338.7L923.0,338.7L924.0,338.7L925.0,338.7L926.0,338.7L927.0,338.7L928.0,338.7L929.0,338.7L930.0,338.7L931.0,338.7L932.0,338.7L933.0,338.7L934.0,338.7L935.0,338.7L936.0,338.7L937.0,338.7L938.0,338.7L939.0,338.7L940.0,338.7L941.0,338.7L942.0,338.7L943.0,338.7L944.0,338.7L945.0,338.7L946.0,338.7L947.0,338.7L948.0,338.7L949.0,338.7L950.0,338.7L951.0,338.7L952.0,338.7L953.0,338.7L954.0,338.7L955.0,338.7L956.0,338.7L957.0,338.7L958.0,338.7L959.0,338.7L960.0,338.7L961.0,338.7L962.0,338.7L963.0,338.7L964.0,338.7L965.0,338.7L966.0,338.7L967.0,338.7L968.0,338.7L969.0,338.7L970.0,338.7L971.0,338.7L972.0,338.7L973.0,338.7L974.0,338.7L975.0,338.7L976.0,338.7L977.0,338.7L978.0,338.7L979.0,338.7L980.0,338.7L981.0,338.7L982.0,338.7L983.0,338.7L984.0,338.7L985.0,338.7L986.0,338.7L987.0,338.7L988.0,338.7L989.0,338.7L990.0,338.7L991.0,338.7L992.0,338.7L993.0,338.7L994.0,338.7L995.0,338.7L996.0,338.7L997.0,338.7L998.0,338.7L999.0,338.7L1000.0,338.7L1001.0,338.7L1002.0,338.7L1003.0,338.7L1004.0,338.7L1005.0,338.7L1006.0,338.7L1007.0,338.7L1008.0,338.7L1009.0,338.7L1010.0,338.7L1011.0,338.7L1012.0,338.7L1013.0,338.7L1014.0,338.7L1015.0,338.7L1016.0,338.7L1017.0,338.7L1018.0,338.7L1019.0,338.7L1020.0,338.7L1021.0,338.7L1022.0,338.7L1023.0,338.7L1024.0,338.7L1025.0,338.7L1026.0,338.7L1027.0,338.7L1028.0,338.7L1029.0,338.7L1030.0,338.7L1031.0,338.7L1032.0,338.7L1033.0,338.7L1034.0,338.7L1035.0,338.7L1036.0,338.7L1037.0,338.7L1038.0,338.7L1039.0,338.7L1040.0,338.7L1041.0,338.7L1042.0,338.7L1043.0,338.7L1044.0,338.7L1045.0,338.7L1046.0,338.7L1047.0,338.7L1048.0,338.7L1049.0,338.7L1050.0,338.7L1051.0,338.7L1052.0,338.7L1053.0,338.7L1054.0,338.7L1055.0,338.7L1056.0,338.7L1057.0,338.7L1058.0,338.7L1059.0,338.7L1060.0,338.7L1061.0,338.7L1062.0,338.7L1063.0,338.7L1064.0,338.7L1065.0,338.7L1066.0,338.7L1067.0,338.7L1068.0,338.7L1069.0,338.7L1070.0,338.7L1071.0,338.7L1072.0,338.7L1073.0,338.7L1074.0,338.7L1075.0,338.7L1076.0,338.7L1077.0,338.7L1078.0,338.7L1079.0,338.7L1080.0,338.7L1081.0,338.7L1082.0,338.7L1083.0,338.7L1084.0,338.7L1085.0,338.7L1086.0,338.7L1087.0,338.7L1088.0,338.7L1089.0,338.7L1090.0,338.7L1091.0,338.7L1092.0,338.7L1093.0,338.7L1094.0,338.7L1095.0,338.7L1096.0,338.7L1097.0,338.7L1098.0,338.7L1099.0,338.7L1100.0,338.7L1101.0,338.7L1102.0,338.7L1103.0,338.7L1104.0,338.7L1105.0,338.7L1106.0,338.7L1107.0,338.7L1108.0,338.7L1109.0,338.7L1110.0,338.7L1111.0,338.7L1112.0,338.7L1113.0,338.7L1114.0,338.7L1115.0,338.7L1116.0,338.7L1117.0,338.7L1118.0,338.7L1119.0,338.7L1120.0,338.7L1121.0,338.7L1122.0,338.7L1123.0,338.7L1124.0,338.7L1125.0,338.7L1126.0,338.7L1127.0,338.7L1128.0,338.7" stroke="#ff69b4"/>
<path d="M99.0,338.8L100.0,338.8L101.0,338.8L102.0,338.8L103.0,338.8L104.0,338.8L105.0,338.8L106.0,338.8L107.0,338.8L108.0,338.8L109.0,338.8L110.0,338.8L111.0,338.8L112.0,338.8L113.0,338.8L114.0,338.8L115.0,338.8L116.0,338.8L117.0,338.8L118.0,338.8L119.0,338.8L120.0,338.8L121.0,338.8L122.0,338.8L123.0,338.8L124.0,338.8L125.0,338.8L126.0,338.8L127.0,338.8L128.0,338.8L129.0,338.8L130.0,338.8L131.0,338.8L132.0,338.8L133.0,338.8L134.0,338.8L135.0,338.8L136.0,338.8L137.0,338.8L138.0,338.8L139.0,338.8L140.0,338.8L141.0,338.8L142.0,338.8L143.0,338.8L144.0,338.8L145.0,338.8L146.0,338.8L147.0,338.8L148.0,338.8L149.0,338.8L150.0,338.8L151.0,338.8L152.0,338.8L153.0,338.8L154.0,338.8L155.0,338.8L156.0,338.8L157.0,338.8L158.0,338.8L159.0,338.8L160.0,338.8L161.0,338.8L162.0,338.8L163.0,338.8L164.0,338.8L165.0,338.8L166.0,338.8L167.0,338.8L168.0,338.8L169.0,338.8L170.0,338.8L171.0,338.8L172.0,338.8L173.0,338.8L174.0,338.8L175.0,338.8L176.0,338.8L177.0,338.8L178.0,338.8L179.0,338.8L180.0,338.8L181.0,338.8L182.0,338.8L183.0,338.8L184.0,338.8L185.0,338.8L186.0,338.8L187.0,338.8L188.0,338.8L189.0,338.8L190.0,338.8L191.0,338.8L192.0,338.8L193.0,338.8L194.0,338.8L195.0,338.8L196.0,338.8L197.0,338.8L198.0,338.8L199.0,338.8L200.0,338.8L201.0,338.8L202.0,338.8L203.0,338.8L204.0,338.8L205.0,338.8L206.0,338.8L207.0,338.8L208.0,338.8L209.0,338.8L210.0,338.8L211.0,338.8L212.0,338.8L213.0,338.8L214.0,338.8L215.0,338.8L216.0,338.8L217.0,338.8L218.0,338.8L219.0,338.8L220.0,338.8L221.0,338.8L222.0,338.8L223.0,338.8L224.0,338.8L225.0,338.8L226.0,338.8L227.0,338.8L228.0,338.8L229.0,338.8L230.0,338.8L231.0,338.8L232.0,338.8L233.0,338.8L234.0,338.8L235.0,338.8L236.0,338.8L237.0,338.8L238.0,338.8L239.0,338.8L240.0,338.8L241.0,338.8L242.0,338.8L243.0,338.8L244.0,338.8L245.0,338.8L246.0,338.8L247.0,338.8L248.0,338.8L249.0,338.8L250.0,338.8L251.0,338.8L252.0,338.8L253.0,338.8L254.0,338.8L255.0,338.8L256.0,338.8L257.0,338.8L258.0,338.8L259.0,338.8L260.0,338.8L261.0,338.8L262.0,338.8L263.0,338.8L264.0,338.8L265.0,338.8L266.0,338.8L267.0,338.8L268.0,338.8L269.0,338.8L270.0,338.8L271.0,338.8L272.0,338.8L273.0,338.8L274.0,338.8L275.0,338.8L276.0,338.8L277.0,338.8L278.0,338.8L279.0,338.8L280.0,338.8L281.0,338.8L282.0,338.8L283.0,338.8L284.0,338.8L285.0,338.8L286.0,338.8L287.0,338.8L288.0,338.8L289.0,338.8L290.0,338.8L291.0,338.8L292.0,338.8L293.0,338.8L294.0,338.8L295.0,338.8L296.0,338.8L297.0,338.8L298.0,338.8L299.0,338.8L300.0,338.8L301.0,338.8L302.0,338.8L303.0,338.8L304.0,338.9L305.0,338.9L306.0,338.9L307.0,338.9L308.0,338.9L309.0,338.9L310.0,338.9L311.0,338.9L312.0,338.9L313.0,338.9L314.0,338.9L315.0,338.9L316.0,338.9L317.0,338.9L318.0,338.9L319.0,338.9L320.0,338.9L321.0,338.9L322.0,338.9L323.0,338.9L324.0,338.9L325.0,338.9L326.0,338.9L327.0,338.9L328.0,338.9L329.0,338.9L330.0,338.9L331.0,338.9L332.0,338.9L333.0,338.9L334.0,338.9L335.0,338.9L336.0,338.9L337.0,338.9L338.0,338.9L339.0,338.9L340.0,338.9L341.0,338.9L342.0,338.9L343.0,338.9L344.0,338.9L345.0,338.9L346.0,338.9L347.0,338.9L348.0,338.9L349.0,338.9L350.0,339.0L351.0,339.0L352.0,339.0L353.0,339.0L354.0,339.0L355.0,339.0L356.0,339.0L357.0,339.0L358.0,339.0L359.0,339.0L360.0,339.0L361.0,339.0L362.0,339.0L363.0,339.0L364.0,339.0L365.0,339.0L366.0,339.0L367.0,339.0L368.0,339.0L369.0,339.0L370.0,339.0L371.0,339.0L372.0,339.0L373.0,339.0L374.0,339.0L375.0,339.1L376.0,339.1L377.0,339.1L378.0,339.1L379.0,339.1L380.0,339.1L381.0,339.1L382.0,339.1L383.0,339.1L384.0,339.1L385.0,339.1L386.0,339.1L387.0,339.1L388.0,339.1L389.0,339.1L390.0,339.1L391.0,339.1L392.0,339.1L393.0,339.2L394.0,339.2L395.0,339.2L396.0,339.2L397.0,339.2L398.0,339.2L399.0,339.2L400.0,339.2L401.0,339.2L402.0,339.2L403.0,339.2L404.0,339.2L405.0,339.3L406.0,339.3L407.0,339.3L408.0,339.3L409.0,339.3L410.0,339.3L411.0,339.3L412.0,339.3L413.0,339.3L414.0,339.3L415.0,339.4L416.0,339.4L417.0,339.4L418.0,339.4L419.0,339.4L420.0,339.4L421.0,339.4L422.0,339.4L423.0,339.5L424.0,339.5L425.0,339.5L426.0,339.5L427.0,339.5L428.0,339.5L429.0,339.5L430.0,339.6L431.0,339.6L432.0,339.6L433.0,339.6L434.0,339.6L435.0,339.6L436.0,339.7L437.0,339.7L438.0,339.7L439.0,339.7L440.0,339.7L441.0,339.8L442.0,339.8L443.0,339.8L444.0,339.8L445.0,339.9L446.0,339.9L447.0,339.9L448.0,339.9L449.0,340.0L450.0,340.0L451.0,340.0L452.0,340.1L453.0,340.1L454.0,340.1L455.0,340.2L456.0,340.2L457.0,340.2L458.0,340.3L459.0,340.3L460.0,340.3L461.0,340.4L462.0,340.4L463.0,340.5L464.0,340.5L465.0,340.5L466.0,340.6L467.0,340.6L468.0,340.7L469.0,340.7L470.0,340.8L471.0,340.9L472.0,340.9L473.0,341.0L474.0,341.0L475.0,341.1L476.0,341.2L477.0,341.3L478.0,341.3L479.0,341.4L480.0,341.5L481.0,341.6L482.0,341.7L483.0,341.7L484.0,341.8L485.0,341.9L486.0,342.1L487.0,342.2L488.0,342.3L489.0,342.4L490.0,342.5L491.0,342.7L492.0,342.8L493.0,342.9L494.0,343.1L495.0,343.3L496.0,343.4L497.0,343.6L498.0,343.8L499.0,344.0L500.0,344.2L501.0,344.4L502.0,344.7L503.0,344.9L504.0,345.2L505.0,345.4L506.0,345.7L507.0,346.1L508.0,346.4L509.0,346.7L510.0,347.1L511.0,347.5L512.0,348.0L513.0,348.4L514.0,348.9L515.0,349.4L516.0,350.0L517.0,350.6L518.0,351.3L519.0,352.0L520.0,352.7L521.0,353.6L522.0,354.4L523.0,355.4L524.0,356.4L525.0,357.5L526.0,358.7L527.0,360.0L528.0,361.4L529.0,362.9L530.0,364.6L531.0,366.3L532.0,368.2L533.0,370.2L534.0,372.4L535.0,374.7L536.0,377.1L537.0,379.7L538.0,382.3L539.0,385.0L540.0,387.7L541.0,390.3L542.0,392.8L543.0,395.1L544.0,397.0L545.0,398.4L546.0,399.4L547.0,399.7L548.0,399.5L549.0,398.7L550.0,397.3L551.0,395.5L552.0,393.3L553.0,390.8L554.0,388.2L555.0,385.5L556.0,382.8L557.0,380.2L558.0,377.6L559.0,375.2L560.0,372.8L561.0,370.7L562.0,368.6L563.0,366.7L564.0,364.9L565.0,363.2L566.0,361.7L567.0,360.3L568.0,359.0L569.0,357.7L570.0,356.6L571.0,355.6L572.0,354.6L573.0,353.7L574.0,352.9L575.0,352.1L576.0,351.4L577.0,350.7L578.0,350.1L579.0,349.6L580.0,349.0L581.0,348.5L582.0,348.0L583.0,347.6L584.0,347.2L585.0,346.8L586.0,346.5L587.0,346.1L588.0,345.8L589.0,345.5L590.0,345.2L591.0,345.0L592.0,344.7L593.0,344.5L594.0,344.2L595.0,344.0L596.0,343.8L597.0,343.6L598.0,343.5L599.0,343.3L600.0,343.1L601.0,343.0L602.0,342.8L603.0,342.7L604.0,342.5L605.0,342.4L606.0,342.3L607.0,342.2L608.0,342.1L609.0,342.0L610.0,341.9L611.0,341.8L612.0,341.7L613.0,341.6L614.0,341.5L615.0,341.4L616.0,341.3L617.0,341.3L618.0,341.2L619.0,341.1L620.0,341.1L621.0,341.0L622.0,340.9L623.0,340.9L624.0,340.8L625.0,340.8L626.0,340.7L627.0,340.7L628.0,340.6L629.0,340.6L630.0,340.5L631.0,340.5L632.0,340.4L633.0,340.4L634.0,340.3L635.0,340.3L636.0,340.3L637.0,340.2L638.0,340.2L639.0,340.2L640.0,340.1L641.0,340.1L642.0,340.1L643.0,340.0L644.0,340.0L645.0,340.0L646.0,339.9L647.0,339.9L648.0,339.9L649.0,339.9L650.0,339.8L651.0,339.8L652.0,339.8L653.0,339.8L654.0,339.8L655.0,339.7L656.0,339.7L657.0,339.7L658.0,339.7L659.0,339.6L660.0,339.6L661.0,339.6L662.0,339.6L663.0,339.6L664.0,339.6L665.0,339.5L666.0,339.5L667.0,339.5L668.0,339.5L669.0,339.5L670.0,339.5L671.0,339.5L672.0,339.4L673.0,339.4L674.0,339.4L675.0,339.4L676.0,339.4L677.0,339.4L678.0,339.4L679.0,339.4L680.0,339.3L681.0,339.3L682.0,339.3L683.0,339.3L684.0,339.3L685.0,339.3L686.0,339.3L687.0,339.3L688.0,339.3L689.0,339.3L690.0,339.2L691.0,339.2L692.0,339.2L693.0,339.2L694.0,339.2L695.0,339.2L696.0,339.2L697.0,339.2L698.0,339.2L699.0,339.2L700.0,339.2L701.0,339.2L702.0,339.1L703.0,339.1L704.0,339.1L705.0,339.1L706.0,339.1L707.0,339.1L708.0,339.1L709.0,339.1L710.0,339.1L711.0,339.1L712.0,339.1L713.0,339.1L714.0,339.1L715.0,339.1L716.0,339.1L717.0,339.1L718.0,339.1L719.0,339.0L720.0,339.0L721.0,339.0L722.0,339.0L723.0,339.0L724.0,339.0L725.0,339.0L726.0,339.0L727.0,339.0L728.0,339.0L729.0,339.0L730.0,339.0L731.0,339.0L732.0,339.0L733.0,339.0L734.0,339.0L735.0,339.0L736.0,339.0L737.0,339.0L738.0,339.0L739.0,339.0L740.0,339.0L741.0,339.0L742.0,339.0L743.0,339.0L744.0,339.0L745.0,338.9L746.0,338.9L747.0,338.9L748.0,338.9L749.0,338.9L750.0,338.9L751.0,338.9L752.0,338.9L753.0,338.9L754.0,338.9L755.0,338.9L756.0,338.9L757.0,338.9L758.0,338.9L759.0,338.9L760.0,338.9L761.0,338.9L762.0,338.9L763.0,338.9L764.0,338.9L765.0,338.9L766.0,338.9L767.0,338.9L768.0,338.9L769.0,338.9L770.0,338.9L771.0,338.9L772.0,338.9L773.0,338.9L774.0,338.9L775.0,338.9L776.0,338.9L777.0,338.9L778.0,338.9L779.0,338.9L780.0,338.9L781.0,338.9L782.0,338.9L783.0,338.9L784.0,338.9L785.0,338.9L786.0,338.9L787.0,338.9L788.0,338.9L789.0,338.9L790.0,338.8L791.0,338.8L792.0,338.8L793.0,338.8L794.0,338.8L795.0,338.8L796.0,338.8L797.0,338.8L798.0,338.8L799.0,338.8L800.0,338.8L801.0,338.8L802.0,338.8L803.0,338.8L804.0,338.8L805.0,338.8L806.0,338.8L807.0,338.8L808.0,338.8L809.0,338.8L810.0,338.8L811.0,338.8L812.0,338.8L813.0,338.8L814.0,338.8L815.0,338.8L816.0,338.8L817.0,338.8L818.0,338.8L819.0,338.8L820.0,338.8L821.0,338.8L822.0,338.8L823.0,338.8L824.0,338.8L825.0,338.8L826.0,338.8L827.0,338.8L828.0,338.8L829.0,338.8L830.0,338.8L831.0,338.8L832.0,338.8L833.0,338.8L834.0,338.8L835.0,338.8L836.0,338.8L837.0,338.8L838.0,338.8L839.0,338.8L840.0,338.8L841.0,338.8L842.0,338.8L843.0,338.8L844.0,338.8L845.0,338.8L846.0,338.8L847.0,338.8L848.0,338.8L849.0,338.8L850.0,338.8L851.0,338.8L852.0,338.8L853.0,338.8L854.0,338.8L855.0,338.8L856.0,338.8L857.0,338.8L858.0,338.8L859.0,338.8L860.0,338.8L861.0,338.8L862.0,338.8L863.0,338.8L864.0,338.8L865.0,338.8L866.0,338.8L867.0,338.8L868.0,338.8L869.0,338.8L870.0,338.8L871.0,338.8L872.0,338.8L873.0,338.8L874.0,338.8L875.0,338.8L876.0,338.8L877.0,338.8L878.0,338.8L879.0,338.8L880.0,338.8L881.0,338.8L882.0,338.8L883.0,338.8L884.0,338.8L885.0,338.8L886.0,338.8L887.0,338.8L888.0,338.8L889.0,338.8L890.0,338.8L891.0,338.8L892.0,338.8L893.0,338.8L894.0,338.8L895.0,338.8L896.0,338.8L897.0,338.8L898.0,338.8L899.0,338.8L900.0,338.8L901.0,338.8L902.0,338.8L903.0,338.8L904.0,338.8L905.0,338.8L906.0,338.8L907.0,338.8L908.0,338.8L909.0,338.8L910.0,338.8L911.0,338.8L912.0,338.8L913.0,338.8L914.0,338.8L915.0,338.8L916.0,338.8L917.0,338.8L918.0,338.8L919.0,338.8L920.0,338.8L921.0,338.8L922.0,338.8L923.0,338.8L924.0,338.8L925.0,338.8L926.0,338.8L927.0,338.8L928.0,338.8L929.0,338.8L930.0,338.8L931.0,338.8L932.0,338.8L933.0,338.8L934.0,338.8L935.0,338.8L936.0,338.8L937.0,338.8L938.0,338.8L939.0,338.8L940.0,338.8L941.0,338.8L942.0,338.8L943.0,338.8L944.0,338.8L945.0,338.8L946.0,338.8L947.0,338.8L948.0,338.8L949.0,338.8L950.0,338.8L951.0,338.8L952.0,338.8L953.0,338.8L954.0,338.8L955.0,338.8L956.0,338.8L957.0,338.8L958.0,338.8L959.0,338.8L960.0,338.8L961.0,338.8L962.0,338.8L963.0,338.8L964.0,338.8L965.0,338.8L966.0,338.8L967.0,338.8L968.0,338.8L969.0,338.8L970.0,338.8L971.0,338.8L972.0,338.8L973.0,338.8L974.0,338.8L975.0,338.8L976.0,338.8L977.0,338.8L978.0,338.8L979.0,338.8L980.0,338.8L981.0,338.8L982.0,338.8L983.0,338.8L984.0,338.8L985.0,338.8L986.0,338.8L987.0,338.8L988.0,338.8L989.0,338.8L990.0,338.8L991.0,338.8L992.0,338.8L993.0,338.8L994.0,338.8L995.0,338.8L996.0,338.8L997.0,338.8L998.0,338.8L999.0,338.8L1000.0,338.8L1001.0,338.8L1002.0,338.8L1003.0,338.8L1004.0,338.8L1005.0,338.8L1006.0,338.8L1007.0,338.8L1008.0,338.8L1009.0,338.8L1010.0,338.8L1011.0,338.8L1012.0,338.8L1013.0,338.8L1014.0,338.8L1015.0,338.8L1016.0,338.8L1017.0,338.8L1018.0,338.8L1019.0,338.8L1020.0,338.8L1021.0,338.8L1022.0,338.8L1023.0,338.8L1024.0,338.8L1025.0,338.8L1026.0,338.8L1027.0,338.8L1028.0,338.8L1029.0,338.8L1030.0,338.8L1031.0,338.8L1032.0,338.8L1033.0,338.8L1034.0,338.8L1035.0,338.8L1036.0,338.8L1037.0,338.8L1038.0,338.8L1039.0,338.8L1040.0,338.8L1041.0,338.8L1042.0,338.8L1043.0,338.8L1044.0,338.8L1045.0,338.8L1046.0,338.8L1047.0,338.8L1048.0,338.8L1049.0,338.8L1050.0,338.8L1051.0,338.8L1052.0,338.8L1053.0,338.8L1054.0,338.8L1055.0,338.8L1056.0,338.8L1057.0,338.8L1058.0,338.8L1059.0,338.8L1060.0,338.8L1061.0,338.8L1062.0,338.8L1063.0,338.8L1064.0,338.8L1065.0,338.8L1066.0,338.8L1067.0,338.8L1068.0,338.8L1069.0,338.8L1070.0,338.8L1071.0,338.8L1072.0,338.8L1073.0,338.8L1074.0,338.8L1075.0,338.8L1076.0,338.8L1077.0,338.8L1078.0,338.8L1079.0,338.8L1080.0,338.8L1081.0,338.8L1082.0,338.8L1083.0,338.8L1084.0,338.8L1085.0,338.8L1086.0,338.8L1087.0,338.8L1088.0,338.8L1089.0,338.8L1090.0,338.8L1091.0,338.8L1092.0,338.8L1093.0,338.8L1094.0,338.8L1095.0,338.8L1096.0,338.8L1097.0,338.8L1098.0,338.8L1099.0,338.8L1100.0,338.8L1101.0,338.8L1102.0,338.8L1103.0,338.8L1104.0,338.8L1105.0,338.8L1106.0,338.8L1107.0,338.8L1108.0,338.8L1109.0,338.8L1110.0,338.8L1111.0,338.8L1112.0,338.8L1113.0,338.8L1114.0,338.8L1115.0,338.8L1116.0,338.8L1117.0,338.8L1118.0,338.8L1119.0,338.8L1120.0,338.8L1121.0,338.8L1122.0,338.8L1123.0,338.8L1124.0,338.8L1125.0,338.8L1126.0,338.8L1127.0,338.8L1128.0,338.8" stroke="#8b0000"/>
<path d="M99.0,338.7L100.0,338.7L101.0,338.7L102.0,338.7L103.0,338.7L104.0,338.7L105.0,338.7L106.0,338.7L107.0,338.7L108.0,338.7L109.0,338.7L110.0,338.7L111.0,338.7L112.0,338.7L113.0,338.7L114.0,338.7L115.0,338.7L116.0,338.7L117.0,338.7L118.0,338.7L119.0,338.7L120.0,338.7L121.0,338.7L122.0,338.7L123.0,338.7L124.0,338.7L125.0,338.7L126.0,338.7L127.0,338.7L128.0,338.7L129.0,338.7L130.0,338.7L131.0,338.7L132.0,338.7L133.0,338.7L134.0,338.7L135.0,338.7L136.0,338.7L137.0,338.7L138.0,338.7L139.0,338.7L140.0,338.7L141.0,338.7L142.0,338.7L143.0,338.7L144.0,338.7L145.0,338.7L146.0,338.7L147.0,338.7L148.0,338.7L149.0,338.7L150.0,338.7L151.0,338.7L152.0,338.7L153.0,338.7L154.0,338.7L155.0,338.7L156.0,338.7L157.0,338.7L158.0,338.7L159.0,338.7L160.0,338.7L161.0,338.7L162.0,338.7L163.0,338.7L164.0,338.7L165.0,338.7L166.0,338.7L167.0,338.7L168.0,338.7L169.0,338.7L170.0,338.7L171.0,338.7L172.0,338.7L173.0,338.7L174.0,338.7L175.0,338.7L176.0,338.7L177.0,338.7L178.0,338.7L179.0,338.7L180.0,338.7L181.0,338.7L182.0,338.7L183.0,338.7L184.0,338.7L185.0,338.7L186.0,338.7L187.0,338.7L188.0,338.7L189.0,338.7L190.0,338.7L191.0,338.7L192.0,338.7L193.0,338.7L194.0,338.7L195.0,338.7L196.0,338.7L197.0,338.7L198.0,338.7L199.0,338.7L200.0,338.7L201.0,338.7L202.0,338.7L203.0,338.7L204.0,338.6L205.0,338.6L206.0,338.6L207.0,338.6L208.0,338.6L209.0,338.6L210.0,338.6L211.0,338.6L212.0,338.6L213.0,338.6L214.0,338.6L215.0,338.6L216.0,338.6L217.0,338.6L218.0,338.6L219.0,338.6L220.0,338.6L221.0,338.6L222.0,338.6L223.0,338.6L224.0,338.6L225.0,338.6L226.0,338.6L227.0,338.6L228.0,338.6L229.0,338.6L230.0,338.6L231.0,338.6L232.0,338.6L233.0,338.6L234.0,338.6L235.0,338.6L236.0,338.6L237.0,338.6L238.0,338.6L239.0,338.6L240.0,338.6L241.0,338.6L242.0,338.6L243.0,338.6L244.0,338.6L245.0,338.6L246.0,338.6L247.0,338.6L248.0,338.6L249.0,338.6L250.0,338.6L251.0,338.6L252.0,338.6L253.0,338.6L254.0,338.6L255.0,338.5L256.0,338.5L257.0,338.5L258.0,338.5L259.0,338.5L260.0,338.5L261.0,338.5L262.0,338.5L263.0,338.5L264.0,338.5L265.0,338.5L266.0,338.5L267.0,338.5L268.0,338.5L269.0,338.5L270.0,338.5L271.0,338.5L272.0,338.5L273.0,338.5L274.0,338.5L275.0,338.5L276.0,338.5L277.0,338.5L278.0,338.5L279.0,338.5L280.0,338.5L281.0,338.5L282.0,338.5L283.0,338.5L284.0,338.4L285.0,338.4L286.0,338.4L287.0,338.4L288.0,338.4L289.0,338.4L290.0,338.4L291.0,338.4L292.0,338.4L293.0,338.4L294.0,338.4L295.0,338.4L296.0,338.4L297.0,338.4L298.0,338.4L299.0,338.4L300.0,338.4L301.0,338.4L302.0,338.4L303.0,338.4L304.0,338.4L305.0,338.3L306.0,338.3L307.0,338.3L308.0,338.3L309.0,338.3L310.0,338.3L311.0,338.3L312.0,338.3L313.0,338.3L314.0,338.3L315.0,338.3L316.0,338.3L317.0,338.3L318.0,338.3L319.0,338.3L320.0,338.3L321.0,338.2L322.0,338.2L323.0,338.2L324.0,338.2L325.0,338.2L326.0,338.2L327.0,338.2L328.0,338.2L329.0,338.2L330.0,338.2L331.0,338.2L332.0,338.2L333.0,338.2L334.0,338.2L335.0,338.1L336.0,338.1L337.0,338.1L338.0,338.1L339.0,338.1L340.0,338.1L341.0,338.1L342.0,338.1L343.0,338.1L344.0,338.1L345.0,338.1L346.0,338.0L347.0,338.0L348.0,338.0L349.0,338.0L350.0,338.0L351.0,338.0L352.0,338.0L353.0,338.0L354.0,338.0L355.0,337.9L356.0,337.9L357.0,337.9L358.0,337.9L359.0,337.9L360.0,337.9L361.0,337.9L362.0,337.9L363.0,337.9L364.0,337.8L365.0,337.8L366.0,337.8L367.0,337.8L368.0,337.8L369.0,337.8L370.0,337.8L371.0,337.7L372.0,337.7L373.0,337.7L374.0,337.7L375.0,337.7L376.0,337.7L377.0,337.7L378.0,337.6L379.0,337.6L380.0,337.6L381.0,337.6L382.0,337.6L383.0,337.6L384.0,337.5L385.0,337.5L386.0,337.5L387.0,337.5L388.0,337.5L389.0,337.5L390.0,337.4L391.0,337.4L392.0,337.4L393.0,337.4L394.0,337.4L395.0,337.3L396.0,337.3L397.0,337.3L398.0,337.3L399.0,337.3L400.0,337.2L401.0,337.2L402.0,337.2L403.0,337.2L404.0,337.2L405.0,337.1L406.0,337.1L407.0,337.1L408.0,337.1L409.0,337.0L410.0,337.0L411.0,337.0L412.0,337.0L413.0,336.9L414.0,336.9L415.0,336.9L416.0,336.9L417.0,336.8L418.0,336.8L419.0,336.8L420.0,336.8L421.0,336.7L422.0,336.7L423.0,336.7L424.0,336.6L425.0,336.6L426.0,336.6L427.0,336.5L428.0,336.5L429.0,336.5L430.0,336.4L431.0,336.4L432.0,336.4L433.0,336.3L434.0,336.3L435.0,336.3L436.0,336.2L437.0,336.2L438.0,336.2L439.0,336.1L440.0,336.1L441.0,336.1L442.0,336.0L443.0,336.0L444.0,335.9L445.0,335.9L446.0,335.9L447.0,335.8L448.0,335.8L449.0,335.7L450.0,335.7L451.0,335.6L452.0,335.6L453.0,335.5L454.0,335.5L455.0,335.4L456.0,335.4L457.0,335.4L458.0,335.3L459.0,335.3L460.0,335.2L461.0,335.1L462.0,335.1L463.0,335.0L464.0,335.0L465.0,334.9L466.0,334.9L467.0,334.8L468.0,334.8L469.0,334.7L470.0,334.6L471.0,334.6L472.0,334.5L473.0,334.5L474.0,334.4L475.0,334.3L476.0,334.3L477.0,334.2L478.0,334.1L479.0,334.1L480.0,334.0L481.0,333.9L482.0,333.8L483.0,333.8L484.0,333.7L485.0,333.6L486.0,333.5L487.0,333.5L488.0,333.4L489.0,333.3L490.0,333.2L491.0,333.1L492.0,333.1L493.0,333.0L494.0,332.9L495.0,332.8L496.0,332.7L497.0,332.6L498.0,332.5L499.0,332.4L500.0,332.3L501.0,332.2L502.0,332.1L503.0,332.0L504.0,331.9L505.0,331.8L506.0,331.7L507.0,331.6L508.0,331.5L509.0,331.4L510.0,331.3L511.0,331.2L512.0,331.0L513.0,330.9L514.0,330.8L515.0,330.7L516.0,330.5L517.0,330.4L518.0,330.3L519.0,330.2L520.0,330.0L521.0,329.9L522.0,329.8L523.0,329.6L524.0,329.5L525.0,329.3L526.0,329.2L527.0,329.0L528.0,328.9L529.0,328.7L530.0,328.6L531.0,328.4L532.0,328.2L533.0,328.1L534.0,327.9L535.0,327.7L536.0,327.6L537.0,327.4L538.0,327.2L539.0,327.0L540.0,326.8L541.0,326.7L542.0,326.5L543.0,326.3L544.0,326.1L545.0,325.9L546.0,325.7L547.0,325.5L548.0,325.3L549.0,325.0L550.0,324.8L551.0,324.6L552.0,324.4L553.0,324.2L554.0,323.9L555.0,323.7L556.0,323.4L557.0,323.2L558.0,323.0L559.0,322.7L560.0,322.5L561.0,322.2L562.0,321.9L563.0,321.7L564.0,321.4L565.0,321.1L566.0,320.9L567.0,320.6L568.0,320.3L569.0,320.0L570.0,319.7L571.0,319.4L572.0,319.1L573.0,318.8L574.0,318.5L575.0,318.2L576.0,317.9L577.0,317.5L578.0,317.2L579.0,316.9L580.0,316.5L581.0,316.2L582.0,315.9L583.0,315.5L584.0,315.2L585.0,314.8L586.0,314.5L587.0,314.1L588.0,313.7L589.0,313.4L590.0,313.0L591.0,312.6L592.0,312.2L593.0,311.9L594.0,311.5L595.0,311.1L596.0,310.7L597.0,310.3L598.0,309.9L599.0,309.5L600.0,309.2L601.0,308.8L602.0,308.4L603.0,308.0L604.0,307.6L605.0,307.2L606.0,306.8L607.0,306.4L608.0,306.0L609.0,305.6L610.0,305.2L611.0,304.8L612.0,304.4L613.0,304.1L614.0,303.7L615.0,303.3L616.0,302.9L617.0,302.6L618.0,302.2L619.0,301.9L620.0,301.5L621.0,301.2L622.0,300.8L623.0,300.5L624.0,300.2L625.0,299.9L626.0,299.6L627.0,299.3L628.0,299.1L629.0,298.8L630.0,298.5L631.0,298.3L632.0,298.1L633.0,297.9L634.0,297.7L635.0,297.5L636.0,297.3L637.0,297.2L638.0,297.0L639.0,296.9L640.0,296.8L641.0,296.7L642.0,296.7L643.0,296.6L644.0,296.6L645.0,296.6L646.0,296.6L647.0,296.6L648.0,296.6L649.0,296.6L650.0,296.7L651.0,296.8L652.0,296.9L653.0,297.0L654.0,297.1L655.0,297.3L656.0,297.4L657.0,297.6L658.0,297.8L659.0,298.0L660.0,298.2L661.0,298.5L662.0,298.7L663.0,299.0L664.0,299.2L665.0,299.5L666.0,299.8L667.0,300.1L668.0,300.4L669.0,300.7L670.0,301.0L671.0,301.4L672.0,301.7L673.0,302.1L674.0,302.4L675.0,302.8L676.0,303.2L677.0,303.5L678.0,303.9L679.0,304.3L680.0,304.7L681.0,305.1L682.0,305.5L683.0,305.9L684.0,306.2L685.0,306.6L686.0,307.0L687.0,307.4L688.0,307.8L689.0,308.2L690.0,308.6L691.0,309.0L692.0,309.4L693.0,309.8L694.0,310.2L695.0,310.6L696.0,311.0L697.0,311.4L698.0,311.8L699.0,312.1L700.0,312.5L701.0,312.9L702.0,313.3L703.0,313.6L704.0,314.0L705.0,314.4L706.0,314.7L707.0,315.1L708.0,315.4L709.0,315.8L710.0,316.1L711.0,316.5L712.0,316.8L713.0,317.1L714.0,317.5L715.0,317.8L716.0,318.1L717.0,318.4L718.0,318.7L719.0,319.0L720.0,319.3L721.0,319.6L722.0,319.9L723.0,320.2L724.0,320.5L725.0,320.8L726.0,321.1L727.0,321.4L728.0,321.6L729.0,321.9L730.0,322.2L731.0,322.4L732.0,322.7L733.0,322.9L734.0,323.2L735.0,323.4L736.0,323.7L737.0,323.9L738.0,324.1L739.0,324.4L740.0,324.6L741.0,324.8L742.0,325.0L743.0,325.2L744.0,325.5L745.0,325.7L746.0,325.9L747.0,326.1L748.0,326.3L749.0,326.5L750.0,326.7L751.0,326.9L752.0,327.0L753.0,327.2L754.0,327.4L755.0,327.6L756.0,327.8L757.0,327.9L758.0,328.1L759.0,328.3L760.0,328.4L761.0,328.6L762.0,328.7L763.0,328.9L764.0,329.1L765.0,329.2L766.0,329.4L767.0,329.5L768.0,329.6L769.0,329.8L770.0,329.9L771.0,330.1L772.0,330.2L773.0,330.3L774.0,330.5L775.0,330.6L776.0,330.7L777.0,330.8L778.0,331.0L779.0,331.1L780.0,331.2L781.0,331.3L782.0,331.4L783.0,331.5L784.0,331.6L785.0,331.8L786.0,331.9L787.0,332.0L788.0,332.1L789.0,332.2L790.0,332.3L791.0,332.4L792.0,332.5L793.0,332.6L794.0,332.7L795.0,332.8L796.0,332.8L797.0,332.9L798.0,333.0L799.0,333.1L800.0,333.2L801.0,333.3L802.0,333.4L803.0,333.4L804.0,333.5L805.0,333.6L806.0,333.7L807.0,333.8L808.0,333.8L809.0,333.9L810.0,334.0L811.0,334.1L812.0,334.1L813.0,334.2L814.0,334.3L815.0,334.3L816.0,334.4L817.0,334.5L818.0,334.5L819.0,334.6L820.0,334.6L821.0,334.7L822.0,334.8L823.0,334.8L824.0,334.9L825.0,334.9L826.0,335.0L827.0,335.1L828.0,335.1L829.0,335.2L830.0,335.2L831.0,335.3L832.0,335.3L833.0,335.4L834.0,335.4L835.0,335.5L836.0,335.5L837.0,335.6L838.0,335.6L839.0,335.7L840.0,335.7L841.0,335.8L842.0,335.8L843.0,335.8L844.0,335.9L845.0,335.9L846.0,336.0L847.0,336.0L848.0,336.1L849.0,336.1L850.0,336.1L851.0,336.2L852.0,336.2L853.0,336.2L854.0,336.3L855.0,336.3L856.0,336.4L857.0,336.4L858.0,336.4L859.0,336.5L860.0,336.5L861.0,336.5L862.0,336.6L863.0,336.6L864.0,336.6L865.0,336.7L866.0,336.7L867.0,336.7L868.0,336.7L869.0,336.8L870.0,336.8L871.0,336.8L872.0,336.9L873.0,336.9L874.0,336.9L875.0,336.9L876.0,337.0L877.0,337.0L878.0,337.0L879.0,337.1L880.0,337.1L881.0,337.1L882.0,337.1L883.0,337.2L884.0,337.2L885.0,337.2L886.0,337.2L887.0,337.2L888.0,337.3L889.0,337.3L890.0,337.3L891.0,337.3L892.0,337.4L893.0,337.4L894.0,337.4L895.0,337.4L896.0,337.4L897.0,337.5L898.0,337.5L899.0,337.5L900.0,337.5L901.0,337.5L902.0,337.5L903.0,337.6L904.0,337.6L905.0,337.6L906.0,337.6L907.0,337.6L908.0,337.7L909.0,337.7L910.0,337.7L911.0,337.7L912.0,337.7L913.0,337.7L914.0,337.7L915.0,337.8L916.0,337.8L917.0,337.8L918.0,337.8L919.0,337.8L920.0,337.8L921.0,337.9L922.0,337.9L923.0,337.9L924.0,337.9L925.0,337.9L926.0,337.9L927.0,337.9L928.0,337.9L929.0,338.0L930.0,338.0L931.0,338.0L932.0,338.0L933.0,338.0L934.0,338.0L935.0,338.0L936.0,338.0L937.0,338.0L938.0,338.1L939.0,338.1L940.0,338.1L941.0,338.1L942.0,338.1L943.0,338.1L944.0,338.1L945.0,338.1L946.0,338.1L947.0,338.2L948.0,338.2L949.0,338.2L950.0,338.2L951.0,338.2L952.0,338.2L953.0,338.2L954.0,338.2L955.0,338.2L956.0,338.2L957.0,338.2L958.0,338.3L959.0,338.3L960.0,338.3L961.0,338.3L962.0,338.3L963.0,338.3L964.0,338.3L965.0,338.3L966.0,338.3L967.0,338.3L968.0,338.3L969.0,338.3L970.0,338.3L971.0,338.3L972.0,338.4L973.0,338.4L974.0,338.4L975.0,338.4L976.0,338.4L977.0,338.4L978.0,338.4L979.0,338.4L980.0,338.4L981.0,338.4L982.0,338.4L983.0,338.4L984.0,338.4L985.0,338.4L986.0,338.4L987.0,338.4L988.0,338.5L989.0,338.5L990.0,338.5L991.0,338.5L992.0,338.5L993.0,338.5L994.0,338.5L995.0,338.5L996.0,338.5L997.0,338.5L998.0,338.5L999.0,338.5L1000.0,338.5L1001.0,338.5L1002.0,338.5L1003.0,338.5L1004.0,338.5L1005.0,338.5L1006.0,338.5L1007.0,338.5L1008.0,338.5L1009.0,338.5L1010.0,338.6L1011.0,338.6L1012.0,338.6L1013.0,338.6L1014.0,338.6L1015.0,338.6L1016.0,338.6L1017.0,338.6L1018.0,338.6L1019.0,338.6L1020.0,338.6L1021.0,338.6L1022.0,338.6L1023.0,338.6L1024.0,338.6L1025.0,338.6L1026.0,338.6L1027.0,338.6L1028.0,338.6L1029.0,338.6L1030.0,338.6L1031.0,338.6L1032.0,338.6L1033.0,338.6L1034.0,338.6L1035.0,338.6L1036.0,338.6L1037.0,338.6L1038.0,338.6L1039.0,338.6L1040.0,338.6L1041.0,338.6L1042.0,338.7L1043.0,338.7L1044.0,338.7L1045.0,338.7L1046.0,338.7L1047.0,338.7L1048.0,338.7L1049.0,338.7L1050.0,338.7L1051.0,338.7L1052.0,338.7L1053.0,338.7L1054.0,338.7L1055.0,338.7L1056.0,338.7L1057.0,338.7L1058.0,338.7L1059.0,338.7L1060.0,338.7L1061.0,338.7L1062.0,338.7L1063.0,338.7L1064.0,338.7L1065.0,338.7L1066.0,338.7L1067.0,338.7L1068.0,338.7L1069.0,338.7L1070.0,338.7L1071.0,338.7L1072.0,338.7L1073.0,338.7L1074.0,338.7L1075.0,338.7L1076.0,338.7L1077.0,338.7L1078.0,338.7L1079.0,338.7L1080.0,338.7L1081.0,338.7L1082.0,338.7L1083.0,338.7L1084.0,338.7L1085.0,338.7L1086.0,338.7L1087.0,338.7L1088.0,338.7L1089.0,338.7L1090.0,338.7L1091.0,338.7L1092.0,338.7L1093.0,338.7L1094.0,338.7L1095.0,338.7L1096.0,338.7L1097.0,338.7L1098.0,338.7L1099.0,338.7L1100.0,338.7L1101.0,338.7L1102.0,338.7L1103.0,338.7L1104.0,338.7L1105.0,338.7L1106.0,338.7L1107.0,338.7L1108.0,338.7L1109.0,338.7L1110.0,338.7L1111.0,338.7L1112.0,338.7L1113.0,338.7L1114.0,338.7L1115.0,338.7L1116.0,338.7L1117.0,338.7L1118.0,338.7L1119.0,338.7L1120.0,338.7L1121.0,338.7L1122.0,338.7L1123.0,338.7L1124.0,338.7L1125.0,338.7L1126.0,338.7L1127.0,338.7L1128.0,338.7" stroke="#0068e6"/>
<path d="M99.0,338.7L100.0,338.7L101.0,338.7L102.0,338.7L103.0,338.7L104.0,338.7L105.0,338.7L106.0,338.7L107.0,338.7L108.0,338.7L109.0,338.7L110.0,338.7L111.0,338.7L112.0,338.7L113.0,338.7L114.0,338.7L115.0,338.7L116.0,338.7L117.0,338.7L118.0,338.7L119.0,338.7L120.0,338.7L121.0,338.7L122.0,338.7L123.0,338.7L124.0,338.7L125.0,338.7L126.0,338.7L127.0,338.7L128.0,338.7L129.0,338.7L130.0,338.7L131.0,338.7L132.0,338.7L133.0,338.7L134.0,338.7L135.0,338.7L136.0,338.7L137.0,338.7L138.0,338.7L139.0,338.7L140.0,338.7L141.0,338.7L142.0,338.7L143.0,338.7L144.0,338.7L145.0,338.7L146.0,338.7L147.0,338.7L148.0,338.7L149.0,338.7L150.0,338.7L151.0,338.7L152.0,338.7L153.0,338.7L154.0,338.7L155.0,338.7L156.0,338.7L157.0,338.7L158.0,338.7L159.0,338.7L160.0,338.7L161.0,338.7L162.0,338.7L163.0,338.7L164.0,338.7L165.0,338.7L166.0,338.7L167.0,338.7L168.0,338.7L169.0,338.7L170.0,338.7L171.0,338.7L172.0,338.7L173.0,338.7L174.0,338.7L175.0,338.7L176.0,338.7L177.0,338.7L178.0,338.7L179.0,338.7L180.0,338.7L181.0,338.7L182.0,338.7L183.0,338.7L184.0,338.7L185.0,338.7L186.0,338.7L187.0,338.7L188.0,338.7L189.0,338.7L190.0,338.7L191.0,338.7L192.0,338.7L193.0,338.7L194.0,338.7L195.0,338.7L196.0,338.7L197.0,338.7L198.0,338.7L199.0,338.7L200.0,338.7L201.0,338.7L202.0,338.7L203.0,338.7L204.0,338.7L205.0,338.7L206.0,338.7L207.0,338.7L208.0,338.7L209.0,338.7L210.0,338.7L211.0,338.7L212.0,338.7L213.0,338.7L214.0,338.7L215.0,338.7L216.0,338.7L217.0,338.7L218.0,338.7L219.0,338.7L220.0,338.7L221.0,338.7L222.0,338.7L223.0,338.7L224.0,338.7L225.0,338.7L226.0,338.7L227.0,338.7L228.0,338.7L229.0,338.7L230.0,338.7L231.0,338.7L232.0,338.7L233.0,338.7L234.0,338.7L235.0,338.7L236.0,338.7L237.0,338.7L238.0,338.7L239.0,338.7L240.0,338.7L241.0,338.7L242.0,338.7L243.0,338.7L244.0,338.7L245.0,338.7L246.0,338.7L247.0,338.7L248.0,338.7L249.0,338.7L250.0,338.7L251.0,338.7L252.0,338.7L253.0,338.7L254.0,338.7L255.0,338.7L256.0,338.7L257.0,338.7L258.0,338.7L259.0,338.7L260.0,338.7L261.0,338.7L262.0,338.7L263.0,338.7L264.0,338.7L265.0,338.7L266.0,338.7L267.0,338.7L268.0,338.7L269.0,338.7L270.0,338.7L271.0,338.7L272.0,338.7L273.0,338.7L274.0,338.7L275.0,338.7L276.0,338.7L277.0,338.7L278.0,338.7L279.0,338.7L280.0,338.7L281.0,338.7L282.0,338.7L283.0,338.7L284.0,338.7L285.0,338.7L286.0,338.7L287.0,338.7L288.0,338.7L289.0,338.7L290.0,338.7L291.0,338.7L292.0,338.7L293.0,338.7L294.0,338.7L295.0,338.7L296.0,338.7L297.0,338.7L298.0,338.7L299.0,338.7L300.0,338.7L301.0,338.7L302.0,338.7L303.0,338.7L304.0,338.7L305.0,338.7L306.0,338.7L307.0,338.7L308.0,338.7L309.0,338.7L310.0,338.7L311.0,338.7L312.0,338.7L313.0,338.7L314.0,338.7L315.0,338.7L316.0,338.7L317.0,338.7L318.0,338.7L319.0,338.7L320.0,338.7L321.0,338.7L322.0,338.7L323.0,338.7L324.0,338.7L325.0,338.7L326.0,338.7L327.0,338.7L328.0,338.7L329.0,338.7L330.0,338.7L331.0,338.7L332.0,338.7L333.0,338.7L334.0,338.7L335.0,338.7L336.0,338.7L337.0,338.7L338.0,338.7L339.0,338.7L340.0,338.7L341.0,338.7L342.0,338.7L343.0,338.7L344.0,338.7L345.0,338.7L346.0,338.7L347.0,338.7L348.0,338.7L349.0,338.7L350.0,338.7L351.0,338.7L352.0,338.7L353.0,338.7L354.0,338.7L355.0,338.7L356.0,338.7L357.0,338.7L358.0,338.7L359.0,338.7L360.0,338.7L361.0,338.7L362.0,338.7L363.0,338.7L364.0,338.7L365.0,338.7L366.0,338.7L367.0,338.7L368.0,338.7L369.0,338.7L370.0,338.7L371.0,338.7L372.0,338.7L373.0,338.7L374.0,338.7L375.0,338.7L376.0,338.7L377.0,338.7L378.0,338.7L379.0,338.7L380.0,338.7L381.0,338.7L382.0,338.7L383.0,338.7L384.0,338.7L385.0,338.7L386.0,338.7L387.0,338.7L388.0,338.7L389.0,338.7L390.0,338.7L391.0,338.7L392.0,338.7L393.0,338.7L394.0,338.7L395.0,338.7L396.0,338.7L397.0,338.7L398.0,338.7L399.0,338.7L400.0,338.6L401.0,338.6L402.0,338.6L403.0,338.6L404.0,338.6L405.0,338.6L406.0,338.6L407.0,338.6L408.0,338.6L409.0,338.6L410.0,338.6L411.0,338.6L412.0,338.6L413.0,338.6L414.0,338.6L415.0,338.6L416.0,338.6L417.0,338.6L418.0,338.6L419.0,338.6L420.0,338.6L421.0,338.6L422.0,338.6L423.0,338.6L424.0,338.6L425.0,338.6L426.0,338.6L427.0,338.6L428.0,338.6L429.0,338.6L430.0,338.6L431.0,338.6L432.0,338.6L433.0,338.6L434.0,338.6L435.0,338.6L436.0,338.6L437.0,338.6L438.0,338.6L439.0,338.6L440.0,338.6L441.0,338.6L442.0,338.6L443.0,338.6L444.0,338.6L445.0,338.6L446.0,338.6L447.0,338.6L448.0,338.6L449.0,338.5L450.0,338.5L451.0,338.5L452.0,338.5L453.0,338.5L454.0,338.5L455.0,338.5L456.0,338.5L457.0,338.5L458.0,338.5L459.0,338.5L460.0,338.5L461.0,338.5L462.0,338.5L463.0,338.5L464.0,338.5L465.0,338.5L466.0,338.5L467.0,338.5L468.0,338.5L469.0,338.5L470.0,338.5L471.0,338.5L472.0,338.5L473.0,338.5L474.0,338.5L475.0,338.5L476.0,338.5L477.0,338.4L478.0,338.4L479.0,338.4L480.0,338.4L481.0,338.4L482.0,338.4L483.0,338.4L484.0,338.4L485.0,338.4L486.0,338.4L487.0,338.4L488.0,338.4L489.0,338.4L490.0,338.4L491.0,338.4L492.0,338.4L493.0,338.4L494.0,338.4L495.0,338.4L496.0,338.3L497.0,338.3L498.0,338.3L499.0,338.3L500.0,338.3L501.0,338.3L502.0,338.3L503.0,338.3L504.0,338.3L505.0,338.3L506.0,338.3L507.0,338.3L508.0,338.3L509.0,338.3L510.0,338.2L511.0,338.2L512.0,338.2L513.0,338.2L514.0,338.2L515.0,338.2L516.0,338.2L517.0,338.2L518.0,338.2L519.0,338.2L520.0,338.2L521.0,338.2L522.0,338.1L523.0,338.1L524.0,338.1L525.0,338.1L526.0,338.1L527.0,338.1L528.0,338.1L529.0,338.1L530.0,338.1L531.0,338.0L532.0,338.0L533.0,338.0L534.0,338.0L535.0,338.0L536.0,338.0L537.0,338.0L538.0,338.0L539.0,338.0L540.0,337.9L541.0,337.9L542.0,337.9L543.0,337.9L544.0,337.9L545.0,337.9L546.0,337.9L547.0,337.8L548.0,337.8L549.0,337.8L550.0,337.8L551.0,337.8L552.0,337.8L553.0,337.7L554.0,337.7L555.0,337.7L556.0,337.7L557.0,337.7L558.0,337.6L559.0,337.6L560.0,337.6L561.0,337.6L562.0,337.6L563.0,337.5L564.0,337.5L565.0,337.5L566.0,337.5L567.0,337.4L568.0,337.4L569.0,337.4L570.0,337.4L571.0,337.3L572.0,337.3L573.0,337.3L574.0,337.3L575.0,337.2L576.0,337.2L577.0,337.2L578.0,337.2L579.0,337.1L580.0,337.1L581.0,337.1L582.0,337.0L583.0,337.0L584.0,337.0L585.0,336.9L586.0,336.9L587.0,336.8L588.0,336.8L589.0,336.8L590.0,336.7L591.0,336.7L592.0,336.6L593.0,336.6L594.0,336.6L595.0,336.5L596.0,336.5L597.0,336.4L598.0,336.4L599.0,336.3L600.0,336.3L601.0,336.2L602.0,336.1L603.0,336.1L604.0,336.0L605.0,336.0L606.0,335.9L607.0,335.8L608.0,335.8L609.0,335.7L610.0,335.6L611.0,335.6L612.0,335.5L613.0,335.4L614.0,335.3L615.0,335.3L616.0,335.2L617.0,335.1L618.0,335.0L619.0,334.9L620.0,334.8L621.0,334.7L622.0,334.6L623.0,334.5L624.0,334.4L625.0,334.3L626.0,334.2L627.0,334.0L628.0,333.9L629.0,333.8L630.0,333.6L631.0,333.5L632.0,333.4L633.0,333.2L634.0,333.0L635.0,332.9L636.0,332.7L637.0,332.5L638.0,332.4L639.0,332.2L640.0,332.0L641.0,331.8L642.0,331.6L643.0,331.3L644.0,331.1L645.0,330.9L646.0,330.6L647.0,330.3L648.0,330.1L649.0,329.8L650.0,329.5L651.0,329.2L652.0,328.8L653.0,328.5L654.0,328.1L655.0,327.8L656.0,327.4L657.0,327.0L658.0,326.5L659.0,326.1L660.0,325.6L661.0,325.1L662.0,324.6L663.0,324.0L664.0,323.4L665.0,322.8L666.0,322.2L667.0,321.5L668.0,320.8L669.0,320.1L670.0,319.3L671.0,318.4L672.0,317.5L673.0,316.6L674.0,315.6L675.0,314.6L676.0,313.5L677.0,312.4L678.0,311.2L679.0,309.9L680.0,308.6L681.0,307.2L682.0,305.7L683.0,304.2L684.0,302.5L685.0,300.9L686.0,299.1L687.0,297.3L688.0,295.4L689.0,293.5L690.0,291.5L691.0,289.5L692.0,287.5L693.0,285.5L694.0,283.5L695.0,281.6L696.0,279.7L697.0,278.0L698.0,276.4L699.0,275.1L700.0,273.9L701.0,273.1L702.0,272.5L703.0,272.2L704.0,272.2L705.0,272.6L706.0,273.2L707.0,274.1L708.0,275.3L709.0,276.7L710.0,278.3L711.0,280.1L712.0,282.0L713.0,283.9L714.0,285.9L715.0,287.9L716.0,289.9L717.0,291.9L718.0,293.9L719.0,295.8L720.0,297.7L721.0,299.5L722.0,301.3L723.0,302.9L724.0,304.5L725.0,306.1L726.0,307.5L727.0,308.9L728.0,310.2L729.0,311.5L730.0,312.7L731.0,313.8L732.0,314.9L733.0,315.9L734.0,316.9L735.0,317.8L736.0,318.7L737.0,319.5L738.0,320.3L739.0,321.0L740.0,321.7L741.0,322.4L742.0,323.0L743.0,323.6L744.0,324.2L745.0,324.8L746.0,325.3L747.0,325.8L748.0,326.2L749.0,326.7L750.0,327.1L751.0,327.5L752.0,327.9L753.0,328.3L754.0,328.6L755.0,329.0L756.0,329.3L757.0,329.6L758.0,329.9L759.0,330.2L760.0,330.5L761.0,330.7L762.0,331.0L763.0,331.2L764.0,331.4L765.0,331.7L766.0,331.9L767.0,332.1L768.0,332.3L769.0,332.5L770.0,332.6L771.0,332.8L772.0,333.0L773.0,333.1L774.0,333.3L775.0,333.4L776.0,333.6L777.0,333.7L778.0,333.9L779.0,334.0L780.0,334.1L781.0,334.2L782.0,334.3L783.0,334.5L784.0,334.6L785.0,334.7L786.0,334.8L787.0,334.9L788.0,335.0L789.0,335.1L790.0,335.1L791.0,335.2L792.0,335.3L793.0,335.4L794.0,335.5L795.0,335.6L796.0,335.6L797.0,335.7L798.0,335.8L799.0,335.8L800.0,335.9L801.0,336.0L802.0,336.0L803.0,336.1L804.0,336.1L805.0,336.2L806.0,336.3L807.0,336.3L808.0,336.4L809.0,336.4L810.0,336.5L811.0,336.5L812.0,336.6L813.0,336.6L814.0,336.7L815.0,336.7L816.0,336.7L817.0,336.8L818.0,336.8L819.0,336.9L820.0,336.9L821.0,336.9L822.0,337.0L823.0,337.0L824.0,337.0L825.0,337.1L826.0,337.1L827.0,337.1L828.0,337.2L829.0,337.2L830.0,337.2L831.0,337.3L832.0,337.3L833.0,337.3L834.0,337.3L835.0,337.4L836.0,337.4L837.0,337.4L838.0,337.4L839.0,337.5L840.0,337.5L841.0,337.5L842.0,337.5L843.0,337.6L844.0,337.6L845.0,337.6L846.0,337.6L847.0,337.6L848.0,337.7L849.0,337.7L850.0,337.7L851.0,337.7L852.0,337.7L853.0,337.8L854.0,337.8L855.0,337.8L856.0,337.8L857.0,337.8L858.0,337.8L859.0,337.9L860.0,337.9L861.0,337.9L862.0,337.9L863.0,337.9L864.0,337.9L865.0,337.9L866.0,338.0L867.0,338.0L868.0,338.0L869.0,338.0L870.0,338.0L871.0,338.0L872.0,338.0L873.0,338.1L874.0,338.1L875.0,338.1L876.0,338.1L877.0,338.1L878.0,338.1L879.0,338.1L880.0,338.1L881.0,338.1L882.0,338.2L883.0,338.2L884.0,338.2L885.0,338.2L886.0,338.2L887.0,338.2L888.0,338.2L889.0,338.2L890.0,338.2L891.0,338.2L892.0,338.2L893.0,338.3L894.0,338.3L895.0,338.3L896.0,338.3L897.0,338.3L898.0,338.3L899.0,338.3L900.0,338.3L901.0,338.3L902.0,338.3L903.0,338.3L904.0,338.3L905.0,338.3L906.0,338.3L907.0,338.4L908.0,338.4L909.0,338.4L910.0,338.4L911.0,338.4L912.0,338.4L913.0,338.4L914.0,338.4L915.0,338.4L916.0,338.4L917.0,338.4L918.0,338.4L919.0,338.4L920.0,338.4L921.0,338.4L922.0,338.4L923.0,338.4L924.0,338.5L925.0,338.5L926.0,338.5L927.0,338.5L928.0,338.5L929.0,338.5L930.0,338.5L931.0,338.5L932.0,338.5L933.0,338.5L934.0,338.5L935.0,338.5L936.0,338.5L937.0,338.5L938.0,338.5L939.0,338.5L940.0,338.5L941.0,338.5L942.0,338.5L943.0,338.5L944.0,338.5L945.0,338.5L946.0,338.5L947.0,338.5L948.0,338.6L949.0,338.6L950.0,338.6L951.0,338.6L952.0,338.6L953.0,338.6L954.0,338.6L955.0,338.6L956.0,338.6L957.0,338.6L958.0,338.6L959.0,338.6L960.0,338.6L961.0,338.6L962.0,338.6L963.0,338.6L964.0,338.6L965.0,338.6L966.0,338.6L967.0,338.6L968.0,338.6L969.0,338.6L970.0,338.6L971.0,338.6L972.0,338.6L973.0,338.6L974.0,338.6L975.0,338.6L976.0,338.6L977.0,338.6L978.0,338.6L979.0,338.6L980.0,338.6L981.0,338.6L982.0,338.6L983.0,338.6L984.0,338.6L985.0,338.6L986.0,338.6L987.0,338.6L988.0,338.7L989.0,338.7L990.0,338.7L991.0,338.7L992.0,338.7L993.0,338.7L994.0,338.7L995.0,338.7L996.0,338.7L997.0,338.7L998.0,338.7L999.0,338.7L1000.0,338.7L1001.0,338.7L1002.0,338.7L1003.0,338.7L1004.0,338.7L1005.0,338.7L1006.0,338.7L1007.0,338.7L1008.0,338.7L1009.0,338.7L1010.0,338.7L1011.0,338.7L1012.0,338.7L1013.0,338.7L1014.0,338.7L1015.0,338.7L1016.0,338.7L1017.0,338.7L1018.0,338.7L1019.0,338.7L1020.0,338.7L1021.0,338.7L1022.0,338.7L1023.0,338.7L1024.0,338.7L1025.0,338.7L1026.0,338.7L1027.0,338.7L1028.0,338.7L1029.0,338.7L1030.0,338.7L1031.0,338.7L1032.0,338.7L1033.0,338.7L1034.0,338.7L1035.0,338.7L1036.0,338.7L1037.0,338.7L1038.0,338.7L1039.0,338.7L1040.0,338.7L1041.0,338.7L1042.0,338.7L1043.0,338.7L1044.0,338.7L1045.0,338.7L1046.0,338.7L1047.0,338.7L1048.0,338.7L1049.0,338.7L1050.0,338.7L1051.0,338.7L1052.0,338.7L1053.0,338.7L1054.0,338.7L1055.0,338.7L1056.0,338.7L1057.0,338.7L1058.0,338.7L1059.0,338.7L1060.0,338.7L1061.0,338.7L1062.0,338.7L1063.0,338.7L1064.0,338.7L1065.0,338.7L1066.0,338.7L1067.0,338.7L1068.0,338.7L1069.0,338.7L1070.0,338.7L1071.0,338.7L1072.0,338.7L1073.0,338.7L1074.0,338.7L1075.0,338.7L1076.0,338.7L1077.0,338.7L1078.0,338.7L1079.0,338.7L1080.0,338.7L1081.0,338.7L1082.0,338.7L1083.0,338.7L1084.0,338.7L1085.0,338.7L1086.0,338.7L1087.0,338.7L1088.0,338.7L1089.0,338.7L1090.0,338.7L1091.0,338.7L1092.0,338.7L1093.0,338.7L1094.0,338.7L1095.0,338.7L1096.0,338.7L1097.0,338.7L1098.0,338.7L1099.0,338.7L1100.0,338.7L1101.0,338.7L1102.0,338.7L1103.0,338.7L1104.0,338.7L1105.0,338.7L1106.0,338.7L1107.0,338.7L1108.0,338.7L1109.0,338.7L1110.0,338.7L1111.0,338.7L1112.0,338.7L1113.0,338.7L1114.0,338.7L1115.0,338.7L1116.0,338.7L1117.0,338.7L1118.0,338.7L1119.0,338.7L1120.0,338.7L1121.0,338.7L1122.0,338.7L1123.0,338.7L1124.0,338.7L1125.0,338.7L1126.0,338.7L1127.0,338.7L1128.0,338.7" stroke="#964b00"/>
<path d="M99.0,338.8L100.0,338.8L101.0,338.8L102.0,338.8L103.0,338.8L104.0,338.8L105.0,338.8L106.0,338.8L107.0,338.8L108.0,338.8L109.0,338.8L110.0,338.8L111.0,338.8L112.0,338.8L113.0,338.8L114.0,338.8L115.0,338.8L116.0,338.8L117.0,338.8L118.0,338.8L119.0,338.8L120.0,338.8L121.0,338.8L122.0,338.8L123.0,338.8L124.0,338.8L125.0,338.8L126.0,338.8L127.0,338.8L128.0,338.8L129.0,338.8L130.0,338.8L131.0,338.8L132.0,338.8L133.0,338.8L134.0,338.8L135.0,338.8L136.0,338.8L137.0,338.8L138.0,338.8L139.0,338.8L140.0,338.8L141.0,338.8L142.0,338.8L143.0,338.8L144.0,338.8L145.0,338.8L146.0,338.8L147.0,338.8L148.0,338.8L149.0,338.8L150.0,338.8L151.0,338.8L152.0,338.8L153.0,338.8L154.0,338.8L155.0,338.8L156.0,338.8L157.0,338.8L158.0,338.8L159.0,338.8L160.0,338.8L161.0,338.8L162.0,338.8L163.0,338.8L164.0,338.8L165.0,338.8L166.0,338.8L167.0,338.8L168.0,338.8L169.0,338.8L170.0,338.8L171.0,338.8L172.0,338.8L173.0,338.8L174.0,338.8L175.0,338.8L176.0,338.8L177.0,338.8L178.0,338.8L179.0,338.8L180.0,338.8L181.0,338.8L182.0,338.8L183.0,338.8L184.0,338.8L185.0,338.8L186.0,338.8L187.0,338.8L188.0,338.8L189.0,338.8L190.0,338.8L191.0,338.8L192.0,338.8L193.0,338.8L194.0,338.8L195.0,338.8L196.0,338.8L197.0,338.8L198.0,338.8L199.0,338.8L200.0,338.8L201.0,338.8L202.0,338.8L203.0,338.8L204.0,338.8L205.0,338.8L206.0,338.8L207.0,338.8L208.0,338.8L209.0,338.8L210.0,338.9L211.0,338.9L212.0,338.9L213.0,338.9L214.0,338.9L215.0,338.9L216.0,338.9L217.0,338.9L218.0,338.9L219.0,338.9L220.0,338.9L221.0,338.9L222.0,338.9L223.0,338.9L224.0,338.9L225.0,338.9L226.0,338.9L227.0,338.9L228.0,338.9L229.0,338.9L230.0,338.9L231.0,338.9L232.0,338.9L233.0,338.9L234.0,338.9L235.0,338.9L236.0,338.9L237.0,338.9L238.0,338.9L239.0,338.9L240.0,338.9L241.0,338.9L242.0,338.9L243.0,338.9L244.0,338.9L245.0,338.9L246.0,338.9L247.0,338.9L248.0,338.9L249.0,338.9L250.0,338.9L251.0,338.9L252.0,338.9L253.0,338.9L254.0,338.9L255.0,338.9L256.0,338.9L257.0,338.9L258.0,338.9L259.0,338.9L260.0,338.9L261.0,339.0L262.0,339.0L263.0,339.0L264.0,339.0L265.0,339.0L266.0,339.0L267.0,339.0L268.0,339.0L269.0,339.0L270.0,339.0L271.0,339.0L272.0,339.0L273.0,339.0L274.0,339.0L275.0,339.0L276.0,339.0L277.0,339.0L278.0,339.0L279.0,339.0L280.0,339.0L281.0,339.0L282.0,339.0L283.0,339.0L284.0,339.0L285.0,339.0L286.0,339.0L287.0,339.0L288.0,339.0L289.0,339.0L290.0,339.1L291.0,339.1L292.0,339.1L293.0,339.1L294.0,339.1L295.0,339.1L296.0,339.1L297.0,339.1L298.0,339.1L299.0,339.1L300.0,339.1L301.0,339.1L302.0,339.1L303.0,339.1L304.0,339.1L305.0,339.1L306.0,339.1L307.0,339.1L308.0,339.1L309.0,339.1L310.0,339.1L311.0,339.2L312.0,339.2L313.0,339.2L314.0,339.2L315.0,339.2L316.0,339.2L317.0,339.2L318.0,339.2L319.0,339.2L320.0,339.2L321.0,339.2L322.0,339.2L323.0,339.2L324.0,339.2L325.0,339.2L326.0,339.2L327.0,339.2L328.0,339.3L329.0,339.3L330.0,339.3L331.0,339.3L332.0,339.3L333.0,339.3L334.0,339.3L335.0,339.3L336.0,339.3L337.0,339.3L338.0,339.3L339.0,339.3L340.0,339.3L341.0,339.4L342.0,339.4L343.0,339.4L344.0,339.4L345.0,339.4L346.0,339.4L347.0,339.4L348.0,339.4L349.0,339.4L350.0,339.4L351.0,339.4L352.0,339.5L353.0,339.5L354.0,339.5L355.0,339.5L356.0,339.5L357.0,339.5L358.0,339.5L359.0,339.5L360.0,339.5L361.0,339.5L362.0,339.6L363.0,339.6L364.0,339.6L365.0,339.6L366.0,339.6L367.0,339.6L368.0,339.6L369.0,339.6L370.0,339.7L371.0,339.7L372.0,339.7L373.0,339.7L374.0,339.7L375.0,339.7L376.0,339.7L377.0,339.7L378.0,339.8L379.0,339.8L380.0,339.8L381.0,339.8L382.0,339.8L383.0,339.8L384.0,339.8L385.0,339.9L386.0,339.9L387.0,339.9L388.0,339.9L389.0,339.9L390.0,339.9L391.0,340.0L392.0,340.0L393.0,340.0L394.0,340.0L395.0,340.0L396.0,340.0L397.0,340.1L398.0,340.1L399.0,340.1L400.0,340.1L401.0,340.1L402.0,340.1L403.0,340.2L404.0,340.2L405.0,340.2L406.0,340.2L407.0,340.2L408.0,340.3L409.0,340.3L410.0,340.3L411.0,340.3L412.0,340.4L413.0,340.4L414.0,340.4L415.0,340.4L416.0,340.4L417.0,340.5L418.0,340.5L419.0,340.5L420.0,340.5L421.0,340.6L422.0,340.6L423.0,340.6L424.0,340.6L425.0,340.7L426.0,340.7L427.0,340.7L428.0,340.8L429.0,340.8L430.0,340.8L431.0,340.8L432.0,340.9L433.0,340.9L434.0,340.9L435.0,341.0L436.0,341.0L437.0,341.0L438.0,341.0L439.0,341.1L440.0,341.1L441.0,341.1L442.0,341.2L443.0,341.2L444.0,341.2L445.0,341.3L446.0,341.3L447.0,341.4L448.0,341.4L449.0,341.4L450.0,341.5L451.0,341.5L452.0,341.5L453.0,341.6L454.0,341.6L455.0,341.7L456.0,341.7L457.0,341.7L458.0,341.8L459.0,341.8L460.0,341.9L461.0,341.9L462.0,342.0L463.0,342.0L464.0,342.0L465.0,342.1L466.0,342.1L467.0,342.2L468.0,342.2L469.0,342.3L470.0,342.3L471.0,342.4L472.0,342.4L473.0,342.5L474.0,342.5L475.0,342.6L476.0,342.6L477.0,342.7L478.0,342.8L479.0,342.8L480.0,342.9L481.0,342.9L482.0,343.0L483.0,343.0L484.0,343.1L485.0,343.2L486.0,343.2L487.0,343.3L488.0,343.4L489.0,343.4L490.0,343.5L491.0,343.5L492.0,343.6L493.0,343.7L494.0,343.8L495.0,343.8L496.0,343.9L497.0,344.0L498.0,344.0L499.0,344.1L500.0,344.2L501.0,344.3L502.0,344.3L503.0,344.4L504.0,344.5L505.0,344.6L506.0,344.7L507.0,344.8L508.0,344.8L509.0,344.9L510.0,345.0L511.0,345.1L512.0,345.2L513.0,345.3L514.0,345.4L515.0,345.5L516.0,345.6L517.0,345.7L518.0,345.8L519.0,345.9L520.0,346.0L521.0,346.1L522.0,346.2L523.0,346.3L524.0,346.4L525.0,346.5L526.0,346.6L527.0,346.7L528.0,346.8L529.0,346.9L530.0,347.1L531.0,347.2L532.0,347.3L533.0,347.4L534.0,347.5L535.0,347.7L536.0,347.8L537.0,347.9L538.0,348.1L539.0,348.2L540.0,348.3L541.0,348.5L542.0,348.6L543.0,348.7L544.0,348.9L545.0,349.0L546.0,349.2L547.0,349.3L548.0,349.5L549.0,349.6L550.0,349.8L551.0,349.9L552.0,350.1L553.0,350.3L554.0,350.4L555.0,350.6L556.0,350.8L557.0,350.9L558.0,351.1L559.0,351.3L560.0,351.5L561.0,351.7L562.0,351.9L563.0,352.0L564.0,352.2L565.0,352.4L566.0,352.6L567.0,352.8L568.0,353.0L569.0,353.2L570.0,353.5L571.0,353.7L572.0,353.9L573.0,354.1L574.0,354.3L575.0,354.6L576.0,354.8L577.0,355.0L578.0,355.3L579.0,355.5L580.0,355.7L581.0,356.0L582.0,356.2L583.0,356.5L584.0,356.8L585.0,357.0L586.0,357.3L587.0,357.6L588.0,357.8L589.0,358.1L590.0,358.4L591.0,358.7L592.0,359.0L593.0,359.3L594.0,359.6L595.0,359.9L596.0,360.2L597.0,360.5L598.0,360.8L599.0,361.2L600.0,361.5L601.0,361.8L602.0,362.2L603.0,362.5L604.0,362.9L605.0,363.2L606.0,363.6L607.0,363.9L608.0,364.3L609.0,364.7L610.0,365.1L611.0,365.5L612.0,365.9L613.0,366.3L614.0,366.7L615.0,367.1L616.0,367.5L617.0,367.9L618.0,368.4L619.0,368.8L620.0,369.2L621.0,369.7L622.0,370.2L623.0,370.6L624.0,371.1L625.0,371.6L626.0,372.1L627.0,372.5L628.0,373.0L629.0,373.6L630.0,374.1L631.0,374.6L632.0,375.1L633.0,375.7L634.0,376.2L635.0,376.7L636.0,377.3L637.0,377.9L638.0,378.4L639.0,379.0L640.0,379.6L641.0,380.2L642.0,380.8L643.0,381.4L644.0,382.1L645.0,382.7L646.0,383.3L647.0,384.0L648.0,384.6L649.0,385.3L650.0,386.0L651.0,386.6L652.0,387.3L653.0,388.0L654.0,388.7L655.0,389.4L656.0,390.2L657.0,390.9L658.0,391.6L659.0,392.4L660.0,393.1L661.0,393.9L662.0,394.6L663.0,395.4L664.0,396.2L665.0,397.0L666.0,397.7L667.0,398.5L668.0,399.3L669.0,400.2L670.0,401.0L671.0,401.8L672.0,402.6L673.0,403.4L674.0,404.3L675.0,405.1L676.0,405.9L677.0,406.8L678.0,407.6L679.0,408.4L680.0,409.3L681.0,410.1L682.0,410.9L683.0,411.8L684.0,412.6L685.0,413.4L686.0,414.2L687.0,415.1L688.0,415.9L689.0,416.7L690.0,417.4L691.0,418.2L692.0,419.0L693.0,419.7L694.0,420.4L695.0,421.2L696.0,421.9L697.0,422.5L698.0,423.2L699.0,423.8L700.0,424.4L701.0,425.0L702.0,425.6L703.0,426.1L704.0,426.6L705.0,427.1L706.0,427.5L707.0,427.9L708.0,428.3L709.0,428.6L710.0,428.9L711.0,429.2L712.0,429.4L713.0,429.6L714.0,429.8L715.0,429.9L716.0,429.9L717.0,429.9L718.0,429.9L719.0,429.9L720.0,429.8L721.0,429.6L722.0,429.5L723.0,429.2L724.0,429.0L725.0,428.7L726.0,428.4L727.0,428.0L728.0,427.6L729.0,427.2L730.0,426.7L731.0,426.2L732.0,425.7L733.0,425.1L734.0,424.5L735.0,423.9L736.0,423.3L737.0,422.6L738.0,422.0L739.0,421.3L740.0,420.6L741.0,419.8L742.0,419.1L743.0,418.3L744.0,417.5L745.0,416.8L746.0,416.0L747.0,415.2L748.0,414.3L749.0,413.5L750.0,412.7L751.0,411.9L752.0,411.0L753.0,410.2L754.0,409.3L755.0,408.5L756.0,407.7L757.0,406.8L758.0,406.0L759.0,405.1L760.0,404.3L761.0,403.5L762.0,402.6L763.0,401.8L764.0,401.0L765.0,400.2L766.0,399.3L767.0,398.5L768.0,397.7L769.0,396.9L770.0,396.1L771.0,395.4L772.0,394.6L773.0,393.8L774.0,393.0L775.0,392.3L776.0,391.5L777.0,390.8L778.0,390.1L779.0,389.3L780.0,388.6L781.0,387.9L782.0,387.2L783.0,386.5L784.0,385.8L785.0,385.1L786.0,384.5L787.0,383.8L788.0,383.2L789.0,382.5L790.0,381.9L791.0,381.2L792.0,380.6L793.0,380.0L794.0,379.4L795.0,378.8L796.0,378.2L797.0,377.6L798.0,377.1L799.0,376.5L800.0,376.0L801.0,375.4L802.0,374.9L803.0,374.3L804.0,373.8L805.0,373.3L806.0,372.8L807.0,372.3L808.0,371.8L809.0,371.3L810.0,370.8L811.0,370.3L812.0,369.8L813.0,369.4L814.0,368.9L815.0,368.5L816.0,368.0L817.0,367.6L818.0,367.2L819.0,366.7L820.0,366.3L821.0,365.9L822.0,365.5L823.0,365.1L824.0,364.7L825.0,364.3L826.0,363.9L827.0,363.6L828.0,363.2L829.0,362.8L830.0,362.5L831.0,362.1L832.0,361.8L833.0,361.4L834.0,361.1L835.0,360.8L836.0,360.4L837.0,360.1L838.0,359.8L839.0,359.5L840.0,359.2L841.0,358.9L842.0,358.6L843.0,358.3L844.0,358.0L845.0,357.7L846.0,357.4L847.0,357.1L848.0,356.8L849.0,356.6L850.0,356.3L851.0,356.0L852.0,355.8L853.0,355.5L854.0,355.3L855.0,355.0L856.0,354.8L857.0,354.5L858.0,354.3L859.0,354.1L860.0,353.9L861.0,353.6L862.0,353.4L863.0,353.2L864.0,353.0L865.0,352.8L866.0,352.5L867.0,352.3L868.0,352.1L869.0,351.9L870.0,351.7L871.0,351.5L872.0,351.4L873.0,351.2L874.0,351.0L875.0,350.8L876.0,350.6L877.0,350.4L878.0,350.3L879.0,350.1L880.0,349.9L881.0,349.7L882.0,349.6L883.0,349.4L884.0,349.3L885.0,349.1L886.0,348.9L887.0,348.8L888.0,348.6L889.0,348.5L890.0,348.3L891.0,348.2L892.0,348.1L893.0,347.9L894.0,347.8L895.0,347.6L896.0,347.5L897.0,347.4L898.0,347.2L899.0,347.1L900.0,347.0L901.0,346.9L902.0,346.7L903.0,346.6L904.0,346.5L905.0,346.4L906.0,346.3L907.0,346.2L908.0,346.0L909.0,345.9L910.0,345.8L911.0,345.7L912.0,345.6L913.0,345.5L914.0,345.4L915.0,345.3L916.0,345.2L917.0,345.1L918.0,345.0L919.0,344.9L920.0,344.8L921.0,344.7L922.0,344.6L923.0,344.5L924.0,344.4L925.0,344.4L926.0,344.3L927.0,344.2L928.0,344.1L929.0,344.0L930.0,343.9L931.0,343.9L932.0,343.8L933.0,343.7L934.0,343.6L935.0,343.5L936.0,343.5L937.0,343.4L938.0,343.3L939.0,343.2L940.0,343.2L941.0,343.1L942.0,343.0L943.0,343.0L944.0,342.9L945.0,342.8L946.0,342.8L947.0,342.7L948.0,342.6L949.0,342.6L950.0,342.5L951.0,342.5L952.0,342.4L953.0,342.3L954.0,342.3L955.0,342.2L956.0,342.2L957.0,342.1L958.0,342.1L959.0,342.0L960.0,342.0L961.0,341.9L962.0,341.8L963.0,341.8L964.0,341.7L965.0,341.7L966.0,341.6L967.0,341.6L968.0,341.6L969.0,341.5L970.0,341.5L971.0,341.4L972.0,341.4L973.0,341.3L974.0,341.3L975.0,341.2L976.0,341.2L977.0,341.2L978.0,341.1L979.0,341.1L980.0,341.0L981.0,341.0L982.0,341.0L983.0,340.9L984.0,340.9L985.0,340.8L986.0,340.8L987.0,340.8L988.0,340.7L989.0,340.7L990.0,340.7L991.0,340.6L992.0,340.6L993.0,340.6L994.0,340.5L995.0,340.5L996.0,340.5L997.0,340.4L998.0,340.4L999.0,340.4L1000.0,340.3L1001.0,340.3L1002.0,340.3L1003.0,340.3L1004.0,340.2L1005.0,340.2L1006.0,340.2L1007.0,340.1L1008.0,340.1L1009.0,340.1L1010.0,340.1L1011.0,340.0L1012.0,340.0L1013.0,340.0L1014.0,340.0L1015.0,339.9L1016.0,339.9L1017.0,339.9L1018.0,339.9L1019.0,339.8L1020.0,339.8L1021.0,339.8L1022.0,339.8L1023.0,339.8L1024.0,339.7L1025.0,339.7L1026.0,339.7L1027.0,339.7L1028.0,339.7L1029.0,339.6L1030.0,339.6L1031.0,339.6L1032.0,339.6L1033.0,339.6L1034.0,339.5L1035.0,339.5L1036.0,339.5L1037.0,339.5L1038.0,339.5L1039.0,339.4L1040.0,339.4L1041.0,339.4L1042.0,339.4L1043.0,339.4L1044.0,339.4L1045.0,339.4L1046.0,339.3L1047.0,339.3L1048.0,339.3L1049.0,339.3L1050.0,339.3L1051.0,339.3L1052.0,339.3L1053.0,339.2L1054.0,339.2L1055.0,339.2L1056.0,339.2L1057.0,339.2L1058.0,339.2L1059.0,339.2L1060.0,339.1L1061.0,339.1L1062.0,339.1L1063.0,339.1L1064.0,339.1L1065.0,339.1L1066.0,339.1L1067.0,339.1L1068.0,339.1L1069.0,339.1L1070.0,339.0L1071.0,339.0L1072.0,339.0L1073.0,339.0L1074.0,339.0L1075.0,339.0L1076.0,339.0L1077.0,339.0L1078.0,339.0L1079.0,339.0L1080.0,338.9L1081.0,338.9L1082.0,338.9L1083.0,338.9L1084.0,338.9L1085.0,338.9L1086.0,338.9L1087.0,338.9L1088.0,338.9L1089.0,338.9L1090.0,338.9L1091.0,338.9L1092.0,338.9L1093.0,338.9L1094.0,338.9L1095.0,338.8L1096.0,338.8L1097.0,338.8L1098.0,338.8L1099.0,338.8L1100.0,338.8L1101.0,338.8L1102.0,338.8L1103.0,338.8L1104.0,338.8L1105.0,338.8L1106.0,338.8L1107.0,338.8L1108.0,338.8L1109.0,338.8L1110.0,338.8L1111.0,338.8L1112.0,338.8L1113.0,338.8L1114.0,338.8L1115.0,338.8L1116.0,338.8L1117.0,338.8L1118.0,338.8L1119.0,338.8L1120.0,338.8L1121.0,338.8L1122.0,338.8L1123.0,338.8L1124.0,338.8L1125.0,338.8L1126.0,338.8L1127.0,338.8L1128.0,338.8" stroke="#00f400"/>
<path d="M99.0,338.8L100.0,338.8L101.0,338.8L102.0,338.8L103.0,338.8L104.0,338.8L105.0,338.8L106.0,338.8L107.0,338.8L108.0,338.8L109.0,338.8L110.0,338.8L111.0,338.8L112.0,338.8L113.0,338.8L114.0,338.8L115.0,338.8L116.0,338.8L117.0,338.8L118.0,338.8L119.0,338.8L120.0,338.8L121.0,338.8L122.0,338.8L123.0,338.8L124.0,338.8L125.0,338.8L126.0,338.8L127.0,338.8L128.0,338.8L129.0,338.8L130.0,338.8L131.0,338.8L132.0,338.8L133.0,338.8L134.0,338.8L135.0,338.8L136.0,338.8L137.0,338.8L138.0,338.8L139.0,338.8L140.0,338.8L141.0,338.8L142.0,338.8L143.0,338.8L144.0,338.8L145.0,338.8L146.0,338.8L147.0,338.8L148.0,338.8L149.0,338.8L150.0,338.8L151.0,338.8L152.0,338.8L153.0,338.8L154.0,338.8L155.0,338.8L156.0,338.8L157.0,338.8L158.0,338.8L159.0,338.8L160.0,338.8L161.0,338.8L162.0,338.8L163.0,338.8L164.0,338.8L165.0,338.8L166.0,338.8L167.0,338.8L168.0,338.8L169.0,338.8L170.0,338.8L171.0,338.8L172.0,338.8L173.0,338.8L174.0,338.8L175.0,338.8L176.0,338.8L177.0,338.8L178.0,338.8L179.0,338.8L180.0,338.8L181.0,338.8L182.0,338.8L183.0,338.8L184.0,338.8L185.0,338.8L186.0,338.8L187.0,338.8L188.0,338.8L189.0,338.8L190.0,338.8L191.0,338.8L192.0,338.8L193.0,338.8L194.0,338.8L195.0,338.8L196.0,338.8L197.0,338.8L198.0,338.8L199.0,338.8L200.0,338.8L201.0,338.8L202.0,338.8L203.0,338.8L204.0,338.8L205.0,338.8L206.0,338.8L207.0,338.8L208.0,338.8L209.0,338.8L210.0,338.8L211.0,338.8L212.0,338.8L213.0,338.8L214.0,338.8L215.0,338.8L216.0,338.8L217.0,338.8L218.0,338.8L219.0,338.8L220.0,338.8L221.0,338.8L222.0,338.8L223.0,338.8L224.0,338.8L225.0,338.8L226.0,338.8L227.0,338.8L228.0,338.8L229.0,338.8L230.0,338.8L231.0,338.8L232.0,338.8L233.0,338.8L234.0,338.8L235.0,338.8L236.0,338.8L237.0,338.8L238.0,338.8L239.0,338.8L240.0,338.8L241.0,338.8L242.0,338.8L243.0,338.8L244.0,338.8L245.0,338.8L246.0,338.8L247.0,338.8L248.0,338.8L249.0,338.8L250.0,338.8L251.0,338.8L252.0,338.8L253.0,338.8L254.0,338.8L255.0,338.8L256.0,338.8L257.0,338.8L258.0,338.8L259.0,338.8L260.0,338.8L261.0,338.8L262.0,338.8L263.0,338.8L264.0,338.8L265.0,338.8L266.0,338.8L267.0,338.8L268.0,338.8L269.0,338.8L270.0,338.8L271.0,338.8L272.0,338.8L273.0,338.8L274.0,338.8L275.0,338.8L276.0,338.8L277.0,338.8L278.0,338.8L279.0,338.8L280.0,338.8L281.0,338.8L282.0,338.8L283.0,338.8L284.0,338.8L285.0,338.8L286.0,338.8L287.0,338.8L288.0,338.8L289.0,338.8L290.0,338.8L291.0,338.8L292.0,338.8L293.0,338.8L294.0,338.8L295.0,338.8L296.0,338.8L297.0,338.8L298.0,338.8L299.0,338.8L300.0,338.8L301.0,338.8L302.0,338.8L303.0,338.8L304.0,338.8L305.0,338.8L306.0,338.8L307.0,338.8L308.0,338.8L309.0,338.8L310.0,338.8L311.0,338.8L312.0,338.8L313.0,338.8L314.0,338.8L315.0,338.8L316.0,338.8L317.0,338.8L318.0,338.8L319.0,338.8L320.0,338.8L321.0,338.8L322.0,338.8L323.0,338.8L324.0,338.8L325.0,338.8L326.0,338.8L327.0,338.8L328.0,338.8L329.0,338.8L330.0,338.8L331.0,338.8L332.0,338.8L333.0,338.8L334.0,338.8L335.0,338.8L336.0,338.8L337.0,338.8L338.0,338.8L339.0,338.8L340.0,338.8L341.0,338.8L342.0,338.8L343.0,338.8L344.0,338.8L345.0,338.8L346.0,338.8L347.0,338.8L348.0,338.8L349.0,338.8L350.0,338.8L351.0,338.8L352.0,338.8L353.0,338.8L354.0,338.8L355.0,338.8L356.0,338.8L357.0,338.8L358.0,338.8L359.0,338.8L360.0,338.8L361.0,338.8L362.0,338.8L363.0,338.8L364.0,338.8L365.0,338.8L366.0,338.8L367.0,338.8L368.0,338.8L369.0,338.8L370.0,338.8L371.0,338.8L372.0,338.8L373.0,338.8L374.0,338.8L375.0,338.8L376.0,338.8L377.0,338.8L378.0,338.8L379.0,338.8L380.0,338.8L381.0,338.8L382.0,338.8L383.0,338.8L384.0,338.8L385.0,338.8L386.0,338.8L387.0,338.8L388.0,338.8L389.0,338.8L390.0,338.8L391.0,338.8L392.0,338.8L393.0,338.8L394.0,338.8L395.0,338.8L396.0,338.8L397.0,338.8L398.0,338.8L399.0,338.8L400.0,338.8L401.0,338.8L402.0,338.8L403.0,338.8L404.0,338.8L405.0,338.8L406.0,338.8L407.0,338.8L408.0,338.8L409.0,338.8L410.0,338.8L411.0,338.8L412.0,338.8L413.0,338.8L414.0,338.8L415.0,338.8L416.0,338.8L417.0,338.8L418.0,338.8L419.0,338.8L420.0,338.8L421.0,338.8L422.0,338.8L423.0,338.8L424.0,338.8L425.0,338.8L426.0,338.8L427.0,338.8L428.0,338.8L429.0,338.8L430.0,338.8L431.0,338.8L432.0,338.8L433.0,338.8L434.0,338.8L435.0,338.8L436.0,338.8L437.0,338.8L438.0,338.8L439.0,338.8L440.0,338.8L441.0,338.8L442.0,338.8L443.0,338.8L444.0,338.9L445.0,338.9L446.0,338.9L447.0,338.9L448.0,338.9L449.0,338.9L450.0,338.9L451.0,338.9L452.0,338.9L453.0,338.9L454.0,338.9L455.0,338.9L456.0,338.9L457.0,338.9L458.0,338.9L459.0,338.9L460.0,338.9L461.0,338.9L462.0,338.9L463.0,338.9L464.0,338.9L465.0,338.9L466.0,338.9L467.0,338.9L468.0,338.9L469.0,338.9L470.0,338.9L471.0,338.9L472.0,338.9L473.0,338.9L474.0,338.9L475.0,338.9L476.0,338.9L477.0,338.9L478.0,338.9L479.0,338.9L480.0,338.9L481.0,338.9L482.0,338.9L483.0,338.9L484.0,338.9L485.0,338.9L486.0,338.9L487.0,338.9L488.0,338.9L489.0,338.9L490.0,338.9L491.0,338.9L492.0,338.9L493.0,338.9L494.0,338.9L495.0,339.0L496.0,339.0L497.0,339.0L498.0,339.0L499.0,339.0L500.0,339.0L501.0,339.0L502.0,339.0L503.0,339.0L504.0,339.0L505.0,339.0L506.0,339.0L507.0,339.0L508.0,339.0L509.0,339.0L510.0,339.0L511.0,339.0L512.0,339.0L513.0,339.0L514.0,339.0L515.0,339.0L516.0,339.0L517.0,339.0L518.0,339.0L519.0,339.0L520.0,339.0L521.0,339.0L522.0,339.0L523.0,339.0L524.0,339.1L525.0,339.1L526.0,339.1L527.0,339.1L528.0,339.1L529.0,339.1L530.0,339.1L531.0,339.1L532.0,339.1L533.0,339.1L534.0,339.1L535.0,339.1L536.0,339.1L537.0,339.1L538.0,339.1L539.0,339.1L540.0,339.1L541.0,339.1L542.0,339.1L543.0,339.1L544.0,339.1L545.0,339.2L546.0,339.2L547.0,339.2L548.0,339.2L549.0,339.2L550.0,339.2L551.0,339.2L552.0,339.2L553.0,339.2L554.0,339.2L555.0,339.2L556.0,339.2L557.0,339.2L558.0,339.2L559.0,339.2L560.0,339.2L561.0,339.2L562.0,339.3L563.0,339.3L564.0,339.3L565.0,339.3L566.0,339.3L567.0,339.3L568.0,339.3L569.0,339.3L570.0,339.3L571.0,339.3L572.0,339.3L573.0,339.3L574.0,339.3L575.0,339.4L576.0,339.4L577.0,339.4L578.0,339.4L579.0,339.4L580.0,339.4L581.0,339.4L582.0,339.4L583.0,339.4L584.0,339.4L585.0,339.4L586.0,339.5L587.0,339.5L588.0,339.5L589.0,339.5L590.0,339.5L591.0,339.5L592.0,339.5L593.0,339.5L594.0,339.5L595.0,339.5L596.0,339.6L597.0,339.6L598.0,339.6L599.0,339.6L600.0,339.6L601.0,339.6L602.0,339.6L603.0,339.6L604.0,339.7L605.0,339.7L606.0,339.7L607.0,339.7L608.0,339.7L609.0,339.7L610.0,339.7L611.0,339.7L612.0,339.8L613.0,339.8L614.0,339.8L615.0,339.8L616.0,339.8L617.0,339.8L618.0,339.9L619.0,339.9L620.0,339.9L621.0,339.9L622.0,339.9L623.0,339.9L624.0,339.9L625.0,340.0L626.0,340.0L627.0,340.0L628.0,340.0L629.0,340.0L630.0,340.1L631.0,340.1L632.0,340.1L633.0,340.1L634.0,340.1L635.0,340.1L636.0,340.2L637.0,340.2L638.0,340.2L639.0,340.2L640.0,340.2L641.0,340.3L642.0,340.3L643.0,340.3L644.0,340.3L645.0,340.4L646.0,340.4L647.0,340.4L648.0,340.4L649.0,340.5L650.0,340.5L651.0,340.5L652.0,340.5L653.0,340.6L654.0,340.6L655.0,340.6L656.0,340.6L657.0,340.7L658.0,340.7L659.0,340.7L660.0,340.7L661.0,340.8L662.0,340.8L663.0,340.8L664.0,340.9L665.0,340.9L666.0,340.9L667.0,340.9L668.0,341.0L669.0,341.0L670.0,341.0L671.0,341.1L672.0,341.1L673.0,341.1L674.0,341.2L675.0,341.2L676.0,341.2L677.0,341.3L678.0,341.3L679.0,341.4L680.0,341.4L681.0,341.4L682.0,341.5L683.0,341.5L684.0,341.6L685.0,341.6L686.0,341.6L687.0,341.7L688.0,341.7L689.0,341.8L690.0,341.8L691.0,341.8L692.0,341.9L693.0,341.9L694.0,342.0L695.0,342.0L696.0,342.1L697.0,342.1L698.0,342.2L699.0,342.2L700.0,342.3L701.0,342.3L702.0,342.4L703.0,342.4L704.0,342.5L705.0,342.5L706.0,342.6L707.0,342.7L708.0,342.7L709.0,342.8L710.0,342.8L711.0,342.9L712.0,343.0L713.0,343.0L714.0,343.1L715.0,343.1L716.0,343.2L717.0,343.3L718.0,343.3L719.0,343.4L720.0,343.5L721.0,343.6L722.0,343.6L723.0,343.7L724.0,343.8L725.0,343.8L726.0,343.9L727.0,344.0L728.0,344.1L729.0,344.2L730.0,344.2L731.0,344.3L732.0,344.4L733.0,344.5L734.0,344.6L735.0,344.7L736.0,344.8L737.0,344.9L738.0,344.9L739.0,345.0L740.0,345.1L741.0,345.2L742.0,345.3L743.0,345.4L744.0,345.5L745.0,345.6L746.0,345.7L747.0,345.8L748.0,346.0L749.0,346.1L750.0,346.2L751.0,346.3L752.0,346.4L753.0,346.5L754.0,346.6L755.0,346.8L756.0,346.9L757.0,347.0L758.0,347.1L759.0,347.3L760.0,347.4L761.0,347.5L762.0,347.7L763.0,347.8L764.0,348.0L765.0,348.1L766.0,348.2L767.0,348.4L768.0,348.5L769.0,348.7L770.0,348.9L771.0,349.0L772.0,349.2L773.0,349.3L774.0,349.5L775.0,349.7L776.0,349.9L777.0,350.0L778.0,350.2L779.0,350.4L780.0,350.6L781.0,350.8L782.0,351.0L783.0,351.1L784.0,351.3L785.0,351.5L786.0,351.7L787.0,352.0L788.0,352.2L789.0,352.4L790.0,352.6L791.0,352.8L792.0,353.0L793.0,353.3L794.0,353.5L795.0,353.7L796.0,354.0L797.0,354.2L798.0,354.5L799.0,354.7L800.0,355.0L801.0,355.2L802.0,355.5L803.0,355.8L804.0,356.1L805.0,356.3L806.0,356.6L807.0,356.9L808.0,357.2L809.0,357.5L810.0,357.8L811.0,358.1L812.0,358.4L813.0,358.7L814.0,359.0L815.0,359.4L816.0,359.7L817.0,360.0L818.0,360.4L819.0,360.7L820.0,361.1L821.0,361.4L822.0,361.8L823.0,362.1L824.0,362.5L825.0,362.9L826.0,363.3L827.0,363.6L828.0,364.0L829.0,364.4L830.0,364.8L831.0,365.2L832.0,365.6L833.0,366.0L834.0,366.4L835.0,366.9L836.0,367.3L837.0,367.7L838.0,368.1L839.0,368.6L840.0,369.0L841.0,369.5L842.0,369.9L843.0,370.3L844.0,370.8L845.0,371.2L846.0,371.7L847.0,372.1L848.0,372.6L849.0,373.1L850.0,373.5L851.0,374.0L852.0,374.4L853.0,374.9L854.0,375.3L855.0,375.8L856.0,376.3L857.0,376.7L858.0,377.2L859.0,377.6L860.0,378.0L861.0,378.5L862.0,378.9L863.0,379.3L864.0,379.7L865.0,380.1L866.0,380.5L867.0,380.9L868.0,381.3L869.0,381.7L870.0,382.0L871.0,382.4L872.0,382.7L873.0,383.0L874.0,383.3L875.0,383.6L876.0,383.9L877.0,384.2L878.0,384.4L879.0,384.7L880.0,384.9L881.0,385.0L882.0,385.2L883.0,385.4L884.0,385.5L885.0,385.6L886.0,385.7L887.0,385.8L888.0,385.8L889.0,385.8L890.0,385.8L891.0,385.8L892.0,385.8L893.0,385.7L894.0,385.6L895.0,385.5L896.0,385.4L897.0,385.3L898.0,385.1L899.0,384.9L900.0,384.7L901.0,384.5L902.0,384.2L903.0,384.0L904.0,383.7L905.0,383.4L906.0,383.1L907.0,382.8L908.0,382.4L909.0,382.1L910.0,381.7L911.0,381.3L912.0,380.9L913.0,380.5L914.0,380.1L915.0,379.7L916.0,379.2L917.0,378.8L918.0,378.3L919.0,377.9L920.0,377.4L921.0,376.9L922.0,376.4L923.0,376.0L924.0,375.5L925.0,375.0L926.0,374.5L927.0,374.0L928.0,373.5L929.0,373.0L930.0,372.5L931.0,372.0L932.0,371.5L933.0,371.1L934.0,370.6L935.0,370.1L936.0,369.6L937.0,369.1L938.0,368.6L939.0,368.1L940.0,367.7L941.0,367.2L942.0,366.7L943.0,366.3L944.0,365.8L945.0,365.3L946.0,364.9L947.0,364.5L948.0,364.0L949.0,363.6L950.0,363.1L951.0,362.7L952.0,362.3L953.0,361.9L954.0,361.5L955.0,361.1L956.0,360.7L957.0,360.3L958.0,359.9L959.0,359.5L960.0,359.1L961.0,358.7L962.0,358.4L963.0,358.0L964.0,357.7L965.0,357.3L966.0,357.0L967.0,356.6L968.0,356.3L969.0,355.9L970.0,355.6L971.0,355.3L972.0,355.0L973.0,354.7L974.0,354.4L975.0,354.1L976.0,353.8L977.0,353.5L978.0,353.2L979.0,352.9L980.0,352.6L981.0,352.4L982.0,352.1L983.0,351.8L984.0,351.6L985.0,351.3L986.0,351.1L987.0,350.8L988.0,350.6L989.0,350.4L990.0,350.1L991.0,349.9L992.0,349.7L993.0,349.5L994.0,349.2L995.0,349.0L996.0,348.8L997.0,348.6L998.0,348.4L999.0,348.2L1000.0,348.0L1001.0,347.8L1002.0,347.6L1003.0,347.4L1004.0,347.3L1005.0,347.1L1006.0,346.9L1007.0,346.7L1008.0,346.6L1009.0,346.4L1010.0,346.2L1011.0,346.1L1012.0,345.9L1013.0,345.8L1014.0,345.6L1015.0,345.5L1016.0,345.3L1017.0,345.2L1018.0,345.0L1019.0,344.9L1020.0,344.7L1021.0,344.6L1022.0,344.5L1023.0,344.4L1024.0,344.2L1025.0,344.1L1026.0,344.0L1027.0,343.9L1028.0,343.7L1029.0,343.6L1030.0,343.5L1031.0,343.4L1032.0,343.3L1033.0,343.2L1034.0,343.1L1035.0,343.0L1036.0,342.9L1037.0,342.8L1038.0,342.7L1039.0,342.6L1040.0,342.5L1041.0,342.4L1042.0,342.3L1043.0,342.2L1044.0,342.1L1045.0,342.0L1046.0,341.9L1047.0,341.8L1048.0,341.8L1049.0,341.7L1050.0,341.6L1051.0,341.5L1052.0,341.4L1053.0,341.4L1054.0,341.3L1055.0,341.2L1056.0,341.1L1057.0,341.1L1058.0,341.0L1059.0,340.9L1060.0,340.9L1061.0,340.8L1062.0,340.7L1063.0,340.7L1064.0,340.6L1065.0,340.6L1066.0,340.5L1067.0,340.4L1068.0,340.4L1069.0,340.3L1070.0,340.3L1071.0,340.2L1072.0,340.2L1073.0,340.1L1074.0,340.1L1075.0,340.0L1076.0,340.0L1077.0,339.9L1078.0,339.9L1079.0,339.8L1080.0,339.8L1081.0,339.7L1082.0,339.7L1083.0,339.7L1084.0,339.6L1085.0,339.6L1086.0,339.5L1087.0,339.5L1088.0,339.5L1089.0,339.4L1090.0,339.4L1091.0,339.4L1092.0,339.3L1093.0,339.3L1094.0,339.3L1095.0,339.2L1096.0,339.2L1097.0,339.2L1098.0,339.2L1099.0,339.1L1100.0,339.1L1101.0,339.1L1102.0,339.0L1103.0,339.0L1104.0,339.0L1105.0,339.0L1106.0,339.0L1107.0,338.9L1108.0,338.9L1109.0,338.9L1110.0,338.9L1111.0,338.9L1112.0,338.9L1113.0,338.8L1114.0,338.8L1115.0,338.8L1116.0,338.8L1117.0,338.8L1118.0,338.8L1119.0,338.8L1120.0,338.8L1121.0,338.8L1122.0,338.8L1123.0,338.8L1124.0,338.8L1125.0,338.8L1126.0,338.8L1127.0,338.8L1128.0,338.8" stroke="#6aa82e"/>
<path d="M99.0,338.8L100.0,338.8L101.0,338.8L102.0,338.8L103.0,338.8L104.0,338.8L105.0,338.8L106.0,338.8L107.0,338.8L108.0,338.8L109.0,338.8L110.0,338.8L111.0,338.8L112.0,338.8L113.0,338.8L114.0,338.8L115.0,338.8L116.0,338.8L117.0,338.8L118.0,338.8L119.0,338.8L120.0,338.8L121.0,338.8L122.0,338.8L123.0,338.8L124.0,338.8L125.0,338.8L126.0,338.8L127.0,338.8L128.0,338.8L129.0,338.8L130.0,338.8L131.0,338.8L132.0,338.8L133.0,338.8L134.0,338.8L135.0,338.8L136.0,338.8L137.0,338.8L138.0,338.8L139.0,338.8L140.0,338.8L141.0,338.8L142.0,338.8L143.0,338.8L144.0,338.8L145.0,338.8L146.0,338.8L147.0,338.8L148.0,338.8L149.0,338.8L150.0,338.8L151.0,338.8L152.0,338.8L153.0,338.8L154.0,338.8L155.0,338.8L156.0,338.8L157.0,338.8L158.0,338.8L159.0,338.8L160.0,338.8L161.0,338.8L162.0,338.8L163.0,338.8L164.0,338.8L165.0,338.8L166.0,338.8L167.0,338.8L168.0,338.8L169.0,338.8L170.0,338.8L171.0,338.8L172.0,338.8L173.0,338.8L174.0,338.8L175.0,338.8L176.0,338.8L177.0,338.8L178.0,338.8L179.0,338.8L180.0,338.8L181.0,338.8L182.0,338.8L183.0,338.8L184.0,338.8L185.0,338.8L186.0,338.8L187.0,338.8L188.0,338.8L189.0,338.8L190.0,338.8L191.0,338.8L192.0,338.8L193.0,338.8L194.0,338.8L195.0,338.8L196.0,338.8L197.0,338.8L198.0,338.8L199.0,338.8L200.0,338.8L201.0,338.8L202.0,338.8L203.0,338.8L204.0,338.8L205.0,338.8L206.0,338.8L207.0,338.8L208.0,338.8L209.0,338.8L210.0,338.8L211.0,338.8L212.0,338.8L213.0,338.8L214.0,338.8L215.0,338.8L216.0,338.8L217.0,338.8L218.0,338.8L219.0,338.8L220.0,338.8L221.0,338.8L222.0,338.8L223.0,338.8L224.0,338.8L225.0,338.8L226.0,338.8L227.0,338.8L228.0,338.8L229.0,338.8L230.0,338.8L231.0,338.8L232.0,338.8L233.0,338.8L234.0,338.8L235.0,338.8L236.0,338.8L237.0,338.8L238.0,338.8L239.0,338.8L240.0,338.8L241.0,338.8L242.0,338.8L243.0,338.8L244.0,338.8L245.0,338.8L246.0,338.8L247.0,338.8L248.0,338.8L249.0,338.8L250.0,338.8L251.0,338.8L252.0,338.8L253.0,338.8L254.0,338.8L255.0,338.8L256.0,338.8L257.0,338.8L258.0,338.8L259.0,338.8L260.0,338.8L261.0,338.8L262.0,338.8L263.0,338.8L264.0,338.8L265.0,338.8L266.0,338.8L267.0,338.8L268.0,338.8L269.0,338.8L270.0,338.8L271.0,338.8L272.0,338.8L273.0,338.8L274.0,338.8L275.0,338.8L276.0,338.8L277.0,338.8L278.0,338.8L279.0,338.8L280.0,338.8L281.0,338.8L282.0,338.8L283.0,338.8L284.0,338.8L285.0,338.8L286.0,338.8L287.0,338.8L288.0,338.8L289.0,338.8L290.0,338.8L291.0,338.8L292.0,338.8L293.0,338.8L294.0,338.8L295.0,338.8L296.0,338.8L297.0,338.8L298.0,338.8L299.0,338.8L300.0,338.8L301.0,338.8L302.0,338.8L303.0,338.8L304.0,338.8L305.0,338.8L306.0,338.8L307.0,338.8L308.0,338.8L309.0,338.8L310.0,338.8L311.0,338.8L312.0,338.8L313.0,338.8L314.0,338.8L315.0,338.8L316.0,338.8L317.0,338.8L318.0,338.8L319.0,338.8L320.0,338.8L321.0,338.8L322.0,338.8L323.0,338.8L324.0,338.8L325.0,338.8L326.0,338.8L327.0,338.8L328.0,338.8L329.0,338.8L330.0,338.8L331.0,338.8L332.0,338.8L333.0,338.8L334.0,338.8L335.0,338.8L336.0,338.8L337.0,338.8L338.0,338.8L339.0,338.8L340.0,338.8L341.0,338.8L342.0,338.8L343.0,338.8L344.0,338.8L345.0,338.8L346.0,338.8L347.0,338.8L348.0,338.8L349.0,338.8L350.0,338.8L351.0,338.8L352.0,338.8L353.0,338.8L354.0,338.8L355.0,338.8L356.0,338.8L357.0,338.8L358.0,338.8L359.0,338.8L360.0,338.8L361.0,338.8L362.0,338.8L363.0,338.8L364.0,338.8L365.0,338.8L366.0,338.8L367.0,338.8L368.0,338.8L369.0,338.8L370.0,338.8L371.0,338.8L372.0,338.8L373.0,338.8L374.0,338.8L375.0,338.8L376.0,338.8L377.0,338.8L378.0,338.8L379.0,338.8L380.0,338.8L381.0,338.8L382.0,338.8L383.0,338.8L384.0,338.8L385.0,338.8L386.0,338.8L387.0,338.8L388.0,338.8L389.0,338.8L390.0,338.8L391.0,338.8L392.0,338.8L393.0,338.8L394.0,338.8L395.0,338.8L396.0,338.8L397.0,338.8L398.0,338.8L399.0,338.8L400.0,338.8L401.0,338.8L402.0,338.8L403.0,338.8L404.0,338.8L405.0,338.8L406.0,338.8L407.0,338.8L408.0,338.8L409.0,338.8L410.0,338.8L411.0,338.8L412.0,338.8L413.0,338.8L414.0,338.8L415.0,338.8L416.0,338.8L417.0,338.8L418.0,338.8L419.0,338.8L420.0,338.8L421.0,338.8L422.0,338.8L423.0,338.8L424.0,338.8L425.0,338.8L426.0,338.8L427.0,338.8L428.0,338.8L429.0,338.8L430.0,338.8L431.0,338.8L432.0,338.8L433.0,338.8L434.0,338.8L435.0,338.8L436.0,338.8L437.0,338.8L438.0,338.8L439.0,338.8L440.0,338.8L441.0,338.8L442.0,338.8L443.0,338.8L444.0,338.8L445.0,338.8L446.0,338.8L447.0,338.8L448.0,338.8L449.0,338.8L450.0,338.8L451.0,338.8L452.0,338.8L453.0,338.8L454.0,338.8L455.0,338.8L456.0,338.8L457.0,338.8L458.0,338.8L459.0,338.8L460.0,338.8L461.0,338.8L462.0,338.8L463.0,338.8L464.0,338.8L465.0,338.8L466.0,338.8L467.0,338.8L468.0,338.8L469.0,338.8L470.0,338.8L471.0,338.8L472.0,338.8L473.0,338.8L474.0,338.8L475.0,338.8L476.0,338.8L477.0,338.8L478.0,338.8L479.0,338.8L480.0,338.8L481.0,338.8L482.0,338.8L483.0,338.8L484.0,338.8L485.0,338.8L486.0,338.8L487.0,338.8L488.0,338.8L489.0,338.8L490.0,338.8L491.0,338.8L492.0,338.8L493.0,338.8L494.0,338.8L495.0,338.8L496.0,338.8L497.0,338.8L498.0,338.8L499.0,338.8L500.0,338.8L501.0,338.8L502.0,338.8L503.0,338.8L504.0,338.8L505.0,338.8L506.0,338.8L507.0,338.8L508.0,338.8L509.0,338.8L510.0,338.8L511.0,338.8L512.0,338.8L513.0,338.8L514.0,338.8L515.0,338.8L516.0,338.8L517.0,338.8L518.0,338.8L519.0,338.8L520.0,338.8L521.0,338.8L522.0,338.8L523.0,338.8L524.0,338.8L525.0,338.8L526.0,338.8L527.0,338.8L528.0,338.8L529.0,338.8L530.0,338.8L531.0,338.8L532.0,338.8L533.0,338.8L534.0,338.8L535.0,338.8L536.0,338.8L537.0,338.8L538.0,338.8L539.0,338.8L540.0,338.8L541.0,338.8L542.0,338.8L543.0,338.8L544.0,338.8L545.0,338.8L546.0,338.8L547.0,338.8L548.0,338.8L549.0,338.8L550.0,338.8L551.0,338.8L552.0,338.8L553.0,338.8L554.0,338.8L555.0,338.8L556.0,338.8L557.0,338.8L558.0,338.8L559.0,338.8L560.0,338.8L561.0,338.8L562.0,338.8L563.0,338.8L564.0,338.8L565.0,338.8L566.0,338.8L567.0,338.8L568.0,338.8L569.0,338.9L570.0,338.9L571.0,338.9L572.0,338.9L573.0,338.9L574.0,338.9L575.0,338.9L576.0,338.9L577.0,338.9L578.0,338.9L579.0,338.9L580.0,338.9L581.0,338.9L582.0,338.9L583.0,338.9L584.0,338.9L585.0,338.9L586.0,338.9L587.0,338.9L588.0,338.9L589.0,338.9L590.0,338.9L591.0,338.9L592.0,338.9L593.0,338.9L594.0,338.9L595.0,338.9L596.0,338.9L597.0,338.9L598.0,338.9L599.0,338.9L600.0,338.9L601.0,338.9L602.0,338.9L603.0,338.9L604.0,338.9L605.0,338.9L606.0,338.9L607.0,338.9L608.0,338.9L609.0,338.9L610.0,338.9L611.0,338.9L612.0,338.9L613.0,338.9L614.0,338.9L615.0,338.9L616.0,338.9L617.0,338.9L618.0,338.9L619.0,338.9L620.0,339.0L621.0,339.0L622.0,339.0L623.0,339.0L624.0,339.0L625.0,339.0L626.0,339.0L627.0,339.0L628.0,339.0L629.0,339.0L630.0,339.0L631.0,339.0L632.0,339.0L633.0,339.0L634.0,339.0L635.0,339.0L636.0,339.0L637.0,339.0L638.0,339.0L639.0,339.0L640.0,339.0L641.0,339.0L642.0,339.0L643.0,339.0L644.0,339.0L645.0,339.0L646.0,339.0L647.0,339.0L648.0,339.0L649.0,339.1L650.0,339.1L651.0,339.1L652.0,339.1L653.0,339.1L654.0,339.1L655.0,339.1L656.0,339.1L657.0,339.1L658.0,339.1L659.0,339.1L660.0,339.1L661.0,339.1L662.0,339.1L663.0,339.1L664.0,339.1L665.0,339.1L666.0,339.1L667.0,339.1L668.0,339.1L669.0,339.1L670.0,339.2L671.0,339.2L672.0,339.2L673.0,339.2L674.0,339.2L675.0,339.2L676.0,339.2L677.0,339.2L678.0,339.2L679.0,339.2L680.0,339.2L681.0,339.2L682.0,339.2L683.0,339.2L684.0,339.2L685.0,339.2L686.0,339.3L687.0,339.3L688.0,339.3L689.0,339.3L690.0,339.3L691.0,339.3L692.0,339.3L693.0,339.3L694.0,339.3L695.0,339.3L696.0,339.3L697.0,339.3L698.0,339.3L699.0,339.3L700.0,339.4L701.0,339.4L702.0,339.4L703.0,339.4L704.0,339.4L705.0,339.4L706.0,339.4L707.0,339.4L708.0,339.4L709.0,339.4L710.0,339.4L711.0,339.5L712.0,339.5L713.0,339.5L714.0,339.5L715.0,339.5L716.0,339.5L717.0,339.5L718.0,339.5L719.0,339.5L720.0,339.6L721.0,339.6L722.0,339.6L723.0,339.6L724.0,339.6L725.0,339.6L726.0,339.6L727.0,339.6L728.0,339.6L729.0,339.7L730.0,339.7L731.0,339.7L732.0,339.7L733.0,339.7L734.0,339.7L735.0,339.7L736.0,339.7L737.0,339.8L738.0,339.8L739.0,339.8L740.0,339.8L741.0,339.8L742.0,339.8L743.0,339.9L744.0,339.9L745.0,339.9L746.0,339.9L747.0,339.9L748.0,339.9L749.0,339.9L750.0,340.0L751.0,340.0L752.0,340.0L753.0,340.0L754.0,340.0L755.0,340.1L756.0,340.1L757.0,340.1L758.0,340.1L759.0,340.1L760.0,340.1L761.0,340.2L762.0,340.2L763.0,340.2L764.0,340.2L765.0,340.2L766.0,340.3L767.0,340.3L768.0,340.3L769.0,340.3L770.0,340.4L771.0,340.4L772.0,340.4L773.0,340.4L774.0,340.5L775.0,340.5L776.0,340.5L777.0,340.5L778.0,340.5L779.0,340.6L780.0,340.6L781.0,340.6L782.0,340.7L783.0,340.7L784.0,340.7L785.0,340.7L786.0,340.8L787.0,340.8L788.0,340.8L789.0,340.9L790.0,340.9L791.0,340.9L792.0,340.9L793.0,341.0L794.0,341.0L795.0,341.0L796.0,341.1L797.0,341.1L798.0,341.1L799.0,341.2L800.0,341.2L801.0,341.2L802.0,341.3L803.0,341.3L804.0,341.4L805.0,341.4L806.0,341.4L807.0,341.5L808.0,341.5L809.0,341.5L810.0,341.6L811.0,341.6L812.0,341.7L813.0,341.7L814.0,341.8L815.0,341.8L816.0,341.8L817.0,341.9L818.0,341.9L819.0,342.0L820.0,342.0L821.0,342.1L822.0,342.1L823.0,342.2L824.0,342.2L825.0,342.3L826.0,342.3L827.0,342.4L828.0,342.4L829.0,342.5L830.0,342.5L831.0,342.6L832.0,342.7L833.0,342.7L834.0,342.8L835.0,342.8L836.0,342.9L837.0,342.9L838.0,343.0L839.0,343.1L840.0,343.1L841.0,343.2L842.0,343.3L843.0,343.3L844.0,343.4L845.0,343.5L846.0,343.5L847.0,343.6L848.0,343.7L849.0,343.8L850.0,343.8L851.0,343.9L852.0,344.0L853.0,344.1L854.0,344.1L855.0,344.2L856.0,344.3L857.0,344.4L858.0,344.5L859.0,344.6L860.0,344.7L861.0,344.7L862.0,344.8L863.0,344.9L864.0,345.0L865.0,345.1L866.0,345.2L867.0,345.3L868.0,345.4L869.0,345.5L870.0,345.6L871.0,345.7L872.0,345.8L873.0,345.9L874.0,346.0L875.0,346.2L876.0,346.3L877.0,346.4L878.0,346.5L879.0,346.6L880.0,346.8L881.0,346.9L882.0,347.0L883.0,347.1L884.0,347.3L885.0,347.4L886.0,347.5L887.0,347.7L888.0,347.8L889.0,348.0L890.0,348.1L891.0,348.2L892.0,348.4L893.0,348.5L894.0,348.7L895.0,348.9L896.0,349.0L897.0,349.2L898.0,349.4L899.0,349.5L900.0,349.7L901.0,349.9L902.0,350.1L903.0,350.2L904.0,350.4L905.0,350.6L906.0,350.8L907.0,351.0L908.0,351.2L909.0,351.4L910.0,351.6L911.0,351.8L912.0,352.0L913.0,352.3L914.0,352.5L915.0,352.7L916.0,352.9L917.0,353.2L918.0,353.4L919.0,353.6L920.0,353.9L921.0,354.2L922.0,354.4L923.0,354.7L924.0,354.9L925.0,355.2L926.0,355.5L927.0,355.8L928.0,356.1L929.0,356.4L930.0,356.7L931.0,357.0L932.0,357.3L933.0,357.6L934.0,357.9L935.0,358.2L936.0,358.6L937.0,358.9L938.0,359.3L939.0,359.6L940.0,360.0L941.0,360.3L942.0,360.7L943.0,361.1L944.0,361.5L945.0,361.9L946.0,362.3L947.0,362.7L948.0,363.1L949.0,363.6L950.0,364.0L951.0,364.4L952.0,364.9L953.0,365.4L954.0,365.8L955.0,366.3L956.0,366.8L957.0,367.3L958.0,367.8L959.0,368.3L960.0,368.8L961.0,369.4L962.0,369.9L963.0,370.5L964.0,371.0L965.0,371.6L966.0,372.2L967.0,372.8L968.0,373.4L969.0,374.0L970.0,374.6L971.0,375.2L972.0,375.9L973.0,376.5L974.0,377.2L975.0,377.8L976.0,378.5L977.0,379.2L978.0,379.9L979.0,380.6L980.0,381.3L981.0,382.0L982.0,382.7L983.0,383.4L984.0,384.2L985.0,384.9L986.0,385.6L987.0,386.4L988.0,387.1L989.0,387.9L990.0,388.6L991.0,389.4L992.0,390.1L993.0,390.9L994.0,391.6L995.0,392.3L996.0,393.0L997.0,393.7L998.0,394.4L999.0,395.1L1000.0,395.8L1001.0,396.4L1002.0,397.1L1003.0,397.7L1004.0,398.2L1005.0,398.8L1006.0,399.3L1007.0,399.8L1008.0,400.2L1009.0,400.6L1010.0,401.0L1011.0,401.3L1012.0,401.6L1013.0,401.8L1014.0,402.0L1015.0,402.2L1016.0,402.2L1017.0,402.2L1018.0,402.2L1019.0,402.1L1020.0,402.0L1021.0,401.8L1022.0,401.5L1023.0,401.2L1024.0,400.8L1025.0,400.4L1026.0,399.9L1027.0,399.4L1028.0,398.8L1029.0,398.2L1030.0,397.5L1031.0,396.7L1032.0,396.0L1033.0,395.2L1034.0,394.3L1035.0,393.5L1036.0,392.6L1037.0,391.6L1038.0,390.7L1039.0,389.7L1040.0,388.7L1041.0,387.7L1042.0,386.7L1043.0,385.6L1044.0,384.6L1045.0,383.5L1046.0,382.5L1047.0,381.4L1048.0,380.3L1049.0,379.3L1050.0,378.2L1051.0,377.2L1052.0,376.1L1053.0,375.1L1054.0,374.0L1055.0,373.0L1056.0,372.0L1057.0,371.0L1058.0,370.0L1059.0,369.1L1060.0,368.1L1061.0,367.2L1062.0,366.2L1063.0,365.3L1064.0,364.4L1065.0,363.5L1066.0,362.7L1067.0,361.8L1068.0,361.0L1069.0,360.2L1070.0,359.4L1071.0,358.6L1072.0,357.9L1073.0,357.1L1074.0,356.4L1075.0,355.7L1076.0,355.0L1077.0,354.3L1078.0,353.7L1079.0,353.0L1080.0,352.4L1081.0,351.8L1082.0,351.2L1083.0,350.6L1084.0,350.1L1085.0,349.5L1086.0,349.0L1087.0,348.5L1088.0,348.0L1089.0,347.5L1090.0,347.0L1091.0,346.6L1092.0,346.1L1093.0,345.7L1094.0,345.3L1095.0,344.9L1096.0,344.5L1097.0,344.1L1098.0,343.8L1099.0,343.4L1100.0,343.1L1101.0,342.8L1102.0,342.5L1103.0,342.2L1104.0,341.9L1105.0,341.6L1106.0,341.4L1107.0,341.1L1108.0,340.9L1109.0,340.7L1110.0,340.5L1111.0,340.3L1112.0,340.1L1113.0,339.9L1114.0,339.7L1115.0,339.6L1116.0,339.5L1117.0,339.3L1118.0,339.2L1119.0,339.1L1120.0,339.0L1121.0,338.9L1122.0,338.9L1123.0,338.8L1124.0,338.8L1125.0,338.8L1126.0,338.8L1127.0,338.8L1128.0,338.8" stroke="#e06060"/>
</g>
<path d="M99.0,341.8L100.0,341.9L101.0,341.9L102.0,342.0L103.0,342.1L104.0,342.2L105.0,342.2L106.0,342.3L107.0,342.4L108.0,342.5L109.0,342.6L110.0,342.6L111.0,342.7L112.0,342.8L113.0,342.9L114.0,343.0L115.0,343.1L116.0,343.2L117.0,343.3L118.0,343.4L119.0,343.6L120.0,343.7L121.0,343.8L122.0,343.9L123.0,344.1L124.0,344.2L125.0,344.4L126.0,344.5L127.0,344.7L128.0,344.8L129.0,345.0L130.0,345.2L131.0,345.3L132.0,345.5L133.0,345.7L134.0,345.9L135.0,346.1L136.0,346.3L137.0,346.6L138.0,346.8L139.0,347.0L140.0,347.3L141.0,347.6L142.0,347.8L143.0,348.1L144.0,348.4L145.0,348.8L146.0,349.1L147.0,349.4L148.0,349.8L149.0,350.2L150.0,350.6L151.0,351.0L152.0,351.5L153.0,351.9L154.0,352.4L155.0,353.0L156.0,353.5L157.0,354.1L158.0,354.7L159.0,355.4L160.0,356.0L161.0,356.8L162.0,357.5L163.0,358.3L164.0,359.2L165.0,360.1L166.0,361.1L167.0,362.2L168.0,363.3L169.0,364.4L170.0,365.7L171.0,367.0L172.0,368.5L173.0,370.0L174.0,371.6L175.0,373.4L176.0,375.2L177.0,377.2L178.0,379.3L179.0,381.6L180.0,384.0L181.0,386.5L182.0,389.2L183.0,392.1L184.0,395.1L185.0,398.3L186.0,401.6L187.0,405.1L188.0,408.6L189.0,412.2L190.0,415.8L191.0,419.3L192.0,422.7L193.0,425.8L194.0,428.6L195.0,431.0L196.0,433.0L197.0,434.4L198.0,435.3L199.0,435.7L200.0,435.6L201.0,435.2L202.0,434.4L203.0,433.5L204.0,432.4L205.0,431.4L206.0,430.3L207.0,429.3L208.0,428.3L209.0,427.5L210.0,426.7L211.0,426.0L212.0,425.2L213.0,424.4L214.0,423.5L215.0,422.4L216.0,421.2L217.0,419.7L218.0,417.9L219.0,415.9L220.0,413.7L221.0,411.3L222.0,408.7L223.0,406.0L224.0,403.3L225.0,400.6L226.0,397.9L227.0,395.2L228.0,392.7L229.0,390.3L230.0,387.9L231.0,385.8L232.0,383.7L233.0,381.8L234.0,380.0L235.0,378.3L236.0,376.8L237.0,375.4L238.0,374.1L239.0,372.9L240.0,371.8L241.0,370.8L242.0,369.9L243.0,369.1L244.0,368.4L245.0,367.7L246.0,367.1L247.0,366.7L248.0,366.2L249.0,365.9L250.0,365.6L251.0,365.4L252.0,365.2L253.0,365.2L254.0,365.1L255.0,365.2L256.0,365.3L257.0,365.5L258.0,365.7L259.0,366.0L260.0,366.4L261.0,366.8L262.0,367.4L263.0,368.0L264.0,368.7L265.0,369.5L266.0,370.4L267.0,371.4L268.0,372.5L269.0,373.7L270.0,375.1L271.0,376.6L272.0,378.2L273.0,380.0L274.0,382.0L275.0,384.2L276.0,386.6L277.0,389.1L278.0,391.9L279.0,395.0L280.0,398.2L281.0,401.7L282.0,405.5L283.0,409.4L284.0,413.6L285.0,417.9L286.0,422.3L287.0,426.7L288.0,431.0L289.0,435.2L290.0,439.1L291.0,442.6L292.0,445.6L293.0,448.2L294.0,450.4L295.0,452.1L296.0,453.5L297.0,454.7L298.0,455.6L299.0,456.4L300.0,456.8L301.0,457.0L302.0,456.7L303.0,455.8L304.0,454.2L305.0,451.8L306.0,448.6L307.0,444.6L308.0,440.1L309.0,435.2L310.0,430.0L311.0,424.7L312.0,419.5L313.0,414.5L314.0,409.6L315.0,405.0L316.0,400.7L317.0,396.7L318.0,392.9L319.0,389.4L320.0,386.2L321.0,383.2L322.0,380.5L323.0,378.0L324.0,375.6L325.0,373.5L326.0,371.5L327.0,369.6L328.0,367.9L329.0,366.3L330.0,364.9L331.0,363.5L332.0,362.2L333.0,361.1L334.0,360.0L335.0,358.9L336.0,358.0L337.0,357.1L338.0,356.3L339.0,355.5L340.0,354.7L341.0,354.0L342.0,353.4L343.0,352.8L344.0,352.2L345.0,351.7L346.0,351.1L347.0,350.6L348.0,350.2L349.0,349.7L350.0,349.3L351.0,348.9L352.0,348.6L353.0,348.2L354.0,347.9L355.0,347.5L356.0,347.2L357.0,346.9L358.0,346.6L359.0,346.4L360.0,346.1L361.0,345.9L362.0,345.6L363.0,345.4L364.0,345.2L365.0,345.0L366.0,344.8L367.0,344.6L368.0,344.4L369.0,344.2L370.0,344.0L371.0,343.9L372.0,343.7L373.0,343.5L374.0,343.4L375.0,343.2L376.0,343.1L377.0,343.0L378.0,342.8L379.0,342.7L380.0,342.6L381.0,342.5L382.0,342.3L383.0,342.2L384.0,342.1L385.0,342.0L386.0,341.9L387.0,341.8L388.0,341.7L389.0,341.6L390.0,341.5L391.0,341.4L392.0,341.3L393.0,341.2L394.0,341.2L395.0,341.1L396.0,341.0L397.0,340.9L398.0,340.8L399.0,340.8L400.0,340.7L401.0,340.6L402.0,340.5L403.0,340.5L404.0,340.4L405.0,340.3L406.0,340.3L407.0,340.2L408.0,340.1L409.0,340.1L410.0,340.0L411.0,339.9L412.0,339.9L413.0,339.8L414.0,339.7L415.0,339.7L416.0,339.6L417.0,339.5L418.0,339.5L419.0,339.4L420.0,339.3L421.0,339.3L422.0,339.2L423.0,339.2L424.0,339.1L425.0,339.0L426.0,339.0L427.0,338.9L428.0,338.8L429.0,338.8L430.0,338.7L431.0,338.6L432.0,338.5L433.0,338.5L434.0,338.4L435.0,338.3L436.0,338.2L437.0,338.2L438.0,338.1L439.0,338.0L440.0,337.9L441.0,337.8L442.0,337.7L443.0,337.7L444.0,337.6L445.0,337.5L446.0,337.4L447.0,337.3L448.0,337.2L449.0,337.1L450.0,337.0L451.0,337.0L452.0,336.9L453.0,336.8L454.0,336.8L455.0,336.7L456.0,336.7L457.0,336.6L458.0,336.6L459.0,336.6L460.0,336.7L461.0,336.7L462.0,336.8L463.0,336.9L464.0,337.1L465.0,337.3L466.0,337.5L467.0,337.8L468.0,338.2L469.0,338.6L470.0,339.1L471.0,339.6L472.0,340.3L473.0,341.0L474.0,341.8L475.0,342.8L476.0,343.8L477.0,345.0L478.0,346.3L479.0,347.7L480.0,349.3L481.0,351.0L482.0,352.9L483.0,355.0L484.0,357.3L485.0,359.7L486.0,362.4L487.0,365.3L488.0,368.4L489.0,371.8L490.0,375.4L491.0,379.3L492.0,383.4L493.0,387.8L494.0,392.4L495.0,397.3L496.0,402.2L497.0,407.2L498.0,412.1L499.0,416.6L500.0,420.5L501.0,423.4L502.0,424.9L503.0,424.7L504.0,422.7L505.0,418.9L506.0,413.6L507.0,407.1L508.0,399.8L509.0,392.2L510.0,384.4L511.0,376.8L512.0,369.5L513.0,362.7L514.0,356.5L515.0,351.0L516.0,346.3L517.0,342.3L518.0,339.1L519.0,336.7L520.0,335.0L521.0,334.1L522.0,333.7L523.0,333.9L524.0,334.6L525.0,335.7L526.0,337.1L527.0,338.8L528.0,340.7L529.0,342.8L530.0,345.1L531.0,347.6L532.0,350.2L533.0,353.0L534.0,355.8L535.0,358.8L536.0,361.9L537.0,365.0L538.0,368.3L539.0,371.5L540.0,374.7L541.0,377.8L542.0,380.7L543.0,383.4L544.0,385.6L545.0,387.5L546.0,388.7L547.0,389.4L548.0,389.4L549.0,388.8L550.0,387.6L551.0,386.0L552.0,384.0L553.0,381.7L554.0,379.3L555.0,376.7L556.0,374.2L557.0,371.6L558.0,369.1L559.0,366.8L560.0,364.5L561.0,362.4L562.0,360.4L563.0,358.5L564.0,356.8L565.0,355.1L566.0,353.6L567.0,352.2L568.0,350.9L569.0,349.7L570.0,348.5L571.0,347.5L572.0,346.5L573.0,345.6L574.0,344.7L575.0,343.9L576.0,343.2L577.0,342.5L578.0,341.8L579.0,341.2L580.0,340.6L581.0,340.1L582.0,339.5L583.0,339.0L584.0,338.6L585.0,338.1L586.0,337.7L587.0,337.3L588.0,336.9L589.0,336.5L590.0,336.2L591.0,335.8L592.0,335.5L593.0,335.2L594.0,334.9L595.0,334.6L596.0,334.3L597.0,334.1L598.0,333.8L599.0,333.6L600.0,333.3L601.0,333.1L602.0,332.9L603.0,332.7L604.0,332.5L605.0,332.3L606.0,332.1L607.0,332.0L608.0,331.8L609.0,331.7L610.0,331.5L611.0,331.4L612.0,331.3L613.0,331.2L614.0,331.1L615.0,331.0L616.0,330.9L617.0,330.8L618.0,330.8L619.0,330.7L620.0,330.7L621.0,330.7L622.0,330.7L623.0,330.7L624.0,330.7L625.0,330.8L626.0,330.8L627.0,330.9L628.0,331.0L629.0,331.1L630.0,331.2L631.0,331.4L632.0,331.5L633.0,331.7L634.0,331.9L635.0,332.1L636.0,332.3L637.0,332.5L638.0,332.8L639.0,333.1L640.0,333.4L641.0,333.7L642.0,334.0L643.0,334.3L644.0,334.7L645.0,335.1L646.0,335.5L647.0,335.9L648.0,336.3L649.0,336.7L650.0,337.2L651.0,337.7L652.0,338.1L653.0,338.6L654.0,339.1L655.0,339.6L656.0,340.1L657.0,340.6L658.0,341.1L659.0,341.6L660.0,342.2L661.0,342.7L662.0,343.2L663.0,343.7L664.0,344.2L665.0,344.6L666.0,345.1L667.0,345.6L668.0,346.0L669.0,346.4L670.0,346.8L671.0,347.1L672.0,347.4L673.0,347.7L674.0,348.0L675.0,348.2L676.0,348.3L677.0,348.4L678.0,348.5L679.0,348.4L680.0,348.4L681.0,348.2L682.0,348.0L683.0,347.8L684.0,347.4L685.0,347.0L686.0,346.5L687.0,345.9L688.0,345.3L689.0,344.6L690.0,343.9L691.0,343.1L692.0,342.3L693.0,341.4L694.0,340.6L695.0,339.8L696.0,339.1L697.0,338.5L698.0,338.1L699.0,337.8L700.0,337.7L701.0,337.8L702.0,338.2L703.0,338.9L704.0,339.8L705.0,341.1L706.0,342.6L707.0,344.4L708.0,346.3L709.0,348.5L710.0,350.8L711.0,353.2L712.0,355.7L713.0,358.3L714.0,360.8L715.0,363.3L716.0,365.8L717.0,368.2L718.0,370.6L719.0,372.8L720.0,375.0L721.0,377.0L722.0,378.9L723.0,380.8L724.0,382.5L725.0,384.1L726.0,385.6L727.0,387.0L728.0,388.3L729.0,389.4L730.0,390.5L731.0,391.5L732.0,392.4L733.0,393.2L734.0,394.0L735.0,394.6L736.0,395.2L737.0,395.7L738.0,396.2L739.0,396.5L740.0,396.9L741.0,397.1L742.0,397.4L743.0,397.5L744.0,397.7L745.0,397.8L746.0,397.8L747.0,397.8L748.0,397.8L749.0,397.7L750.0,397.7L751.0,397.6L752.0,397.4L753.0,397.3L754.0,397.1L755.0,396.9L756.0,396.7L757.0,396.5L758.0,396.3L759.0,396.0L760.0,395.8L761.0,395.5L762.0,395.3L763.0,395.0L764.0,394.7L765.0,394.4L766.0,394.1L767.0,393.8L768.0,393.5L769.0,393.2L770.0,393.0L771.0,392.7L772.0,392.4L773.0,392.1L774.0,391.8L775.0,391.5L776.0,391.2L777.0,390.9L778.0,390.7L779.0,390.4L780.0,390.1L781.0,389.9L782.0,389.6L783.0,389.4L784.0,389.1L785.0,388.9L786.0,388.7L787.0,388.4L788.0,388.2L789.0,388.0L790.0,387.8L791.0,387.6L792.0,387.4L793.0,387.3L794.0,387.1L795.0,386.9L796.0,386.8L797.0,386.6L798.0,386.5L799.0,386.4L800.0,386.3L801.0,386.2L802.0,386.1L803.0,386.0L804.0,385.9L805.0,385.8L806.0,385.8L807.0,385.7L808.0,385.7L809.0,385.7L810.0,385.6L811.0,385.6L812.0,385.6L813.0,385.6L814.0,385.7L815.0,385.7L816.0,385.7L817.0,385.8L818.0,385.8L819.0,385.9L820.0,386.0L821.0,386.1L822.0,386.2L823.0,386.3L824.0,386.4L825.0,386.5L826.0,386.6L827.0,386.8L828.0,386.9L829.0,387.1L830.0,387.3L831.0,387.5L832.0,387.7L833.0,387.9L834.0,388.1L835.0,388.3L836.0,388.5L837.0,388.8L838.0,389.0L839.0,389.3L840.0,389.5L841.0,389.8L842.0,390.1L843.0,390.4L844.0,390.6L845.0,390.9L846.0,391.2L847.0,391.6L848.0,391.9L849.0,392.2L850.0,392.5L851.0,392.8L852.0,393.2L853.0,393.5L854.0,393.8L855.0,394.2L856.0,394.5L857.0,394.9L858.0,395.2L859.0,395.6L860.0,395.9L861.0,396.3L862.0,396.6L863.0,397.0L864.0,397.3L865.0,397.6L866.0,398.0L867.0,398.3L868.0,398.6L869.0,398.9L870.0,399.2L871.0,399.5L872.0,399.8L873.0,400.1L874.0,400.4L875.0,400.6L876.0,400.9L877.0,401.1L878.0,401.3L879.0,401.5L880.0,401.7L881.0,401.9L882.0,402.1L883.0,402.2L884.0,402.4L885.0,402.5L886.0,402.6L887.0,402.7L888.0,402.8L889.0,402.8L890.0,402.8L891.0,402.9L892.0,402.8L893.0,402.8L894.0,402.8L895.0,402.7L896.0,402.7L897.0,402.6L898.0,402.5L899.0,402.4L900.0,402.2L901.0,402.1L902.0,401.9L903.0,401.7L904.0,401.6L905.0,401.3L906.0,401.1L907.0,400.9L908.0,400.7L909.0,400.4L910.0,400.2L911.0,399.9L912.0,399.7L913.0,399.4L914.0,399.1L915.0,398.8L916.0,398.5L917.0,398.2L918.0,398.0L919.0,397.7L920.0,397.4L921.0,397.1L922.0,396.8L923.0,396.5L924.0,396.2L925.0,395.9L926.0,395.6L927.0,395.4L928.0,395.1L929.0,394.8L930.0,394.6L931.0,394.3L932.0,394.1L933.0,393.8L934.0,393.6L935.0,393.4L936.0,393.2L937.0,393.0L938.0,392.8L939.0,392.6L940.0,392.4L941.0,392.3L942.0,392.1L943.0,392.0L944.0,391.9L945.0,391.8L946.0,391.7L947.0,391.6L948.0,391.5L949.0,391.4L950.0,391.4L951.0,391.4L952.0,391.3L953.0,391.3L954.0,391.4L955.0,391.4L956.0,391.4L957.0,391.5L958.0,391.6L959.0,391.6L960.0,391.7L961.0,391.9L962.0,392.0L963.0,392.1L964.0,392.3L965.0,392.5L966.0,392.7L967.0,392.9L968.0,393.1L969.0,393.4L970.0,393.6L971.0,393.9L972.0,394.2L973.0,394.5L974.0,394.8L975.0,395.1L976.0,395.5L977.0,395.8L978.0,396.2L979.0,396.6L980.0,397.0L981.0,397.4L982.0,397.8L983.0,398.3L984.0,398.7L985.0,399.2L986.0,399.6L987.0,400.1L988.0,400.6L989.0,401.0L990.0,401.5L991.0,402.0L992.0,402.5L993.0,403.0L994.0,403.5L995.0,404.0L996.0,404.5L997.0,404.9L998.0,405.4L999.0,405.9L1000.0,406.3L1001.0,406.7L1002.0,407.2L1003.0,407.6L1004.0,407.9L1005.0,408.3L1006.0,408.6L1007.0,408.9L1008.0,409.1L1009.0,409.4L1010.0,409.5L1011.0,409.7L1012.0,409.8L1013.0,409.8L1014.0,409.8L1015.0,409.8L1016.0,409.7L1017.0,409.6L1018.0,409.4L1019.0,409.1L1020.0,408.8L1021.0,408.5L1022.0,408.1L1023.0,407.6L1024.0,407.1L1025.0,406.5L1026.0,405.9L1027.0,405.2L1028.0,404.5L1029.0,403.7L1030.0,402.9L1031.0,402.1L1032.0,401.2L1033.0,400.2L1034.0,399.3L1035.0,398.3L1036.0,397.3L1037.0,396.2L1038.0,395.2L1039.0,394.1L1040.0,393.0L1041.0,391.8L1042.0,390.7L1043.0,389.6L1044.0,388.4L1045.0,387.3L1046.0,386.1L1047.0,384.9L1048.0,383.8L1049.0,382.6L1050.0,381.5L1051.0,380.3L1052.0,379.2L1053.0,378.1L1054.0,377.0L1055.0,375.9L1056.0,374.8L1057.0,373.7L1058.0,372.6L1059.0,371.6L1060.0,370.5L1061.0,369.5L1062.0,368.5L1063.0,367.5L1064.0,366.6L1065.0,365.6L1066.0,364.7L1067.0,363.8L1068.0,362.9L1069.0,362.0L1070.0,361.2L1071.0,360.3L1072.0,359.5L1073.0,358.7L1074.0,357.9L1075.0,357.1L1076.0,356.4L1077.0,355.7L1078.0,355.0L1079.0,354.3L1080.0,353.6L1081.0,352.9L1082.0,352.3L1083.0,351.7L1084.0,351.1L1085.0,350.5L1086.0,349.9L1087.0,349.3L1088.0,348.8L1089.0,348.3L1090.0,347.8L1091.0,347.3L1092.0,346.8L1093.0,346.3L1094.0,345.9L1095.0,345.4L1096.0,345.0L1097.0,344.6L1098.0,344.2L1099.0,343.9L1100.0,343.5L1101.0,343.1L1102.0,342.8L1103.0,342.5L1104.0,342.2L1105.0,341.9L1106.0,341.6L1107.0,341.3L1108.0,341.1L1109.0,340.8L1110.0,340.6L1111.0,340.4L1112.0,340.2L1113.0,340.0L1114.0,339.8L1115.0,339.7L1116.0,339.5L1117.0,339.4L1118.0,339.3L1119.0,339.1L1120.0,339.1L1121.0,339.0L1122.0,338.9L1123.0,338.8L1124.0,338.8L1125.0,338.8L1126.0,338.8L1127.0,338.8L1128.0,338.8" fill="none" stroke="#fff" stroke-width="4.05" stroke-linejoin="round" stroke-linecap="round"/>
</g>
<circle cx="197.0" cy="415.7" r="10.2" fill="#009090" stroke="#efefef" stroke-width="3"/>
<circle cx="197.0" cy="415.7" r="2.4" fill="#22252a"/>
<circle cx="217.0" cy="387.9" r="6.1" fill="#ffaad4" stroke="#dcdcdc" stroke-width="1.9"/>
<circle cx="292.1" cy="404.5" r="6.1" fill="#4b0096" stroke="#dcdcdc" stroke-width="1.9"/>
<circle cx="304.6" cy="416.8" r="6.1" fill="#ffff44" stroke="#dcdcdc" stroke-width="1.9"/>
<circle cx="471.1" cy="384.5" r="6.1" fill="#bb66ff" stroke="#dcdcdc" stroke-width="1.9"/>
<circle cx="477.3" cy="275.4" r="6.1" fill="#66b2ff" stroke="#dcdcdc" stroke-width="1.9"/>
<circle cx="503.3" cy="480.6" r="6.1" fill="#b8dcff" stroke="#dcdcdc" stroke-width="1.9"/>
<circle cx="517.3" cy="274.2" r="6.1" fill="#ff69b4" stroke="#dcdcdc" stroke-width="1.9"/>
<circle cx="547.1" cy="402.0" r="6.1" fill="#8b0000" stroke="#dcdcdc" stroke-width="1.9"/>
<circle cx="645.7" cy="298.8" r="6.1" fill="#0068e6" stroke="#dcdcdc" stroke-width="1.9"/>
<circle cx="703.4" cy="274.4" r="6.1" fill="#964b00" stroke="#dcdcdc" stroke-width="1.9"/>
<circle cx="717.1" cy="432.2" r="6.1" fill="#00f400" stroke="#dcdcdc" stroke-width="1.9"/>
<circle cx="889.7" cy="388.1" r="6.1" fill="#6aa82e" stroke="#dcdcdc" stroke-width="1.9"/>
<circle cx="1016.9" cy="404.5" r="6.1" fill="#e06060" stroke="#dcdcdc" stroke-width="1.9"/>
<circle cx="1100.8" cy="224.9" r="15" fill="#dfe0e0"/><path d="M1095,224.9h11.6M1100.8,219.1v11.6" stroke="#222" stroke-width="1.7" fill="none"/>
<circle cx="1100.8" cy="269.7" r="15" fill="#dfe0e0"/><path d="M1095,269.7h11.6" stroke="#222" stroke-width="1.7" fill="none"/>
</svg>
<div class="hl" style="top:203.1px">+12dB</div>
<div class="hl" style="top:236.2px">+9dB</div>
<div class="hl" style="top:269.3px">+6dB</div>
<div class="hl" style="top:302.3px">+3dB</div>
<div class="hl" style="top:335.4px">0dB</div>
<div class="hl" style="top:368.5px">-3dB</div>
<div class="hl" style="top:401.6px">-6dB</div>
<div class="hl" style="top:434.7px">-9dB</div>
<div class="hl" style="top:467.7px">-12dB</div>
<div class="hl" style="top:500.8px">-15dB</div>
<div class="hl" style="top:533.9px">-18dB</div>
<div class="hl" style="top:567.0px">-21dB</div>
<div class="hl" style="top:600.1px">-24dB</div>
<div class="vl" style="left:140.4px">32</div>
<div class="vl" style="left:241.6px">64</div>
<div class="vl" style="left:340.4px">125</div>
<div class="vl" style="left:441.6px">250</div>
<div class="vl" style="left:542.9px">500</div>
<div class="vl" style="left:644.0px">1k</div>
<div class="vl" style="left:745.4px">2k</div>
<div class="vl" style="left:846.6px">4k</div>
<div class="vl" style="left:949.0px">8k</div>
<div class="vl" style="left:1050.2px">16k</div>
</body></html>
